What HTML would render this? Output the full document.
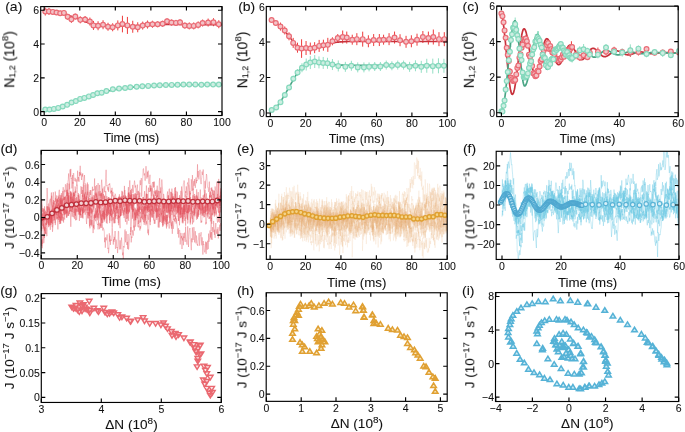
<!DOCTYPE html>
<html><head><meta charset="utf-8"><style>
html,body{margin:0;padding:0;background:#fff;overflow:hidden;}
svg{display:block;} text{will-change:opacity;}
text{font-family:"Liberation Sans", sans-serif;fill:#111;stroke:#111;stroke-width:0.08px;}
</style></head><body>
<svg width="685" height="432" viewBox="0 0 685 432">
<rect width="685" height="432" fill="#fff"/>
<defs><clipPath id="A"><rect x="40.7" y="6.6" width="181.3" height="108.9"/></clipPath><clipPath id="B"><rect x="266.3" y="6.5" width="180.9" height="110.1"/></clipPath><clipPath id="C"><rect x="496.7" y="6.2" width="181.5" height="110.4"/></clipPath><clipPath id="D"><rect x="41.1" y="150.4" width="180.1" height="108.5"/></clipPath><clipPath id="E"><rect x="266.35" y="150.8" width="180.85" height="108.55"/></clipPath><clipPath id="F"><rect x="496.2" y="151.3" width="182.7" height="108.15"/></clipPath><clipPath id="G"><rect x="41.3" y="293.6" width="180" height="108.85"/></clipPath><clipPath id="H"><rect x="266.2" y="292.75" width="181" height="108.6"/></clipPath><clipPath id="I"><rect x="495.5" y="292.55" width="183.2" height="108.95"/></clipPath></defs>
<g clip-path="url(#A)">
<path d="M45.28 7.55V15.55M48.97 7.88V14.88M52.81 9.39V14.39M56.52 10.07V15.07M60.2 10.74V15.74M63.94 10.4V15.4M67.67 13.79V19.79M71.4 15.83V22.83M75.31 13.62V19.62M80.29 16.33V23.33M85.09 16V23M89.89 17.52V25.52M93.45 20.91V29.91M98.07 21.25V30.25M103.05 20.23V29.23M108.03 22.76V30.76M112.65 23.27V31.27M117.81 20.41V30.41M122.43 15.76V32.36M127.41 16.91V33.91M132.74 20.76V32.76M137.72 22.27V32.27M142.7 21.58V29.58M147.5 20.56V28.56M152.48 20.73V27.73M157.64 21.23V27.23M162.61 20.72V26.72M167.06 18.35V24.35M171.5 19.54V25.54M175.95 19.88V25.88M180.04 19.37V25.37M184.84 22.58V28.58M189.28 22.42V29.42M193.73 22.42V29.42M198.17 21.4V28.4M202.62 19.54V26.54M208.13 18.54V26.54M213.47 18.2V26.2M218.8 20.23V28.23" stroke="#ee3b3b" stroke-width="1.0" fill="none"/>
<path d="M45.27 107.07V112.07M49.53 107.07V112.07M53.89 106.4V111.4M58.25 105.38V110.38M62.69 104.03V109.03M67.14 102.34V107.34M71.58 99.97V104.97M75.85 98.62V103.62M80.12 96.42V101.42M84.38 95.41V100.41M88.83 93.89V98.89M93.09 92.54V97.54M97.36 90.68V95.68M101.63 90.17V95.17M106.43 88.48V93.48M112.83 86.79V91.79M119.05 86.12V91.12M125.1 85.44V90.44M130.26 84.76V89.76M136.66 84.26V89.26M142.35 83.75V88.75M148.21 83.41V88.41M154.08 83.07V88.07M159.77 82.74V87.74M165.82 82.57V87.57M171.68 82.4V87.4M177.55 82.23V87.23M183.42 82.06V87.06M189.28 82.06V87.06M195.33 82.06V87.06M201.38 82.23V87.23M207.24 82.06V87.06M213.11 82.06V87.06M218.8 82.06V87.06" stroke="#93dfc4" stroke-width="1.0" fill="none"/>
<path d="M44.2 11.4 45.1 11.4 46 11.4 46.9 11.4 47.8 11.4 48.6 11.5 49.5 11.5 50.4 11.6 51.3 11.6 52.2 11.7 53.1 11.7 54 11.8 54.9 11.9 55.8 12 56.6 12.1 57.5 12.1 58.4 12.2 59.3 12.3 60.2 12.5 61.1 12.7 62 13 62.9 13.3 63.8 13.6 64.6 13.9 65.5 14.3 66.4 14.6 67.3 15 68.2 15.3 69.1 15.6 70 15.9 70.9 16.2 71.8 16.5 72.6 16.9 73.5 17.2 74.4 17.5 75.3 17.8 76.2 18.2 77.1 18.5 78 18.8 78.9 19.2 79.8 19.5 80.6 19.8 81.5 20.2 82.4 20.5 83.3 20.9 84.2 21.2 85.1 21.6 86 21.9 86.9 22.3 87.8 22.6 88.7 22.9 89.5 23.1 90.4 23.4 91.3 23.6 92.2 23.8 93.1 24 94 24.3 94.9 24.5 95.8 24.6 96.7 24.8 97.5 25 98.4 25.1 99.3 25.2 100.2 25.3 101.1 25.4 102 25.5 102.9 25.5 103.8 25.6 104.7 25.6 105.5 25.7 106.4 25.7 107.3 25.7 108.2 25.8 109.1 25.8 110 25.8 110.9 25.9 111.8 25.9 112.7 25.9 113.5 25.9 114.4 25.9 115.3 25.9 116.2 25.9 117.1 25.9 118 25.9 118.9 25.9 119.8 25.9 120.7 25.9 121.5 25.9 122.4 25.9 123.3 25.9 124.2 25.8 125.1 25.8 126 25.8 126.9 25.8 127.8 25.8 128.7 25.7 129.5 25.7 130.4 25.7 131.3 25.7 132.2 25.7 133.1 25.6 134 25.6 134.9 25.6 135.8 25.6 136.7 25.5 137.5 25.5 138.4 25.5 139.3 25.5 140.2 25.5 141.1 25.4 142 25.4 142.9 25.4 143.8 25.4 144.7 25.3 145.5 25.3 146.4 25.3 147.3 25.2 148.2 25.2 149.1 25.1 150 25.1 150.9 25 151.8 25 152.7 25 153.5 24.9 154.4 24.9 155.3 24.8 156.2 24.8 157.1 24.7 158 24.7 158.9 24.6 159.8 24.6 160.7 24.6 161.5 24.5 162.4 24.5 163.3 24.5 164.2 24.5 165.1 24.4 166 24.4 166.9 24.4 167.8 24.4 168.7 24.4 169.5 24.4 170.4 24.4 171.3 24.4 172.2 24.4 173.1 24.4 174 24.4 174.9 24.4 175.8 24.5 176.7 24.5 177.6 24.5 178.4 24.5 179.3 24.5 180.2 24.5 181.1 24.5 182 24.6 182.9 24.6 183.8 24.6 184.7 24.6 185.6 24.6 186.4 24.6 187.3 24.7 188.2 24.7 189.1 24.7 190 24.7 190.9 24.7 191.8 24.7 192.7 24.7 193.6 24.7 194.4 24.7 195.3 24.7 196.2 24.7 197.1 24.7 198 24.7 198.9 24.7 199.8 24.7 200.7 24.7 201.6 24.7 202.4 24.7 203.3 24.7 204.2 24.7 205.1 24.7 206 24.7 206.9 24.7 207.8 24.7 208.7 24.7 209.6 24.7 210.4 24.7 211.3 24.7 212.2 24.7 213.1 24.7 214 24.7 214.9 24.7 215.8 24.6 216.7 24.6 217.6 24.6 218.4 24.6 219.3 24.6 220.2 24.6 221.1 24.6 222 24.6" stroke="#c8323c" stroke-width="1.6" fill="none" stroke-linejoin="round" opacity="1.0"/>
<path d="M44.2 109.7 45.1 109.7 46 109.7 46.9 109.7 47.8 109.6 48.6 109.5 49.5 109.5 50.4 109.4 51.3 109.3 52.2 109.2 53.1 109.1 54 108.9 54.9 108.8 55.8 108.6 56.6 108.4 57.5 108.1 58.4 107.8 59.3 107.6 60.2 107.3 61.1 107 62 106.7 62.9 106.4 63.8 106.1 64.6 105.7 65.5 105.4 66.4 105 67.3 104.6 68.2 104.3 69.1 103.9 70 103.5 70.9 103.1 71.8 102.8 72.6 102.4 73.5 102 74.4 101.6 75.3 101.3 76.2 100.9 77.1 100.5 78 100.1 78.9 99.8 79.8 99.4 80.6 99.1 81.5 98.8 82.4 98.5 83.3 98.2 84.2 97.9 85.1 97.6 86 97.3 86.9 97 87.8 96.7 88.7 96.4 89.5 96.1 90.4 95.8 91.3 95.5 92.2 95.3 93.1 95 94 94.7 94.9 94.5 95.8 94.2 96.7 93.9 97.5 93.7 98.4 93.4 99.3 93.2 100.2 92.9 101.1 92.7 102 92.4 102.9 92.2 103.8 92 104.7 91.7 105.5 91.5 106.4 91.3 107.3 91.1 108.2 90.9 109.1 90.7 110 90.6 110.9 90.4 111.8 90.2 112.7 90 113.5 89.9 114.4 89.7 115.3 89.5 116.2 89.4 117.1 89.2 118 89.1 118.9 89 119.8 88.8 120.7 88.7 121.5 88.5 122.4 88.4 123.3 88.3 124.2 88.2 125.1 88 126 87.9 126.9 87.8 127.8 87.7 128.7 87.6 129.5 87.5 130.4 87.4 131.3 87.3 132.2 87.2 133.1 87.1 134 87 134.9 86.9 135.8 86.8 136.7 86.8 137.5 86.7 138.4 86.6 139.3 86.5 140.2 86.4 141.1 86.4 142 86.3 142.9 86.2 143.8 86.2 144.7 86.1 145.5 86 146.4 86 147.3 85.9 148.2 85.9 149.1 85.8 150 85.8 150.9 85.7 151.8 85.7 152.7 85.7 153.5 85.6 154.4 85.6 155.3 85.5 156.2 85.5 157.1 85.5 158 85.4 158.9 85.4 159.8 85.4 160.7 85.3 161.5 85.3 162.4 85.3 163.3 85.2 164.2 85.2 165.1 85.2 166 85.2 166.9 85.1 167.8 85.1 168.7 85.1 169.5 85.1 170.4 85 171.3 85 172.2 85 173.1 85 174 85 174.9 84.9 175.8 84.9 176.7 84.9 177.6 84.9 178.4 84.9 179.3 84.9 180.2 84.9 181.1 84.9 182 84.8 182.9 84.8 183.8 84.8 184.7 84.8 185.6 84.8 186.4 84.8 187.3 84.8 188.2 84.8 189.1 84.8 190 84.7 190.9 84.7 191.8 84.7 192.7 84.7 193.6 84.7 194.4 84.7 195.3 84.7 196.2 84.7 197.1 84.7 198 84.7 198.9 84.7 199.8 84.7 200.7 84.7 201.6 84.6 202.4 84.6 203.3 84.6 204.2 84.6 205.1 84.6 206 84.6 206.9 84.6 207.8 84.6 208.7 84.6 209.6 84.6 210.4 84.6 211.3 84.6 212.2 84.6 213.1 84.6 214 84.6 214.9 84.6 215.8 84.6 216.7 84.6 217.6 84.6 218.4 84.6 219.3 84.6 220.2 84.6 221.1 84.6 222 84.6" stroke="#4aa585" stroke-width="1.6" fill="none" stroke-linejoin="round" opacity="1.0"/>
<g stroke="#ea6b75" fill="#f3c3c7" stroke-width="1.2" opacity="1.0"><circle cx="45.28" cy="11.55" r="2.4"/><circle cx="48.97" cy="11.38" r="2.4"/><circle cx="52.81" cy="11.89" r="2.4"/><circle cx="56.52" cy="12.57" r="2.4"/><circle cx="60.2" cy="13.24" r="2.4"/><circle cx="63.94" cy="12.9" r="2.4"/><circle cx="67.67" cy="16.79" r="2.4"/><circle cx="71.4" cy="19.33" r="2.4"/><circle cx="75.31" cy="16.62" r="2.4"/><circle cx="80.29" cy="19.83" r="2.4"/><circle cx="85.09" cy="19.5" r="2.4"/><circle cx="89.89" cy="21.52" r="2.4"/><circle cx="93.45" cy="25.41" r="2.4"/><circle cx="98.07" cy="25.75" r="2.4"/><circle cx="103.05" cy="24.73" r="2.4"/><circle cx="108.03" cy="26.76" r="2.4"/><circle cx="112.65" cy="27.27" r="2.4"/><circle cx="117.81" cy="25.41" r="2.4"/><circle cx="122.43" cy="24.06" r="2.4"/><circle cx="127.41" cy="25.41" r="2.4"/><circle cx="132.74" cy="26.76" r="2.4"/><circle cx="137.72" cy="27.27" r="2.4"/><circle cx="142.7" cy="25.58" r="2.4"/><circle cx="147.5" cy="24.56" r="2.4"/><circle cx="152.48" cy="24.23" r="2.4"/><circle cx="157.64" cy="24.23" r="2.4"/><circle cx="162.61" cy="23.72" r="2.4"/><circle cx="167.06" cy="21.35" r="2.4"/><circle cx="171.5" cy="22.54" r="2.4"/><circle cx="175.95" cy="22.88" r="2.4"/><circle cx="180.04" cy="22.37" r="2.4"/><circle cx="184.84" cy="25.58" r="2.4"/><circle cx="189.28" cy="25.92" r="2.4"/><circle cx="193.73" cy="25.92" r="2.4"/><circle cx="198.17" cy="24.9" r="2.4"/><circle cx="202.62" cy="23.04" r="2.4"/><circle cx="208.13" cy="22.54" r="2.4"/><circle cx="213.47" cy="22.2" r="2.4"/><circle cx="218.8" cy="24.23" r="2.4"/></g>
<g stroke="#86d9bd" fill="#cdeee2" stroke-width="1.2" opacity="1.0"><circle cx="45.27" cy="109.57" r="2.4"/><circle cx="49.53" cy="109.57" r="2.4"/><circle cx="53.89" cy="108.9" r="2.4"/><circle cx="58.25" cy="107.88" r="2.4"/><circle cx="62.69" cy="106.53" r="2.4"/><circle cx="67.14" cy="104.84" r="2.4"/><circle cx="71.58" cy="102.47" r="2.4"/><circle cx="75.85" cy="101.12" r="2.4"/><circle cx="80.12" cy="98.92" r="2.4"/><circle cx="84.38" cy="97.91" r="2.4"/><circle cx="88.83" cy="96.39" r="2.4"/><circle cx="93.09" cy="95.04" r="2.4"/><circle cx="97.36" cy="93.18" r="2.4"/><circle cx="101.63" cy="92.67" r="2.4"/><circle cx="106.43" cy="90.98" r="2.4"/><circle cx="112.83" cy="89.29" r="2.4"/><circle cx="119.05" cy="88.62" r="2.4"/><circle cx="125.1" cy="87.94" r="2.4"/><circle cx="130.26" cy="87.26" r="2.4"/><circle cx="136.66" cy="86.76" r="2.4"/><circle cx="142.35" cy="86.25" r="2.4"/><circle cx="148.21" cy="85.91" r="2.4"/><circle cx="154.08" cy="85.57" r="2.4"/><circle cx="159.77" cy="85.24" r="2.4"/><circle cx="165.82" cy="85.07" r="2.4"/><circle cx="171.68" cy="84.9" r="2.4"/><circle cx="177.55" cy="84.73" r="2.4"/><circle cx="183.42" cy="84.56" r="2.4"/><circle cx="189.28" cy="84.56" r="2.4"/><circle cx="195.33" cy="84.56" r="2.4"/><circle cx="201.38" cy="84.73" r="2.4"/><circle cx="207.24" cy="84.56" r="2.4"/><circle cx="213.11" cy="84.56" r="2.4"/><circle cx="218.8" cy="84.56" r="2.4"/></g>
</g>
<g clip-path="url(#B)">
<path d="M271.59 19.99V19.99M275.79 21.51V24.51M280.46 22.56V30.56M284.74 26.46V34.46M289.03 32.32V40.32M293.2 37.89V47.89M297.49 42.68V52.68M301.58 39.27V57.87M306.05 41.03V55.03M310.3 42.57V54.57M314.64 42.18V53.18M319.15 39.91V51.91M323.4 39.7V50.7M327.82 37.84V51.84M332.43 37.29V45.29M337.74 34.09V42.09M342.69 30.53V43.53M346.76 31.56V43.56M352.25 34.69V44.69M356.85 33.16V45.16M362.69 31.66V46.66M368.36 35.29V47.29M373.67 34.05V46.05M379.33 34.05V46.05M383.58 34.69V44.69M389.07 33.16V45.16M394.55 31.56V43.56M400.04 34.23V46.23M406.06 35.82V47.82M411.37 35.29V47.29M417.03 33.69V45.69M422.87 31.03V43.03M428.36 31.59V44.59M433.32 29.53V44.53M438.98 32.16V46.16M444.29 32.16V46.16" stroke="#ee3b3b" stroke-width="1.0" fill="none"/>
<path d="M271.7 108.98V110.98M276.18 106.5V108.5M280.51 100.67V103.67M284.81 93.07V97.07M289.06 84.94V89.94M293.31 75.74V81.74M297.56 69.03V76.03M301.98 63.24V72.24M306.23 58.54V70.54M310.3 56.09V69.09M314.73 55.02V68.03M318.98 56.41V68.41M323.22 56.95V68.94M327.47 57.8V68.8M332.43 59.04V70.04M338.27 60.46V71.46M345.35 61.85V71.85M351.37 60.78V70.78M357.74 62.38V72.38M363.93 62.38V72.38M369.07 62.35V71.35M374.73 62V71M380.39 62V71M386.24 60.57V69.57M391.9 61.28V70.28M397.74 60.57V69.57M403.58 60.57V69.57M409.6 61.85V71.85M415.44 60.28V71.28M421.28 60.85V72.85M426.77 58.78V72.78M432.79 58.64V73.64M438.45 58.28V73.28M443.94 58.78V72.78" stroke="#93dfc4" stroke-width="1.0" fill="none"/>
<path d="M270.3 18.9 271.2 19.4 272.1 19.9 273 20.4 273.8 21 274.7 21.6 275.6 22.3 276.5 23 277.4 23.7 278.3 24.4 279.2 25.1 280 25.9 280.9 26.8 281.8 27.7 282.7 28.7 283.6 29.7 284.5 30.7 285.3 31.7 286.2 32.8 287.1 33.9 288 34.9 288.9 36 289.8 37.2 290.7 38.4 291.5 39.6 292.4 40.9 293.3 42.1 294.2 43.2 295.1 44.3 296 45.2 296.9 45.9 297.7 46.6 298.6 47.2 299.5 47.8 300.4 48.3 301.3 48.6 302.2 48.7 303 48.7 303.9 48.7 304.8 48.7 305.7 48.7 306.6 48.7 307.5 48.7 308.4 48.7 309.2 48.7 310.1 48.7 311 48.7 311.9 48.6 312.8 48.4 313.7 48.3 314.6 48.1 315.4 47.9 316.3 47.7 317.2 47.5 318.1 47.3 319 47.1 319.9 46.9 320.7 46.6 321.6 46.4 322.5 46.1 323.4 45.8 324.3 45.5 325.2 45.2 326.1 44.9 326.9 44.7 327.8 44.4 328.7 44.1 329.6 43.9 330.5 43.6 331.4 43.3 332.2 43.1 333.1 42.8 334 42.6 334.9 42.5 335.8 42.4 336.7 42.3 337.6 42.2 338.4 42.1 339.3 42 340.2 41.9 341.1 41.9 342 41.8 342.9 41.7 343.8 41.7 344.6 41.6 345.5 41.6 346.4 41.5 347.3 41.5 348.2 41.5 349.1 41.5 350 41.5 350.8 41.5 351.7 41.5 352.6 41.5 353.5 41.5 354.4 41.5 355.3 41.5 356.1 41.5 357 41.5 357.9 41.5 358.8 41.5 359.7 41.5 360.6 41.5 361.5 41.5 362.3 41.5 363.2 41.5 364.1 41.5 365 41.5 365.9 41.5 366.8 41.5 367.6 41.5 368.5 41.5 369.4 41.5 370.3 41.5 371.2 41.5 372.1 41.5 373 41.5 373.8 41.5 374.7 41.5 375.6 41.5 376.5 41.5 377.4 41.5 378.3 41.5 379.2 41.5 380 41.5 380.9 41.5 381.8 41.5 382.7 41.5 383.6 41.5 384.5 41.5 385.4 41.5 386.2 41.5 387.1 41.5 388 41.5 388.9 41.5 389.8 41.5 390.7 41.5 391.5 41.5 392.4 41.5 393.3 41.5 394.2 41.5 395.1 41.5 396 41.5 396.9 41.5 397.7 41.5 398.6 41.5 399.5 41.5 400.4 41.5 401.3 41.5 402.2 41.5 403.1 41.5 403.9 41.5 404.8 41.5 405.7 41.5 406.6 41.5 407.5 41.5 408.4 41.5 409.2 41.5 410.1 41.5 411 41.5 411.9 41.5 412.8 41.5 413.7 41.5 414.6 41.5 415.4 41.5 416.3 41.5 417.2 41.5 418.1 41.5 419 41.5 419.9 41.5 420.8 41.5 421.6 41.5 422.5 41.5 423.4 41.5 424.3 41.5 425.2 41.5 426.1 41.5 426.9 41.5 427.8 41.5 428.7 41.5 429.6 41.5 430.5 41.5 431.4 41.5 432.3 41.5 433.1 41.5 434 41.5 434.9 41.5 435.8 41.5 436.7 41.5 437.6 41.5 438.5 41.5 439.3 41.5 440.2 41.5 441.1 41.5 442 41.5 442.9 41.5 443.8 41.5 444.6 41.5 445.5 41.5 446.4 41.5 447.3 41.5" stroke="#c8323c" stroke-width="1.6" fill="none" stroke-linejoin="round" opacity="1.0"/>
<path d="M270.3 111.2 271.2 110.8 272.1 110.4 273 109.8 273.8 109.1 274.7 108.4 275.6 107.6 276.5 106.8 277.4 105.9 278.3 104.9 279.2 103.8 280 102.5 280.9 101.1 281.8 99.7 282.7 98.2 283.6 96.7 284.5 95.2 285.3 93.8 286.2 92.3 287.1 90.7 288 89.1 288.9 87.5 289.8 85.9 290.7 84.3 291.5 82.8 292.4 81.3 293.3 79.7 294.2 78.2 295.1 76.6 296 75.1 296.9 73.7 297.7 72.4 298.6 71.3 299.5 70.2 300.4 69.2 301.3 68.2 302.2 67.3 303 66.4 303.9 65.7 304.8 65.1 305.7 64.7 306.6 64.4 307.5 64.2 308.4 63.9 309.2 63.7 310.1 63.5 311 63.3 311.9 63.1 312.8 63 313.7 63 314.6 62.9 315.4 63 316.3 63 317.2 63.1 318.1 63.1 319 63.2 319.9 63.3 320.7 63.4 321.6 63.5 322.5 63.6 323.4 63.7 324.3 63.7 325.2 63.8 326.1 63.9 326.9 64 327.8 64.1 328.7 64.1 329.6 64.2 330.5 64.3 331.4 64.4 332.2 64.5 333.1 64.6 334 64.7 334.9 64.7 335.8 64.8 336.7 64.9 337.6 64.9 338.4 65 339.3 65 340.2 65.1 341.1 65.1 342 65.1 342.9 65.1 343.8 65.1 344.6 65.1 345.5 65.2 346.4 65.2 347.3 65.2 348.2 65.2 349.1 65.2 350 65.2 350.8 65.2 351.7 65.3 352.6 65.3 353.5 65.3 354.4 65.3 355.3 65.3 356.1 65.3 357 65.3 357.9 65.3 358.8 65.3 359.7 65.3 360.6 65.4 361.5 65.4 362.3 65.4 363.2 65.4 364.1 65.4 365 65.4 365.9 65.4 366.8 65.4 367.6 65.4 368.5 65.4 369.4 65.4 370.3 65.4 371.2 65.4 372.1 65.4 373 65.4 373.8 65.4 374.7 65.4 375.6 65.4 376.5 65.4 377.4 65.4 378.3 65.4 379.2 65.4 380 65.4 380.9 65.4 381.8 65.4 382.7 65.4 383.6 65.4 384.5 65.4 385.4 65.4 386.2 65.4 387.1 65.4 388 65.4 388.9 65.4 389.8 65.4 390.7 65.4 391.5 65.4 392.4 65.4 393.3 65.4 394.2 65.4 395.1 65.4 396 65.4 396.9 65.4 397.7 65.4 398.6 65.4 399.5 65.4 400.4 65.4 401.3 65.4 402.2 65.4 403.1 65.4 403.9 65.4 404.8 65.4 405.7 65.4 406.6 65.4 407.5 65.4 408.4 65.4 409.2 65.4 410.1 65.4 411 65.4 411.9 65.4 412.8 65.4 413.7 65.4 414.6 65.4 415.4 65.4 416.3 65.4 417.2 65.4 418.1 65.4 419 65.4 419.9 65.4 420.8 65.4 421.6 65.4 422.5 65.4 423.4 65.4 424.3 65.4 425.2 65.4 426.1 65.4 426.9 65.4 427.8 65.4 428.7 65.4 429.6 65.4 430.5 65.4 431.4 65.4 432.3 65.4 433.1 65.4 434 65.4 434.9 65.4 435.8 65.4 436.7 65.4 437.6 65.4 438.5 65.4 439.3 65.4 440.2 65.4 441.1 65.4 442 65.4 442.9 65.4 443.8 65.4 444.6 65.4 445.5 65.4 446.4 65.4 447.3 65.4" stroke="#4aa585" stroke-width="1.6" fill="none" stroke-linejoin="round" opacity="1.0"/>
<g stroke="#ea6b75" fill="#f3c3c7" stroke-width="1.2" opacity="1.0"><circle cx="271.59" cy="19.99" r="2.4"/><circle cx="275.79" cy="23.01" r="2.4"/><circle cx="280.46" cy="26.56" r="2.4"/><circle cx="284.74" cy="30.46" r="2.4"/><circle cx="289.03" cy="36.32" r="2.4"/><circle cx="293.2" cy="42.89" r="2.4"/><circle cx="297.49" cy="47.68" r="2.4"/><circle cx="301.58" cy="48.57" r="2.4"/><circle cx="306.05" cy="48.03" r="2.4"/><circle cx="310.3" cy="48.57" r="2.4"/><circle cx="314.64" cy="47.68" r="2.4"/><circle cx="319.15" cy="45.91" r="2.4"/><circle cx="323.4" cy="45.2" r="2.4"/><circle cx="327.82" cy="44.84" r="2.4"/><circle cx="332.43" cy="41.29" r="2.4"/><circle cx="337.74" cy="38.09" r="2.4"/><circle cx="342.69" cy="37.03" r="2.4"/><circle cx="346.76" cy="37.56" r="2.4"/><circle cx="352.25" cy="39.69" r="2.4"/><circle cx="356.85" cy="39.16" r="2.4"/><circle cx="362.69" cy="39.16" r="2.4"/><circle cx="368.36" cy="41.29" r="2.4"/><circle cx="373.67" cy="40.05" r="2.4"/><circle cx="379.33" cy="40.05" r="2.4"/><circle cx="383.58" cy="39.69" r="2.4"/><circle cx="389.07" cy="39.16" r="2.4"/><circle cx="394.55" cy="37.56" r="2.4"/><circle cx="400.04" cy="40.23" r="2.4"/><circle cx="406.06" cy="41.82" r="2.4"/><circle cx="411.37" cy="41.29" r="2.4"/><circle cx="417.03" cy="39.69" r="2.4"/><circle cx="422.87" cy="37.03" r="2.4"/><circle cx="428.36" cy="38.09" r="2.4"/><circle cx="433.32" cy="37.03" r="2.4"/><circle cx="438.98" cy="39.16" r="2.4"/><circle cx="444.29" cy="39.16" r="2.4"/></g>
<g stroke="#86d9bd" fill="#cdeee2" stroke-width="1.2" opacity="1.0"><circle cx="271.7" cy="109.98" r="2.4"/><circle cx="276.18" cy="107.5" r="2.4"/><circle cx="280.51" cy="102.17" r="2.4"/><circle cx="284.81" cy="95.07" r="2.4"/><circle cx="289.06" cy="87.44" r="2.4"/><circle cx="293.31" cy="78.74" r="2.4"/><circle cx="297.56" cy="72.53" r="2.4"/><circle cx="301.98" cy="67.74" r="2.4"/><circle cx="306.23" cy="64.54" r="2.4"/><circle cx="310.3" cy="62.59" r="2.4"/><circle cx="314.73" cy="61.52" r="2.4"/><circle cx="318.98" cy="62.41" r="2.4"/><circle cx="323.22" cy="62.95" r="2.4"/><circle cx="327.47" cy="63.3" r="2.4"/><circle cx="332.43" cy="64.54" r="2.4"/><circle cx="338.27" cy="65.96" r="2.4"/><circle cx="345.35" cy="66.85" r="2.4"/><circle cx="351.37" cy="65.78" r="2.4"/><circle cx="357.74" cy="67.38" r="2.4"/><circle cx="363.93" cy="67.38" r="2.4"/><circle cx="369.07" cy="66.85" r="2.4"/><circle cx="374.73" cy="66.5" r="2.4"/><circle cx="380.39" cy="66.5" r="2.4"/><circle cx="386.24" cy="65.07" r="2.4"/><circle cx="391.9" cy="65.78" r="2.4"/><circle cx="397.74" cy="65.07" r="2.4"/><circle cx="403.58" cy="65.07" r="2.4"/><circle cx="409.6" cy="66.85" r="2.4"/><circle cx="415.44" cy="65.78" r="2.4"/><circle cx="421.28" cy="66.85" r="2.4"/><circle cx="426.77" cy="65.78" r="2.4"/><circle cx="432.79" cy="66.14" r="2.4"/><circle cx="438.45" cy="65.78" r="2.4"/><circle cx="443.94" cy="65.78" r="2.4"/></g>
</g>
<g clip-path="url(#C)">
<path d="M501.4 11.61V15.55M502.46 14.06V18.24M503.52 21.27V23.46M504.58 27.85V32.94M505.64 36.47V39.18M506.7 45.85V49.5M507.76 54.12V55.46M508.83 60.42V61.51M509.89 67.96V75.17M510.95 76.12V78.9M512.01 76.9V81.6M513.07 78.97V82.89M514.13 79.2V82.14M515.19 78.66V81.44M516.25 71.67V77.18M517.31 66.26V69.53M518.37 63.69V67.32M519.43 55.61V59.66M520.49 50.74V57.57M521.56 44.96V50.59M522.62 42.2V47.12M523.68 37.92V40.56M524.74 39.92V40.61M525.8 35.33V41.61M526.86 38.05V44.37M527.92 43.9V47.56M528.98 52.14V57.44M530.04 53.79V59.67M531.1 58.37V64.36M532.16 63.01V69.22M533.22 71.69V74.59M534.28 70.24V77.88M535.35 75.66V76.67M536.41 72.5V78.57M537.47 68.08V73.27M538.53 68.35V74.44M539.59 62.31V70.82M540.65 57.14V64.71M541.71 58.67V59.92M542.77 54.35V54.35M543.83 47.34V53.3M544.89 46.76V48.32M545.95 46V49.97M547.01 41.98V48M548.08 42.95V43M549.14 48.99V48.99M550.2 43.76V48.38M551.26 47.09V51.2M552.32 50.82V54.23M553.38 47.91V52M554.44 53.25V55.19M555.5 59.36V59.72M556.56 56.93V60.53M557.62 57.97V59.64M558.68 60.54V60.59M559.74 56.26V61.47M560.8 57.67V61.52M561.87 54.81V59.78M562.93 53.79V55.42M563.99 55.62V58.04M565.05 52.84V54.45M566.11 52.3V54.18M567.17 47.03V54.5M568.23 49.39V54.51M569.29 46.16V54.01M570.35 45.14V52.95M571.41 41.24V53.1M572.12 45.15V48.81M575.95 50.14V59.27M579.78 54.05V60.84M583.61 51.69V58.66M587.44 55.48V59M589.8 49.68V55.57M597.9 47.51V56.29M606.01 48.28V55.08M614.11 46.75V53.94M622.21 48.8V55.1M630.32 47.22V56.99M638.42 48.55V55.5M646.52 47.54V50.54M654.63 50.01V55.35M662.73 51.11V54.11M670.83 50.06V53.06M678.94 49.59V55.31" stroke="#ee3b3b" stroke-width="1.0" fill="none"/>
<path d="M501.4 107.67V114.87M502.46 109.55V113.66M503.52 105.24V106.43M504.58 99.63V101.37M505.64 86.26V92.98M506.7 78.89V83.27M507.76 69.9V74.01M508.83 58.22V62.09M509.89 49.72V53.81M510.95 33.14V47.07M512.01 27.69V41.02M513.07 21.43V33.95M514.13 23.01V32.5M515.19 17.52V30.74M516.25 24.67V35.03M517.31 27.94V42.57M518.37 34.65V43.6M519.43 46.7V50.37M520.49 53.48V57.46M521.56 59.71V60.53M522.62 68.47V76.61M523.68 73.21V80.71M524.74 76.14V79.03M525.8 73.81V79.66M526.86 73.78V78.69M527.92 73.4V73.4M528.98 65.59V70.19M530.04 61.65V65.51M531.1 59.2V63.4M532.16 53.78V55.2M533.22 47.78V51.13M534.28 41.39V52.96M535.35 34.1V48.95M536.41 34.94V47.74M537.47 31.2V43.18M538.53 31.17V46.84M539.59 35.53V46.2M540.65 39.28V50.35M541.71 43.5V51.5M542.77 50.91V58.67M543.83 54.05V60.36M544.89 55.01V61.21M545.95 62.53V68.14M547.01 59.65V63.91M548.08 64.64V69.16M549.14 60.36V63.75M550.2 62.15V65.66M551.26 57.4V61.53M552.32 54.83V62.46M553.38 56.69V62.02M554.44 50.09V53.95M555.5 48.04V50.65M556.56 48.66V51.14M557.62 44.6V52.45M558.68 44.46V49.67M559.74 45.76V49.93M560.8 42.53V45.7M561.87 46.89V48.23M562.93 45.81V49.65M563.99 47.44V53.54M565.05 50.37V53.43M566.11 53.14V56.6M567.17 48.86V55.32M568.23 52.45V59.71M569.29 53.59V56.77M570.35 54.24V60.68M571.41 56.3V61.25M572.12 53.39V62.52M575.95 52.86V58.01M579.78 46.15V54.53M583.61 44.03V54.69M587.44 47.76V54.01M589.8 51.8V57.36M597.9 50.93V58.39M606.01 44.02V51.01M614.11 49.39V54.01M622.21 48.48V56.58M630.32 44.36V56.2M638.42 45.46V51.84M646.52 50.79V57.3M654.63 49.87V54.36M662.73 49.23V56.99M670.83 53.28V57.29M678.94 48.75V53.1" stroke="#93dfc4" stroke-width="1.0" fill="none"/>
<path d="M501.4 13.5 501.8 14.7 502.1 16.2 502.5 18 502.9 20.2 503.2 22.8 503.6 25.6 504 28.7 504.3 32 504.7 35.5 505.1 39.2 505.5 43 505.8 47 506.2 51 506.6 55 506.9 59 507.3 63 507.7 66.8 508 70.6 508.4 74.1 508.8 77.5 509.1 80.6 509.5 83.5 509.9 86.1 510.2 88.3 510.6 90.3 511 91.8 511.3 93.1 511.7 93.9 512.1 94.3 512.4 94.4 512.8 94.1 513.2 93.5 513.6 92.6 513.9 91.4 514.3 89.9 514.7 88.1 515 86.1 515.4 83.8 515.8 81.4 516.1 78.7 516.5 75.9 516.9 72.9 517.2 69.9 517.6 66.7 518 63.5 518.3 60.3 518.7 57.1 519.1 53.9 519.4 50.8 519.8 47.8 520.2 45 520.6 42.3 520.9 39.8 521.3 37.5 521.7 35.4 522 33.6 522.4 32.1 522.8 30.8 523.1 29.8 523.5 29.2 523.9 28.8 524.2 28.8 524.6 29 525 29.5 525.3 30.2 525.7 31.1 526.1 32.2 526.4 33.6 526.8 35.2 527.2 36.9 527.6 38.8 527.9 40.8 528.3 42.9 528.7 45.2 529 47.5 529.4 49.8 529.8 52.2 530.1 54.5 530.5 56.9 530.9 59.2 531.2 61.4 531.6 63.4 532 65.4 532.3 67.2 532.7 68.9 533.1 70.4 533.4 71.6 533.8 72.7 534.2 73.5 534.5 74.2 534.9 74.5 535.3 74.6 535.7 74.6 536 74.3 536.4 73.8 536.8 73.2 537.1 72.4 537.5 71.5 537.9 70.4 538.2 69.1 538.6 67.8 539 66.3 539.3 64.7 539.7 63.1 540.1 61.3 540.4 59.6 540.8 57.8 541.2 56 541.5 54.2 541.9 52.4 542.3 50.7 542.7 49 543 47.4 543.4 45.9 543.8 44.5 544.1 43.2 544.5 42.1 544.9 41.1 545.2 40.3 545.6 39.6 546 39.2 546.3 38.9 546.7 38.7 547.1 38.8 547.4 38.9 547.8 39.2 548.2 39.6 548.5 40.1 548.9 40.8 549.3 41.5 549.7 42.3 550 43.3 550.4 44.3 550.8 45.4 551.1 46.5 551.5 47.7 551.9 48.9 552.2 50.2 552.6 51.4 553 52.7 553.3 54 553.7 55.2 554.1 56.4 554.4 57.6 554.8 58.7 555.2 59.7 555.5 60.7 555.9 61.6 556.3 62.4 556.6 63 557 63.6 557.4 64 557.8 64.4 558.1 64.6 558.5 64.7 558.9 64.7 559.2 64.5 559.6 64.3 560 64 560.3 63.6 560.7 63.1 561.1 62.5 561.4 61.8 561.8 61.1 562.2 60.3 562.5 59.4 562.9 58.6 563.3 57.6 563.6 56.7 564 55.7 564.4 54.7 564.8 53.7 565.1 52.8 565.5 51.8 565.9 50.9 566.2 50 566.6 49.2 567 48.4 567.3 47.7 567.7 47.1 568.1 46.5 568.4 46.1 568.8 45.7 569.2 45.4 569.5 45.2 569.9 45.1 570.3 45.1 570.6 45.2 571 45.4 571.4 45.6 571.8 45.9 572.1 46.3 572.5 46.7 572.9 47.2 573.2 47.7 573.6 48.3 574 48.9 574.3 49.6 574.7 50.2 575.1 51 575.4 51.7 575.8 52.4 576.2 53.1 576.5 53.9 576.9 54.6 577.3 55.3 577.6 55.9 578 56.6 578.4 57.1 578.8 57.7 579.1 58.2 579.5 58.6 579.9 58.9 580.2 59.2 580.6 59.5 581 59.6 581.3 59.7 581.7 59.7 582.1 59.6 582.4 59.5 582.8 59.4 583.2 59.2 583.5 58.9 583.9 58.6 584.3 58.2 584.6 57.8 585 57.3 585.4 56.9 585.7 56.4 586.1 55.8 586.5 55.3 586.9 54.7 587.2 54.1 587.6 53.6 588 53 588.3 52.4 588.7 51.9 589.1 51.4 589.4 50.9 589.8 50.4 590.2 50 590.5 49.6 590.9 49.3 591.3 49 591.6 48.7 592 48.5 592.4 48.4 592.7 48.3 593.1 48.3 593.5 48.4 593.9 48.4 594.2 48.5 594.6 48.7 595 48.9 595.3 49.1 595.7 49.4 596.1 49.7 596.4 50 596.8 50.3 597.2 50.7 597.5 51.1 597.9 51.5 598.3 51.9 598.6 52.3 599 52.8 599.4 53.2 599.7 53.6 600.1 54 600.5 54.4 600.9 54.7 601.2 55.1 601.6 55.4 602 55.7 602.3 55.9 602.7 56.2 603.1 56.3 603.4 56.5 603.8 56.6 604.2 56.7 604.5 56.7 604.9 56.7 605.3 56.6 605.6 56.6 606 56.5 606.4 56.3 606.7 56.2 607.1 56 607.5 55.8 607.8 55.6 608.2 55.4 608.6 55.1 609 54.9 609.3 54.6 609.7 54.3 610.1 54 610.4 53.7 610.8 53.5 611.2 53.2 611.5 52.9 611.9 52.6 612.3 52.4 612.6 52.1 613 51.9 613.4 51.7 613.7 51.5 614.1 51.3 614.5 51.2 614.8 51 615.2 50.9 615.6 50.9 616 50.8 616.3 50.8 616.7 50.8 617.1 50.9 617.4 50.9 617.8 51 618.2 51.1 618.5 51.2 618.9 51.3 619.3 51.4 619.6 51.6 620 51.7 620.4 51.9 620.7 52.1 621.1 52.3 621.5 52.5 621.8 52.7 622.2 52.9 622.6 53.1 623 53.3 623.3 53.5 623.7 53.6 624.1 53.8 624.4 54 624.8 54.2 625.2 54.3 625.5 54.4 625.9 54.6 626.3 54.7 626.6 54.7 627 54.8 627.4 54.9 627.7 54.9 628.1 54.9 628.5 54.9 628.8 54.9 629.2 54.8 629.6 54.8 629.9 54.7 630.3 54.6 630.7 54.6 631.1 54.5 631.4 54.4 631.8 54.2 632.2 54.1 632.5 54 632.9 53.8 633.3 53.7 633.6 53.5 634 53.4 634.4 53.2 634.7 53.1 635.1 53 635.5 52.8 635.8 52.7 636.2 52.6 636.6 52.4 636.9 52.3 637.3 52.2 637.7 52.1 638.1 52.1 638.4 52 638.8 51.9 639.2 51.9 639.5 51.9 639.9 51.9 640.3 51.9 640.6 51.9 641 51.9 641.4 51.9 641.7 52 642.1 52 642.5 52.1 642.8 52.1 643.2 52.2 643.6 52.3 643.9 52.4 644.3 52.4 644.7 52.5 645 52.6 645.4 52.7 645.8 52.8 646.2 52.9 646.5 52.9 646.9 53 647.3 53.1 647.6 53.2 648 53.3 648.4 53.3 648.7 53.4 649.1 53.5 649.5 53.5 649.8 53.6 650.2 53.6 650.6 53.6 650.9 53.6 651.3 53.7 651.7 53.7 652 53.7 652.4 53.6 652.8 53.6 653.2 53.6 653.5 53.6 653.9 53.6 654.3 53.5 654.6 53.5 655 53.5 655.4 53.4 655.7 53.4 656.1 53.3 656.5 53.3 656.8 53.2 657.2 53.2 657.6 53.1 657.9 53.1 658.3 53 658.7 53 659 52.9 659.4 52.9 659.8 52.8 660.2 52.8 660.5 52.7 660.9 52.7 661.3 52.7 661.6 52.7 662 52.6 662.4 52.6 662.7 52.6 663.1 52.6 663.5 52.6 663.8 52.6 664.2 52.6 664.6 52.6 664.9 52.6 665.3 52.6 665.7 52.6 666 52.6 666.4 52.6 666.8 52.6 667.2 52.6 667.5 52.7 667.9 52.7 668.3 52.7 668.6 52.7 669 52.7 669.4 52.7 669.7 52.7 670.1 52.8 670.5 52.8 670.8 52.8 671.2 52.8 671.6 52.8 671.9 52.8 672.3 52.9 672.7 52.9 673 52.9 673.4 52.9 673.8 52.9 674.1 52.9 674.5 53 674.9 53 675.3 53 675.6 53 676 53 676.4 53 676.7 53 677.1 53.1 677.5 53.1 677.8 53.1 678.2 53.1" stroke="#c8323c" stroke-width="1.7" fill="none" stroke-linejoin="round" opacity="1.0"/>
<path d="M501.4 110.9 501.8 110.8 502.1 110.3 502.5 109.5 502.9 108.3 503.2 106.9 503.6 105.1 504 103.1 504.3 100.8 504.7 98.3 505.1 95.5 505.5 92.5 505.8 89.3 506.2 85.9 506.6 82.4 506.9 78.7 507.3 75 507.7 71.2 508 67.4 508.4 63.5 508.8 59.7 509.1 55.9 509.5 52.2 509.9 48.6 510.2 45.1 510.6 41.8 511 38.6 511.3 35.6 511.7 32.9 512.1 30.4 512.4 28.1 512.8 26.2 513.2 24.5 513.6 23.1 513.9 22 514.3 21.3 514.7 20.9 515 20.8 515.4 21.1 515.8 21.9 516.1 23.1 516.5 24.8 516.9 26.8 517.2 29.2 517.6 32 518 35.1 518.3 38.4 518.7 42 519.1 45.7 519.4 49.5 519.8 53.4 520.2 57.3 520.6 61.1 520.9 64.8 521.3 68.3 521.7 71.7 522 74.8 522.4 77.5 522.8 80 523.1 82 523.5 83.7 523.9 84.9 524.2 85.7 524.6 86 525 86 525.3 85.7 525.7 85.2 526.1 84.5 526.4 83.6 526.8 82.5 527.2 81.2 527.6 79.8 527.9 78.1 528.3 76.4 528.7 74.5 529 72.4 529.4 70.3 529.8 68.1 530.1 65.8 530.5 63.5 530.9 61.2 531.2 58.8 531.6 56.5 532 54.2 532.3 51.9 532.7 49.7 533.1 47.6 533.4 45.6 533.8 43.7 534.2 42 534.5 40.4 534.9 39 535.3 37.8 535.7 36.7 536 35.8 536.4 35.2 536.8 34.7 537.1 34.5 537.5 34.5 537.9 34.7 538.2 35.2 538.6 35.9 539 36.8 539.3 37.9 539.7 39.3 540.1 40.8 540.4 42.5 540.8 44.3 541.2 46.2 541.5 48.2 541.9 50.2 542.3 52.3 542.7 54.4 543 56.4 543.4 58.4 543.8 60.2 544.1 62 544.5 63.6 544.9 65.1 545.2 66.3 545.6 67.4 546 68.2 546.3 68.8 546.7 69.2 547.1 69.3 547.4 69.3 547.8 69.1 548.2 68.9 548.5 68.5 548.9 68.1 549.3 67.5 549.7 66.9 550 66.2 550.4 65.4 550.8 64.5 551.1 63.6 551.5 62.6 551.9 61.6 552.2 60.5 552.6 59.4 553 58.3 553.3 57.1 553.7 56 554.1 54.8 554.4 53.7 554.8 52.5 555.2 51.4 555.5 50.3 555.9 49.3 556.3 48.3 556.6 47.4 557 46.5 557.4 45.8 557.8 45 558.1 44.4 558.5 43.9 558.9 43.4 559.2 43.1 559.6 42.8 560 42.7 560.3 42.6 560.7 42.7 561.1 42.9 561.4 43.1 561.8 43.5 562.2 44 562.5 44.6 562.9 45.2 563.3 45.9 563.6 46.8 564 47.6 564.4 48.5 564.8 49.5 565.1 50.5 565.5 51.4 565.9 52.4 566.2 53.4 566.6 54.3 567 55.3 567.3 56.1 567.7 56.9 568.1 57.7 568.4 58.3 568.8 58.9 569.2 59.4 569.5 59.7 569.9 60 570.3 60.2 570.6 60.2 571 60.2 571.4 60.1 571.8 60 572.1 59.8 572.5 59.6 572.9 59.4 573.2 59.1 573.6 58.7 574 58.3 574.3 57.9 574.7 57.5 575.1 57 575.4 56.5 575.8 56 576.2 55.5 576.5 54.9 576.9 54.4 577.3 53.8 577.6 53.3 578 52.8 578.4 52.3 578.8 51.8 579.1 51.3 579.5 50.8 579.9 50.4 580.2 50 580.6 49.6 581 49.3 581.3 49 581.7 48.8 582.1 48.6 582.4 48.5 582.8 48.4 583.2 48.3 583.5 48.3 583.9 48.4 584.3 48.5 584.6 48.6 585 48.8 585.4 49.1 585.7 49.4 586.1 49.7 586.5 50.1 586.9 50.4 587.2 50.9 587.6 51.3 588 51.7 588.3 52.2 588.7 52.7 589.1 53.1 589.4 53.6 589.8 54.1 590.2 54.5 590.5 54.9 590.9 55.3 591.3 55.7 591.6 56 592 56.3 592.4 56.6 592.7 56.8 593.1 57 593.5 57.1 593.9 57.2 594.2 57.2 594.6 57.2 595 57.2 595.3 57.1 595.7 57 596.1 56.8 596.4 56.6 596.8 56.4 597.2 56.2 597.5 56 597.9 55.7 598.3 55.4 598.6 55.1 599 54.8 599.4 54.5 599.7 54.2 600.1 53.8 600.5 53.5 600.9 53.2 601.2 52.9 601.6 52.5 602 52.2 602.3 52 602.7 51.7 603.1 51.4 603.4 51.2 603.8 51 604.2 50.9 604.5 50.7 604.9 50.6 605.3 50.5 605.6 50.5 606 50.5 606.4 50.5 606.7 50.5 607.1 50.6 607.5 50.6 607.8 50.7 608.2 50.8 608.6 51 609 51.1 609.3 51.3 609.7 51.4 610.1 51.6 610.4 51.8 610.8 52 611.2 52.2 611.5 52.5 611.9 52.7 612.3 52.9 612.6 53.1 613 53.3 613.4 53.5 613.7 53.7 614.1 53.9 614.5 54.1 614.8 54.3 615.2 54.4 615.6 54.5 616 54.6 616.3 54.7 616.7 54.8 617.1 54.9 617.4 54.9 617.8 54.9 618.2 54.9 618.5 54.9 618.9 54.8 619.3 54.8 619.6 54.7 620 54.6 620.4 54.6 620.7 54.5 621.1 54.4 621.5 54.2 621.8 54.1 622.2 54 622.6 53.8 623 53.7 623.3 53.5 623.7 53.4 624.1 53.2 624.4 53.1 624.8 53 625.2 52.8 625.5 52.7 625.9 52.6 626.3 52.4 626.6 52.3 627 52.2 627.4 52.1 627.7 52.1 628.1 52 628.5 51.9 628.8 51.9 629.2 51.9 629.6 51.9 629.9 51.9 630.3 51.9 630.7 51.9 631.1 51.9 631.4 52 631.8 52 632.2 52.1 632.5 52.1 632.9 52.2 633.3 52.3 633.6 52.4 634 52.4 634.4 52.5 634.7 52.6 635.1 52.7 635.5 52.8 635.8 52.9 636.2 52.9 636.6 53 636.9 53.1 637.3 53.2 637.7 53.3 638.1 53.3 638.4 53.4 638.8 53.5 639.2 53.5 639.5 53.6 639.9 53.6 640.3 53.6 640.6 53.6 641 53.7 641.4 53.7 641.7 53.7 642.1 53.6 642.5 53.6 642.8 53.6 643.2 53.6 643.6 53.6 643.9 53.5 644.3 53.5 644.7 53.5 645 53.4 645.4 53.4 645.8 53.3 646.2 53.3 646.5 53.2 646.9 53.2 647.3 53.1 647.6 53.1 648 53 648.4 53 648.7 52.9 649.1 52.9 649.5 52.8 649.8 52.8 650.2 52.7 650.6 52.7 650.9 52.7 651.3 52.7 651.7 52.6 652 52.6 652.4 52.6 652.8 52.6 653.2 52.6 653.5 52.6 653.9 52.6 654.3 52.6 654.6 52.6 655 52.6 655.4 52.6 655.7 52.6 656.1 52.6 656.5 52.6 656.8 52.6 657.2 52.6 657.6 52.6 657.9 52.6 658.3 52.6 658.7 52.6 659 52.6 659.4 52.7 659.8 52.7 660.2 52.7 660.5 52.7 660.9 52.7 661.3 52.7 661.6 52.7 662 52.7 662.4 52.7 662.7 52.7 663.1 52.7 663.5 52.8 663.8 52.8 664.2 52.8 664.6 52.8 664.9 52.8 665.3 52.8 665.7 52.8 666 52.8 666.4 52.8 666.8 52.8 667.2 52.9 667.5 52.9 667.9 52.9 668.3 52.9 668.6 52.9 669 52.9 669.4 52.9 669.7 52.9 670.1 52.9 670.5 53 670.8 53 671.2 53 671.6 53 671.9 53 672.3 53 672.7 53 673 53 673.4 53 673.8 53 674.1 53 674.5 53.1 674.9 53.1 675.3 53.1 675.6 53.1 676 53.1 676.4 53.1 676.7 53.1 677.1 53.1 677.5 53.1 677.8 53.1 678.2 53.1" stroke="#4aa585" stroke-width="1.7" fill="none" stroke-linejoin="round" opacity="1.0"/>
<g stroke="#ea6b75" fill="#f3c3c7" stroke-width="1.2" opacity="1.0"><circle cx="501.4" cy="13.58" r="2.4"/><circle cx="502.46" cy="16.15" r="2.4"/><circle cx="503.52" cy="22.37" r="2.4"/><circle cx="504.58" cy="30.4" r="2.4"/><circle cx="505.64" cy="37.82" r="2.4"/><circle cx="506.7" cy="47.68" r="2.4"/><circle cx="507.76" cy="54.79" r="2.4"/><circle cx="508.83" cy="60.96" r="2.4"/><circle cx="509.89" cy="71.56" r="2.4"/><circle cx="510.95" cy="77.51" r="2.4"/><circle cx="512.01" cy="79.25" r="2.4"/><circle cx="513.07" cy="80.93" r="2.4"/><circle cx="514.13" cy="80.67" r="2.4"/><circle cx="515.19" cy="80.05" r="2.4"/><circle cx="516.25" cy="74.42" r="2.4"/><circle cx="517.31" cy="67.9" r="2.4"/><circle cx="518.37" cy="65.51" r="2.4"/><circle cx="519.43" cy="57.63" r="2.4"/><circle cx="520.49" cy="54.15" r="2.4"/><circle cx="521.56" cy="47.77" r="2.4"/><circle cx="522.62" cy="44.66" r="2.4"/><circle cx="523.68" cy="39.24" r="2.4"/><circle cx="524.74" cy="40.27" r="2.4"/><circle cx="525.8" cy="38.47" r="2.4"/><circle cx="526.86" cy="41.21" r="2.4"/><circle cx="527.92" cy="45.73" r="2.4"/><circle cx="528.98" cy="54.79" r="2.4"/><circle cx="530.04" cy="56.73" r="2.4"/><circle cx="531.1" cy="61.36" r="2.4"/><circle cx="532.16" cy="66.11" r="2.4"/><circle cx="533.22" cy="73.14" r="2.4"/><circle cx="534.28" cy="74.06" r="2.4"/><circle cx="535.35" cy="76.16" r="2.4"/><circle cx="536.41" cy="75.53" r="2.4"/><circle cx="537.47" cy="70.67" r="2.4"/><circle cx="538.53" cy="71.39" r="2.4"/><circle cx="539.59" cy="66.57" r="2.4"/><circle cx="540.65" cy="60.92" r="2.4"/><circle cx="541.71" cy="59.3" r="2.4"/><circle cx="542.77" cy="54.35" r="2.4"/><circle cx="543.83" cy="50.32" r="2.4"/><circle cx="544.89" cy="47.54" r="2.4"/><circle cx="545.95" cy="47.98" r="2.4"/><circle cx="547.01" cy="44.99" r="2.4"/><circle cx="548.08" cy="42.97" r="2.4"/><circle cx="549.14" cy="48.99" r="2.4"/><circle cx="550.2" cy="46.07" r="2.4"/><circle cx="551.26" cy="49.14" r="2.4"/><circle cx="552.32" cy="52.52" r="2.4"/><circle cx="553.38" cy="49.95" r="2.4"/><circle cx="554.44" cy="54.22" r="2.4"/><circle cx="555.5" cy="59.54" r="2.4"/><circle cx="556.56" cy="58.73" r="2.4"/><circle cx="557.62" cy="58.81" r="2.4"/><circle cx="558.68" cy="60.57" r="2.4"/><circle cx="559.74" cy="58.87" r="2.4"/><circle cx="560.8" cy="59.6" r="2.4"/><circle cx="561.87" cy="57.3" r="2.4"/><circle cx="562.93" cy="54.61" r="2.4"/><circle cx="563.99" cy="56.83" r="2.4"/><circle cx="565.05" cy="53.64" r="2.4"/><circle cx="566.11" cy="53.24" r="2.4"/><circle cx="567.17" cy="50.76" r="2.4"/><circle cx="568.23" cy="51.95" r="2.4"/><circle cx="569.29" cy="50.08" r="2.4"/><circle cx="570.35" cy="49.05" r="2.4"/><circle cx="571.41" cy="47.17" r="2.4"/><circle cx="572.12" cy="46.98" r="2.4"/><circle cx="575.95" cy="54.7" r="2.4"/><circle cx="579.78" cy="57.44" r="2.4"/><circle cx="583.61" cy="55.18" r="2.4"/><circle cx="587.44" cy="57.24" r="2.4"/><circle cx="589.8" cy="52.63" r="2.4"/><circle cx="597.9" cy="51.9" r="2.4"/><circle cx="606.01" cy="51.68" r="2.4"/><circle cx="614.11" cy="50.35" r="2.4"/><circle cx="622.21" cy="51.95" r="2.4"/><circle cx="630.32" cy="52.1" r="2.4"/><circle cx="638.42" cy="52.02" r="2.4"/><circle cx="646.52" cy="49.04" r="2.4"/><circle cx="654.63" cy="52.68" r="2.4"/><circle cx="662.73" cy="52.61" r="2.4"/><circle cx="670.83" cy="51.56" r="2.4"/><circle cx="678.94" cy="52.45" r="2.4"/></g>
<g stroke="#86d9bd" fill="#cdeee2" stroke-width="1.2" opacity="1.0"><circle cx="501.4" cy="111.27" r="2.4"/><circle cx="502.46" cy="111.61" r="2.4"/><circle cx="503.52" cy="105.83" r="2.4"/><circle cx="504.58" cy="100.5" r="2.4"/><circle cx="505.64" cy="89.62" r="2.4"/><circle cx="506.7" cy="81.08" r="2.4"/><circle cx="507.76" cy="71.96" r="2.4"/><circle cx="508.83" cy="60.15" r="2.4"/><circle cx="509.89" cy="51.76" r="2.4"/><circle cx="510.95" cy="40.1" r="2.4"/><circle cx="512.01" cy="34.35" r="2.4"/><circle cx="513.07" cy="27.69" r="2.4"/><circle cx="514.13" cy="27.75" r="2.4"/><circle cx="515.19" cy="24.13" r="2.4"/><circle cx="516.25" cy="29.85" r="2.4"/><circle cx="517.31" cy="35.25" r="2.4"/><circle cx="518.37" cy="39.12" r="2.4"/><circle cx="519.43" cy="48.53" r="2.4"/><circle cx="520.49" cy="55.47" r="2.4"/><circle cx="521.56" cy="60.12" r="2.4"/><circle cx="522.62" cy="72.54" r="2.4"/><circle cx="523.68" cy="76.96" r="2.4"/><circle cx="524.74" cy="77.58" r="2.4"/><circle cx="525.8" cy="76.74" r="2.4"/><circle cx="526.86" cy="76.24" r="2.4"/><circle cx="527.92" cy="73.4" r="2.4"/><circle cx="528.98" cy="67.89" r="2.4"/><circle cx="530.04" cy="63.58" r="2.4"/><circle cx="531.1" cy="61.3" r="2.4"/><circle cx="532.16" cy="54.49" r="2.4"/><circle cx="533.22" cy="49.45" r="2.4"/><circle cx="534.28" cy="47.18" r="2.4"/><circle cx="535.35" cy="41.53" r="2.4"/><circle cx="536.41" cy="41.34" r="2.4"/><circle cx="537.47" cy="37.19" r="2.4"/><circle cx="538.53" cy="39.01" r="2.4"/><circle cx="539.59" cy="40.86" r="2.4"/><circle cx="540.65" cy="44.81" r="2.4"/><circle cx="541.71" cy="47.5" r="2.4"/><circle cx="542.77" cy="54.79" r="2.4"/><circle cx="543.83" cy="57.21" r="2.4"/><circle cx="544.89" cy="58.11" r="2.4"/><circle cx="545.95" cy="65.33" r="2.4"/><circle cx="547.01" cy="61.78" r="2.4"/><circle cx="548.08" cy="66.9" r="2.4"/><circle cx="549.14" cy="62.06" r="2.4"/><circle cx="550.2" cy="63.9" r="2.4"/><circle cx="551.26" cy="59.47" r="2.4"/><circle cx="552.32" cy="58.65" r="2.4"/><circle cx="553.38" cy="59.36" r="2.4"/><circle cx="554.44" cy="52.02" r="2.4"/><circle cx="555.5" cy="49.34" r="2.4"/><circle cx="556.56" cy="49.9" r="2.4"/><circle cx="557.62" cy="48.52" r="2.4"/><circle cx="558.68" cy="47.07" r="2.4"/><circle cx="559.74" cy="47.85" r="2.4"/><circle cx="560.8" cy="44.12" r="2.4"/><circle cx="561.87" cy="47.56" r="2.4"/><circle cx="562.93" cy="47.73" r="2.4"/><circle cx="563.99" cy="50.49" r="2.4"/><circle cx="565.05" cy="51.9" r="2.4"/><circle cx="566.11" cy="54.87" r="2.4"/><circle cx="567.17" cy="52.09" r="2.4"/><circle cx="568.23" cy="56.08" r="2.4"/><circle cx="569.29" cy="55.18" r="2.4"/><circle cx="570.35" cy="57.46" r="2.4"/><circle cx="571.41" cy="58.77" r="2.4"/><circle cx="572.12" cy="57.96" r="2.4"/><circle cx="575.95" cy="55.43" r="2.4"/><circle cx="579.78" cy="50.34" r="2.4"/><circle cx="583.61" cy="49.36" r="2.4"/><circle cx="587.44" cy="50.89" r="2.4"/><circle cx="589.8" cy="54.58" r="2.4"/><circle cx="597.9" cy="54.66" r="2.4"/><circle cx="606.01" cy="47.52" r="2.4"/><circle cx="614.11" cy="51.7" r="2.4"/><circle cx="622.21" cy="52.53" r="2.4"/><circle cx="630.32" cy="50.28" r="2.4"/><circle cx="638.42" cy="48.65" r="2.4"/><circle cx="646.52" cy="54.04" r="2.4"/><circle cx="654.63" cy="52.11" r="2.4"/><circle cx="662.73" cy="53.11" r="2.4"/><circle cx="670.83" cy="55.29" r="2.4"/><circle cx="678.94" cy="50.93" r="2.4"/></g>
</g>
<g clip-path="url(#D)">
<path d="M41.3 226.3 41.7 231.2 42 221.1 42.4 213.6 42.7 217.6 43.1 217.3 43.5 208.4 43.8 217.1 44.2 223.1 44.5 230.1 44.9 224.5 45.3 213 45.6 210.7 46 220.8 46.3 224.6 46.7 223.8 47.1 218.4 47.4 218.6 47.8 215.9 48.1 213.9 48.5 216.3 48.9 215.5 49.2 213.4 49.6 213.9 49.9 210.3 50.3 200.1 50.7 203 51 207.2 51.4 219.3 51.7 212 52.1 222.5 52.5 223.7 52.8 210.2 53.2 204.8 53.5 207.3 53.9 217.5 54.3 213.7 54.6 213.6 55 205.3 55.3 191.5 55.7 197.3 56.1 205.7 56.4 211.6 56.8 207.2 57.1 205.6 57.5 210.6 57.9 204.8 58.2 209.6 58.6 197.8 58.9 192.6 59.3 189.8 59.6 197.6 60 194.9 60.4 197.3 60.7 199.6 61.1 200 61.4 205.7 61.8 208.8 62.2 196.3 62.5 196.3 62.9 193.5 63.2 187.2 63.6 200.5 64 200.4 64.3 194.2 64.7 189.8 65 192.1 65.4 184.3 65.8 185.3 66.1 194.1 66.5 195.9 66.8 185.9 67.2 183.2 67.6 195.8 67.9 181.6 68.3 179.4 68.6 173.5 69 181 69.4 183.5 69.7 189.3 70.1 169.5 70.4 176.7 70.8 168.9 71.2 178.7 71.5 177.9 71.9 188.4 72.2 185 72.6 175 73 183.7 73.3 173.4 73.7 173 74 180.9 74.4 181 74.8 180.6 75.1 177.8 75.5 179.3 75.8 181.6 76.2 179.3 76.6 182.6 76.9 185.5 77.3 179.2 77.6 170.7 78 181.4 78.4 177 78.7 178.9 79.1 181.7 79.4 172 79.8 176 80.2 165.8 80.5 175.1 80.9 172.5 81.2 175.3 81.6 180 82 174.3 82.3 176.5 82.7 173.3 83 176.2 83.4 184.1 83.8 182.1 84.1 180.7 84.5 175 84.8 184.1 85.2 183.4 85.6 193.7 85.9 184.4 86.3 191.1 86.6 198.9 87 192.2 87.4 182.5 87.7 194.4 88.1 197.5 88.4 197.1 88.8 199.5 89.2 191.8 89.5 195.7 89.9 197.1 90.2 190 90.6 195 91 190.2 91.3 196.5 91.7 200.8 92 206.5 92.4 186.7 92.8 190.9 93.1 189.4 93.5 190.3 93.8 189.5 94.2 189.7 94.6 178.5 94.9 191.2 95.3 199.9 95.6 200.5 96 202.6 96.3 190.8 96.7 185 97.1 193 97.4 199.1 97.8 195.4 98.1 183.1 98.5 202.9 98.9 191.4 99.2 195.8 99.6 184.9 99.9 192.7 100.3 191.2 100.7 197.8 101 197.5 101.4 182.9 101.7 179.7 102.1 185.5 102.5 190.8 102.8 199.3 103.2 193.9 103.5 189.2 103.9 187.3 104.3 186.4 104.6 192.2 105 188.3 105.3 186.3 105.7 177.3 106.1 169.8 106.4 178.4 106.8 186.1 107.1 185.3 107.5 188.2 107.9 190.3 108.2 187.2 108.6 191.8 108.9 184 109.3 184.9 109.7 183.3 110 185.4 110.4 189.9 110.7 193.4 111.1 190.9 111.5 192 111.8 188 112.2 187.9 112.5 196.3 112.9 191.8 113.3 198.6 113.6 197.6 114 195.5 114.3 205.7 114.7 197.5 115.1 193.7 115.4 194.3 115.8 196.4 116.1 197.4 116.5 201.8 116.9 199.8 117.2 201 117.6 197.8 117.9 204.6 118.3 199.1 118.7 197.5 119 198.7 119.4 201.2 119.7 196.6 120.1 208 120.5 200.5 120.8 198.5 121.2 197.5 121.5 196.4 121.9 202.3 122.3 202.5 122.6 197.2 123 196 123.3 196.7 123.7 207.4 124.1 199.8 124.4 192.4 124.8 190 125.1 193.4 125.5 205.7 125.9 196 126.2 198.1 126.6 213.3 126.9 202.4 127.3 208.6 127.7 210 128 206.5 128.4 193.2 128.7 196.9 129.1 194.5 129.5 184.3 129.8 180.4 130.2 188.7 130.5 193 130.9 200.9 131.2 200.8 131.6 193.7 132 190.5 132.3 190.5 132.7 184.9 133 192.9 133.4 191.9 133.8 186.4 134.1 184.6 134.5 180.6 134.8 182.6 135.2 187.5 135.6 185.5 135.9 192.5 136.3 199.3 136.6 188.7 137 187.6 137.4 184.6 137.7 195.2 138.1 191.7 138.4 191.4 138.8 192.6 139.2 201.4 139.5 193.5 139.9 182.3 140.2 180.3 140.6 185.1 141 183.6 141.3 178.1 141.7 196.7 142 189.1 142.4 181.5 142.8 177.1 143.1 168.9 143.5 168.5 143.8 173.3 144.2 175.4 144.6 173.4 144.9 180.5 145.3 180.7 145.6 175 146 166.2 146.4 175 146.7 178.4 147.1 178.5 147.4 171.8 147.8 177.2 148.2 170.6 148.5 182.6 148.9 183.4 149.2 184.1 149.6 178.6 150 174.8 150.3 188.8 150.7 191.7 151 185.7 151.4 189.3 151.8 196.4 152.1 184.4 152.5 182.5 152.8 182 153.2 187.9 153.6 181.8 153.9 187 154.3 181.6 154.6 191.7 155 196.1 155.4 192.1 155.7 196.1 156.1 189.9 156.4 189.9 156.8 197.4 157.2 195.1 157.5 196.9 157.9 190.4 158.2 197.2 158.6 199.4 159 190.7 159.3 180.9 159.7 178.2 160 189 160.4 193.2 160.8 187.4 161.1 195.1 161.5 203.9 161.8 201.5 162.2 198.7 162.6 205.4 162.9 213.5 163.3 216.1 163.6 204.7 164 208.4 164.4 206.5 164.7 203.6 165.1 199.9 165.4 204.2 165.8 201.1 166.2 208.2 166.5 208.2 166.9 212.2 167.2 201 167.6 202.9 167.9 208.1 168.3 208.1 168.7 207.3 169 201.3 169.4 212.5 169.7 214.2 170.1 210.9 170.5 191.8 170.8 192.7 171.2 199.6 171.5 197.6 171.9 188.6 172.3 198.4 172.6 203.5 173 196.3 173.3 197.3 173.7 196.7 174.1 203.5 174.4 191.8 174.8 187.8 175.1 192.9 175.5 194.4 175.9 211.5 176.2 203 176.6 204.1 176.9 200.8 177.3 197.8 177.7 202.5 178 212.8 178.4 204.9 178.7 208 179.1 206.9 179.5 208 179.8 206.9 180.2 218.2 180.5 201.9 180.9 200.4 181.3 194.5 181.6 186.5 182 194.7 182.3 209.4 182.7 210.4 183.1 212.8 183.4 209.5 183.8 204.5 184.1 214.7 184.5 205.1 184.9 212 185.2 204.1 185.6 203 185.9 203.6 186.3 202.5 186.7 204.7 187 206.1 187.4 213.2 187.7 206.3 188.1 191.9 188.5 184.5 188.8 185.2 189.2 189.2 189.5 199.3 189.9 191 190.3 196.3 190.6 198.8 191 201.2 191.3 199.9 191.7 202.5 192.1 201.6 192.4 207.2 192.8 205.4 193.1 188.6 193.5 195.2 193.9 199.2 194.2 196.3 194.6 194 194.9 203.9 195.3 202.9 195.7 195.7 196 196.3 196.4 197.5 196.7 189.4 197.1 199.2 197.5 199.1 197.8 202.6 198.2 192.1 198.5 208.1 198.9 207.6 199.3 206.5 199.6 198.8 200 195.7 200.3 189.5 200.7 204.7 201.1 197.5 201.4 200.5 201.8 204.2 202.1 198.5 202.5 204.8 202.9 214.6 203.2 208.7 203.6 212.9 203.9 209.6 204.3 202 204.6 198.9 205 189.8 205.4 196.5 205.7 207.6 206.1 207.9 206.4 209 206.8 211.3 207.2 202.4 207.5 204.9 207.9 214 208.2 202 208.6 201.5 209 198.4 209.3 198.5 209.7 195.4 210 197.6 210.4 191.4 210.8 193.4 211.1 194.6 211.5 195 211.8 206.5 212.2 203.8 212.6 203.2 212.9 200.1 213.3 208.2 213.6 193.7 214 196.4 214.4 205.6 214.7 212.8 215.1 207.3 215.4 203.7 215.8 205.9 216.2 202 216.5 204.7 216.9 198.7 217.2 203.7 217.6 201.8 218 194.8 218.3 182 218.7 197.9 219 201.8 219.4 205.8 219.8 197.8 220.1 205.8 220.5 205.5 220.8 202.5 221.2 207" stroke="#e5505c" stroke-width="1.0" fill="none" stroke-linejoin="round" opacity="0.33"/>
<path d="M41.3 235.1 41.7 237.4 42 247.6 42.4 248.2 42.7 242.1 43.1 235.9 43.5 234.8 43.8 243.2 44.2 239.2 44.5 229.8 44.9 226.7 45.3 228.7 45.6 234.1 46 227.5 46.3 231.3 46.7 236.2 47.1 236 47.4 222.6 47.8 223.5 48.1 218.2 48.5 225.2 48.9 219.8 49.2 226.2 49.6 226.2 49.9 210.7 50.3 213.4 50.7 221.9 51 223.1 51.4 221 51.7 214.8 52.1 221.6 52.5 231.8 52.8 227.8 53.2 224 53.5 221.6 53.9 213.4 54.3 215.3 54.6 213.2 55 223.2 55.3 216.1 55.7 205.6 56.1 208.5 56.4 212.7 56.8 215 57.1 206.5 57.5 218.3 57.9 218.8 58.2 215.6 58.6 212.4 58.9 217.7 59.3 215.7 59.6 218.2 60 216.9 60.4 217.7 60.7 223.8 61.1 220 61.4 213 61.8 220.5 62.2 219.6 62.5 213.8 62.9 221.2 63.2 217.2 63.6 222.6 64 212.2 64.3 200.5 64.7 196.9 65 208.3 65.4 207.8 65.8 211.1 66.1 212.6 66.5 204.8 66.8 217.9 67.2 210 67.6 212.7 67.9 205.5 68.3 209.2 68.6 215.9 69 213.3 69.4 209.4 69.7 211.7 70.1 210.1 70.4 215.1 70.8 226.8 71.2 214.3 71.5 209.8 71.9 211 72.2 212 72.6 206.7 73 213 73.3 217.3 73.7 216.2 74 207.6 74.4 218.8 74.8 208.7 75.1 214.9 75.5 220.3 75.8 209 76.2 211.8 76.6 220.1 76.9 218.3 77.3 210 77.6 204.8 78 211.8 78.4 210.2 78.7 207.7 79.1 214.5 79.4 211.8 79.8 212.9 80.2 216.3 80.5 217.7 80.9 215.1 81.2 214.2 81.6 217.4 82 218 82.3 209.5 82.7 210.9 83 207.8 83.4 204.6 83.8 206.8 84.1 198.1 84.5 212.4 84.8 209.3 85.2 214.7 85.6 204.5 85.9 201 86.3 220.7 86.6 224 87 216.1 87.4 212 87.7 210.5 88.1 214.7 88.4 213.6 88.8 212.1 89.2 215.9 89.5 211.2 89.9 228.4 90.2 219.4 90.6 225.2 91 216.4 91.3 219.4 91.7 224.8 92 220 92.4 225.4 92.8 228 93.1 233.1 93.5 226.6 93.8 220.7 94.2 215.1 94.6 219.5 94.9 214.7 95.3 218.7 95.6 221.2 96 218.6 96.3 214.8 96.7 221.4 97.1 223.9 97.4 224.7 97.8 223.9 98.1 229.4 98.5 220.8 98.9 225.5 99.2 222.7 99.6 229.2 99.9 225.4 100.3 223.7 100.7 227.9 101 215.8 101.4 220.2 101.7 214.2 102.1 216.5 102.5 227.1 102.8 230.5 103.2 227.6 103.5 228.6 103.9 229.4 104.3 231.9 104.6 242.2 105 237.8 105.3 247.7 105.7 237.3 106.1 239.2 106.4 240.3 106.8 238.1 107.1 234.5 107.5 243 107.9 248.9 108.2 247.8 108.6 253.2 108.9 249.6 109.3 233.3 109.7 241.6 110 235.6 110.4 244.9 110.7 239.6 111.1 241 111.5 240.3 111.8 236.5 112.2 228.1 112.5 233.6 112.9 236.6 113.3 244.6 113.6 239.2 114 241.8 114.3 236.9 114.7 239.9 115.1 231 115.4 248.8 115.8 247.1 116.1 239.6 116.5 243.5 116.9 247.9 117.2 247 117.6 253.1 117.9 247.2 118.3 231.1 118.7 231.4 119 244.7 119.4 249.4 119.7 248.8 120.1 240.3 120.5 247.1 120.8 249.4 121.2 241.2 121.5 237.6 121.9 243.1 122.3 249.8 122.6 255.2 123 252.5 123.3 260.1 123.7 246 124.1 247.5 124.4 241.5 124.8 230.6 125.1 229.5 125.5 242.3 125.9 236.1 126.2 231.3 126.6 240 126.9 244.9 127.3 241.9 127.7 249 128 234 128.4 249.5 128.7 248.7 129.1 243.1 129.5 240 129.8 236.1 130.2 233.4 130.5 234.7 130.9 227.1 131.2 242.4 131.6 236.6 132 237.8 132.3 233.1 132.7 230.2 133 235.2 133.4 235.5 133.8 227.1 134.1 225.6 134.5 230.6 134.8 216.7 135.2 208.7 135.6 226.7 135.9 224.3 136.3 210.2 136.6 213.6 137 218.2 137.4 222.6 137.7 226.3 138.1 225.8 138.4 227.4 138.8 220.4 139.2 223.8 139.5 225.4 139.9 230.5 140.2 226 140.6 228.7 141 225.7 141.3 217.2 141.7 217.2 142 216.3 142.4 216.7 142.8 218.5 143.1 220.3 143.5 222.1 143.8 216.6 144.2 224.8 144.6 214.3 144.9 217.1 145.3 222.8 145.6 223.8 146 225.3 146.4 221.1 146.7 224.2 147.1 214.7 147.4 221.6 147.8 233.3 148.2 229.5 148.5 235.2 148.9 226.3 149.2 215.8 149.6 213.4 150 223.8 150.3 225.1 150.7 210.9 151 212.9 151.4 215.6 151.8 210.7 152.1 200.2 152.5 202.2 152.8 209.8 153.2 211.9 153.6 211.3 153.9 218.1 154.3 223.8 154.6 219.8 155 223.8 155.4 220.3 155.7 217.8 156.1 203.6 156.4 215.7 156.8 216.9 157.2 217.6 157.5 214.4 157.9 209.3 158.2 216 158.6 220.8 159 227.7 159.3 226.6 159.7 217.5 160 216.2 160.4 221.8 160.8 220.5 161.1 217.5 161.5 213.3 161.8 217.8 162.2 217.7 162.6 226.7 162.9 226.8 163.3 210.7 163.6 225.5 164 221.3 164.4 216.1 164.7 217.2 165.1 220.1 165.4 217 165.8 215.1 166.2 214.7 166.5 224.8 166.9 219.2 167.2 220.7 167.6 219.5 167.9 214.4 168.3 209.5 168.7 205.7 169 211.9 169.4 206.3 169.7 202.2 170.1 200.4 170.5 197.9 170.8 205.6 171.2 209 171.5 204.5 171.9 215.1 172.3 210.5 172.6 212.5 173 212.2 173.3 219.9 173.7 218.2 174.1 212.1 174.4 203.8 174.8 199.3 175.1 203.2 175.5 205.4 175.9 209.9 176.2 204.4 176.6 205.5 176.9 200.8 177.3 191.7 177.7 197.8 178 208.7 178.4 209.7 178.7 213.3 179.1 213.2 179.5 198.3 179.8 197.6 180.2 207.1 180.5 198.5 180.9 190.8 181.3 196.5 181.6 200.6 182 200.3 182.3 196.2 182.7 192 183.1 186.7 183.4 183.8 183.8 182.5 184.1 180.5 184.5 183.5 184.9 197.3 185.2 195.1 185.6 191.2 185.9 193.3 186.3 186.4 186.7 190.5 187 195.4 187.4 183.5 187.7 182.5 188.1 184.3 188.5 180.8 188.8 178.2 189.2 181 189.5 198.4 189.9 195.6 190.3 192.8 190.6 194.4 191 188.1 191.3 179.3 191.7 184.8 192.1 191 192.4 175.1 192.8 182.3 193.1 189.9 193.5 184.6 193.9 180.9 194.2 185.8 194.6 179.1 194.9 183.4 195.3 187.8 195.7 183.2 196 177.6 196.4 183.2 196.7 180 197.1 181 197.5 164.3 197.8 177.4 198.2 171 198.5 176.5 198.9 179.4 199.3 175.7 199.6 173.1 200 169.8 200.3 173.8 200.7 181.1 201.1 184.1 201.4 179.5 201.8 177.2 202.1 171.6 202.5 174.9 202.9 172.9 203.2 169.5 203.6 176.1 203.9 188.9 204.3 193.1 204.6 196.8 205 181.1 205.4 188.5 205.7 180 206.1 180.2 206.4 174 206.8 175.6 207.2 183 207.5 187.2 207.9 187.7 208.2 187.6 208.6 191.9 209 191.2 209.3 181.6 209.7 196.7 210 192.3 210.4 197.3 210.8 193.3 211.1 187.9 211.5 190.8 211.8 187.4 212.2 199.7 212.6 189.6 212.9 195.1 213.3 190.5 213.6 191.1 214 207.6 214.4 204.4 214.7 197.4 215.1 186.5 215.4 189.1 215.8 190.5 216.2 200.9 216.5 189.1 216.9 181.7 217.2 188.7 217.6 193.4 218 203.7 218.3 193.8 218.7 178.9 219 183.7 219.4 182.7 219.8 186.5 220.1 197.1 220.5 188.4 220.8 199.4 221.2 198.5" stroke="#e5505c" stroke-width="1.0" fill="none" stroke-linejoin="round" opacity="0.33"/>
<path d="M41.3 221.9 41.7 216.7 42 216.8 42.4 216.9 42.7 223.2 43.1 228.9 43.5 223.7 43.8 225.6 44.2 229.6 44.5 231.1 44.9 227.2 45.3 233 45.6 232.6 46 233.9 46.3 224.1 46.7 218.3 47.1 206.5 47.4 220.8 47.8 222.5 48.1 214.1 48.5 216.6 48.9 218.2 49.2 207.3 49.6 213.7 49.9 221.1 50.3 225.2 50.7 217.6 51 214.2 51.4 222 51.7 223.1 52.1 214.9 52.5 210.9 52.8 215.8 53.2 210.7 53.5 208.6 53.9 220.7 54.3 217.8 54.6 212.2 55 215.1 55.3 225.1 55.7 219 56.1 210.3 56.4 201.5 56.8 218.7 57.1 199.2 57.5 211.4 57.9 204.9 58.2 200.3 58.6 199.5 58.9 203.7 59.3 212.9 59.6 206.7 60 211.4 60.4 223.5 60.7 198.6 61.1 199.2 61.4 193.1 61.8 205.5 62.2 197.5 62.5 193 62.9 191 63.2 198.8 63.6 208.8 64 207.3 64.3 217.8 64.7 219.6 65 210.1 65.4 211.7 65.8 207.6 66.1 205.2 66.5 192.4 66.8 190.1 67.2 196.4 67.6 192 67.9 201 68.3 202.4 68.6 195.8 69 204.8 69.4 203.3 69.7 208.3 70.1 202.3 70.4 190.9 70.8 199 71.2 197 71.5 202.3 71.9 206 72.2 208 72.6 193.6 73 181.9 73.3 187.2 73.7 196.2 74 192.1 74.4 196.1 74.8 191.4 75.1 192.1 75.5 192.4 75.8 190.7 76.2 196.6 76.6 198.2 76.9 206.4 77.3 202.8 77.6 206.8 78 201.4 78.4 203.5 78.7 198.5 79.1 194.4 79.4 203.1 79.8 203.6 80.2 204.6 80.5 195.6 80.9 186.2 81.2 186.8 81.6 194 82 187 82.3 200.8 82.7 190 83 197.4 83.4 212.8 83.8 189.2 84.1 184.7 84.5 197.5 84.8 196.6 85.2 198.4 85.6 197.6 85.9 206.2 86.3 205.7 86.6 199.1 87 197.6 87.4 191.6 87.7 195.3 88.1 184.3 88.4 196.7 88.8 196.9 89.2 209.4 89.5 211.4 89.9 197.9 90.2 204.7 90.6 199.6 91 200.7 91.3 206.9 91.7 205.9 92 206.5 92.4 206.7 92.8 200 93.1 197.6 93.5 203.6 93.8 208.3 94.2 203.8 94.6 204 94.9 197.9 95.3 186.1 95.6 191.1 96 198.4 96.3 202.6 96.7 208.4 97.1 211.4 97.4 213.4 97.8 211 98.1 210.2 98.5 203.3 98.9 206.7 99.2 207.2 99.6 213.3 99.9 199.9 100.3 200.4 100.7 193.5 101 196 101.4 193.3 101.7 201.9 102.1 200.4 102.5 188.6 102.8 205.5 103.2 199.6 103.5 194 103.9 198.7 104.3 198.9 104.6 196.1 105 205.9 105.3 204.2 105.7 210.8 106.1 212.7 106.4 213.2 106.8 210.7 107.1 208 107.5 205 107.9 214.4 108.2 199.1 108.6 197 108.9 198.5 109.3 205.5 109.7 207.1 110 204.2 110.4 203.7 110.7 215.5 111.1 206.9 111.5 190.5 111.8 210.6 112.2 203.3 112.5 203.6 112.9 206.6 113.3 199.3 113.6 210.9 114 208.3 114.3 199.6 114.7 205.3 115.1 209.2 115.4 207.9 115.8 210.5 116.1 200.2 116.5 209.8 116.9 203.8 117.2 213.4 117.6 206.7 117.9 208.1 118.3 223.1 118.7 215 119 217.5 119.4 215 119.7 202.4 120.1 212.1 120.5 216.2 120.8 203.5 121.2 205.5 121.5 198.2 121.9 201.9 122.3 210.6 122.6 209.8 123 201.9 123.3 200.1 123.7 204.7 124.1 206.5 124.4 208.3 124.8 211.8 125.1 198.8 125.5 204.1 125.9 213.1 126.2 213.4 126.6 206.5 126.9 204 127.3 207.3 127.7 211.9 128 210 128.4 218.9 128.7 220.8 129.1 209.5 129.5 211.8 129.8 207.9 130.2 201.2 130.5 201.6 130.9 205.3 131.2 194.8 131.6 198.6 132 206.2 132.3 203.3 132.7 203.9 133 211.4 133.4 209.5 133.8 209.9 134.1 220.6 134.5 215 134.8 213.1 135.2 213.1 135.6 220.1 135.9 215.8 136.3 212 136.6 209.5 137 215.5 137.4 207.9 137.7 215.2 138.1 212.7 138.4 202.7 138.8 209.8 139.2 211.9 139.5 203.7 139.9 208.4 140.2 210 140.6 207.7 141 201.8 141.3 218 141.7 217.3 142 218 142.4 218.8 142.8 217.8 143.1 217.2 143.5 210.3 143.8 214.1 144.2 209.9 144.6 206.4 144.9 211.3 145.3 208.6 145.6 198.6 146 201.7 146.4 208.6 146.7 208.4 147.1 213.2 147.4 208.5 147.8 202.9 148.2 210.1 148.5 209.8 148.9 202 149.2 207.8 149.6 206.4 150 212.8 150.3 214.4 150.7 213.4 151 197.7 151.4 205.2 151.8 209.2 152.1 211.2 152.5 209.9 152.8 204.6 153.2 204.9 153.6 194.5 153.9 200.1 154.3 195.7 154.6 200.3 155 200.6 155.4 212.2 155.7 210 156.1 208.7 156.4 209.1 156.8 220 157.2 207.8 157.5 209.5 157.9 210.5 158.2 210 158.6 209.6 159 205.8 159.3 213.7 159.7 215.4 160 209.3 160.4 207.5 160.8 209.7 161.1 212 161.5 214.6 161.8 211.5 162.2 203.3 162.6 212.4 162.9 202.1 163.3 201.5 163.6 208.8 164 205.3 164.4 216.6 164.7 223.4 165.1 224.2 165.4 219.9 165.8 217.7 166.2 218 166.5 215 166.9 226.5 167.2 217.1 167.6 224 167.9 223.1 168.3 221.6 168.7 225.4 169 228.6 169.4 228.3 169.7 222.9 170.1 217.3 170.5 215.3 170.8 223.5 171.2 226.3 171.5 228.7 171.9 222.3 172.3 233.8 172.6 220.8 173 225 173.3 228.9 173.7 224.6 174.1 219.1 174.4 220.8 174.8 217.9 175.1 222.1 175.5 218.1 175.9 216.5 176.2 223.6 176.6 218.5 176.9 223.6 177.3 226.6 177.7 233.9 178 233.9 178.4 228.2 178.7 237.6 179.1 231 179.5 230 179.8 230.2 180.2 244.5 180.5 239.3 180.9 232.9 181.3 238.2 181.6 235.9 182 249 182.3 237.8 182.7 240.4 183.1 233.1 183.4 245.2 183.8 236.5 184.1 237.9 184.5 232.7 184.9 240.3 185.2 241.9 185.6 226.6 185.9 237.1 186.3 241.2 186.7 240.7 187 244.7 187.4 234.1 187.7 226.3 188.1 236.6 188.5 247 188.8 235.4 189.2 230.6 189.5 230.1 189.9 228 190.3 238.6 190.6 239.4 191 246.7 191.3 250.2 191.7 238.3 192.1 242.3 192.4 227.5 192.8 233.3 193.1 240 193.5 235 193.9 227.1 194.2 231 194.6 242.4 194.9 238.6 195.3 231.2 195.7 238.5 196 243.4 196.4 235.5 196.7 237 197.1 244.7 197.5 244.1 197.8 246 198.2 240.9 198.5 239.7 198.9 233.3 199.3 233 199.6 245.7 200 240.3 200.3 235.1 200.7 235.3 201.1 232.2 201.4 239.7 201.8 245.3 202.1 237.3 202.5 244.9 202.9 254.6 203.2 241 203.6 244.7 203.9 244.1 204.3 249.9 204.6 252.2 205 252.2 205.4 247.8 205.7 241.6 206.1 253.9 206.4 242.3 206.8 247.9 207.2 249.8 207.5 240.8 207.9 240.9 208.2 249.1 208.6 233.6 209 241.8 209.3 239.1 209.7 238 210 230.5 210.4 237.5 210.8 232.2 211.1 239.5 211.5 232 211.8 239.1 212.2 239.8 212.6 227.1 212.9 230 213.3 232.2 213.6 220.9 214 226.1 214.4 234.8 214.7 229.7 215.1 237.8 215.4 228.2 215.8 223 216.2 230.4 216.5 233.7 216.9 230.3 217.2 229.3 217.6 234.1 218 227.2 218.3 238.5 218.7 234.1 219 231.6 219.4 229.3 219.8 224.7 220.1 230.9 220.5 223.1 220.8 223.5 221.2 226" stroke="#e5505c" stroke-width="1.0" fill="none" stroke-linejoin="round" opacity="0.33"/>
<path d="M41.3 239.6 41.7 246 42 239.2 42.4 243.8 42.7 239.2 43.1 230.7 43.5 226.7 43.8 221.4 44.2 229.8 44.5 238 44.9 228.6 45.3 228.3 45.6 222.9 46 226.8 46.3 221.1 46.7 220.2 47.1 220.3 47.4 221.3 47.8 222 48.1 223 48.5 223.2 48.9 218.3 49.2 224.9 49.6 213.9 49.9 219.8 50.3 215.5 50.7 219.8 51 222.4 51.4 209.5 51.7 217.6 52.1 226.8 52.5 227.3 52.8 224.8 53.2 208.5 53.5 212.7 53.9 209.9 54.3 220.1 54.6 216.3 55 212.4 55.3 203.6 55.7 214.6 56.1 211.4 56.4 211.6 56.8 219.6 57.1 216.9 57.5 217 57.9 229.4 58.2 217.1 58.6 211.7 58.9 215.1 59.3 222 59.6 207.9 60 208.8 60.4 204.5 60.7 200 61.1 209.6 61.4 205.7 61.8 210.2 62.2 211.1 62.5 211.4 62.9 211 63.2 203.9 63.6 206.6 64 209.4 64.3 211.3 64.7 208.2 65 214.3 65.4 214.5 65.8 211.7 66.1 213.5 66.5 211.5 66.8 213.5 67.2 198.4 67.6 195.6 67.9 199.6 68.3 204.3 68.6 192.8 69 198.8 69.4 203.9 69.7 203.7 70.1 203.5 70.4 196.7 70.8 202.2 71.2 191.7 71.5 205 71.9 201.4 72.2 209.9 72.6 196.6 73 203.6 73.3 205 73.7 199.6 74 195.1 74.4 207.4 74.8 208.2 75.1 214.9 75.5 208.5 75.8 207.1 76.2 207.9 76.6 210.3 76.9 209.5 77.3 211.3 77.6 204.3 78 195.2 78.4 211.9 78.7 208.4 79.1 208.7 79.4 203.3 79.8 209.6 80.2 207.5 80.5 212 80.9 203.5 81.2 203.3 81.6 204.8 82 202.3 82.3 204.9 82.7 214.1 83 205.2 83.4 203.1 83.8 204.9 84.1 198.9 84.5 194.8 84.8 207 85.2 210.7 85.6 198.3 85.9 193.6 86.3 204.7 86.6 212.4 87 212.7 87.4 212 87.7 218.4 88.1 211.6 88.4 216.6 88.8 218.5 89.2 206.6 89.5 211 89.9 209.4 90.2 204.5 90.6 201.4 91 207 91.3 207.3 91.7 212.9 92 199.9 92.4 200.8 92.8 212 93.1 210.4 93.5 205.5 93.8 204.8 94.2 196.4 94.6 195.5 94.9 206.8 95.3 209.3 95.6 217.7 96 212.3 96.3 210.6 96.7 194.5 97.1 203.1 97.4 220.3 97.8 219.6 98.1 214.6 98.5 220.7 98.9 221.2 99.2 218.4 99.6 213 99.9 213.6 100.3 218.4 100.7 210.4 101 214.9 101.4 216.8 101.7 223 102.1 222.2 102.5 213.2 102.8 222.9 103.2 217.9 103.5 210.9 103.9 214.4 104.3 212.2 104.6 219.4 105 208 105.3 204.1 105.7 207.5 106.1 221.1 106.4 222.9 106.8 211.4 107.1 201.8 107.5 206 107.9 202 108.2 211.5 108.6 213.1 108.9 212.7 109.3 209.8 109.7 220.3 110 210 110.4 203 110.7 214.7 111.1 221.2 111.5 213.7 111.8 216.3 112.2 227.8 112.5 213.6 112.9 211.1 113.3 213.8 113.6 199.2 114 204.5 114.3 212.2 114.7 210.4 115.1 216.4 115.4 217.3 115.8 210.6 116.1 213.3 116.5 213.7 116.9 201 117.2 200.1 117.6 199.9 117.9 201.4 118.3 202.2 118.7 196.6 119 202.9 119.4 194.3 119.7 207.4 120.1 208.9 120.5 216.3 120.8 213.3 121.2 206.6 121.5 197.9 121.9 206.7 122.3 206.5 122.6 208.5 123 211.7 123.3 215.7 123.7 209.9 124.1 218.1 124.4 210.5 124.8 207.6 125.1 210.3 125.5 213.6 125.9 217.3 126.2 199.2 126.6 210.4 126.9 197.9 127.3 198 127.7 203.8 128 211.2 128.4 201.2 128.7 192.5 129.1 204.7 129.5 206.3 129.8 198.8 130.2 199.8 130.5 190.1 130.9 201.3 131.2 199.6 131.6 209.7 132 194 132.3 204.1 132.7 217.6 133 211.1 133.4 208.3 133.8 194.6 134.1 202.1 134.5 203.6 134.8 200.6 135.2 193.3 135.6 200.1 135.9 196.5 136.3 198.1 136.6 203.8 137 204.2 137.4 204.7 137.7 210.8 138.1 200.7 138.4 211.9 138.8 201.6 139.2 198.3 139.5 203.3 139.9 209.7 140.2 209.4 140.6 205.1 141 201.6 141.3 202.9 141.7 199.3 142 207.2 142.4 206 142.8 216.5 143.1 207.2 143.5 206.8 143.8 210.2 144.2 202.2 144.6 201.6 144.9 222.7 145.3 214.9 145.6 220.6 146 208 146.4 193.8 146.7 205.7 147.1 207.6 147.4 210.5 147.8 208.2 148.2 205.5 148.5 200.5 148.9 212.1 149.2 201.9 149.6 212.6 150 210.2 150.3 203.8 150.7 203.7 151 213.8 151.4 216.9 151.8 216.9 152.1 214.5 152.5 206.3 152.8 217.4 153.2 211.8 153.6 208.5 153.9 207.3 154.3 207.4 154.6 201.1 155 204.6 155.4 203.9 155.7 205.5 156.1 198.7 156.4 218.1 156.8 207.5 157.2 212.1 157.5 214.4 157.9 219.5 158.2 227.3 158.6 221.8 159 221.1 159.3 213.7 159.7 222.3 160 208.5 160.4 209.3 160.8 212.9 161.1 217.2 161.5 219.7 161.8 222.8 162.2 220.7 162.6 216.4 162.9 215.5 163.3 222.6 163.6 218.9 164 221 164.4 215.5 164.7 202.7 165.1 204.4 165.4 210.9 165.8 221.7 166.2 225.3 166.5 228.5 166.9 215.4 167.2 218.4 167.6 214.8 167.9 217.3 168.3 214.1 168.7 204.7 169 213 169.4 214.7 169.7 218.3 170.1 209.6 170.5 217.3 170.8 221.3 171.2 224.7 171.5 226.3 171.9 215.6 172.3 198 172.6 211.7 173 206 173.3 207.7 173.7 216.6 174.1 215.6 174.4 214.9 174.8 217.3 175.1 202.5 175.5 219 175.9 212.6 176.2 210 176.6 214.3 176.9 211.8 177.3 206.2 177.7 208.1 178 207.3 178.4 205.2 178.7 220.8 179.1 206.5 179.5 195.2 179.8 197.9 180.2 199 180.5 214.1 180.9 213 181.3 216.7 181.6 217 182 207.7 182.3 214.2 182.7 213 183.1 223.3 183.4 217.2 183.8 213 184.1 215.9 184.5 217.3 184.9 202.1 185.2 214 185.6 218.3 185.9 218.8 186.3 206.9 186.7 196 187 201.8 187.4 210.8 187.7 213 188.1 205 188.5 213.3 188.8 202.7 189.2 198.1 189.5 204.2 189.9 203.4 190.3 202.4 190.6 197.1 191 210.5 191.3 202.9 191.7 209 192.1 214 192.4 211 192.8 211.6 193.1 216.5 193.5 222.4 193.9 221 194.2 205.9 194.6 196 194.9 199.4 195.3 197.7 195.7 207.3 196 208.9 196.4 207.4 196.7 215 197.1 217.8 197.5 212.5 197.8 212.6 198.2 217.1 198.5 210.4 198.9 211.2 199.3 203.8 199.6 206.7 200 209.7 200.3 208.5 200.7 209.7 201.1 213.3 201.4 213.3 201.8 206.2 202.1 203.7 202.5 198.7 202.9 214.4 203.2 213.6 203.6 213.4 203.9 209.7 204.3 211.8 204.6 213.1 205 205.8 205.4 206.1 205.7 214.4 206.1 203 206.4 199.9 206.8 208 207.2 203.1 207.5 210.3 207.9 202.3 208.2 206.8 208.6 212.4 209 212.3 209.3 214.6 209.7 209.8 210 207.7 210.4 207.6 210.8 211.1 211.1 231.5 211.5 217.9 211.8 223.8 212.2 213.5 212.6 203.5 212.9 204.1 213.3 208.4 213.6 209.1 214 209 214.4 211.5 214.7 212.8 215.1 215.5 215.4 203.8 215.8 205.9 216.2 200.9 216.5 205.9 216.9 206.2 217.2 207.8 217.6 204.7 218 201 218.3 202.9 218.7 209.3 219 212.8 219.4 199.6 219.8 205.4 220.1 208 220.5 198.5 220.8 196.5 221.2 199" stroke="#e5505c" stroke-width="1.0" fill="none" stroke-linejoin="round" opacity="0.33"/>
<path d="M41.3 213.1 41.7 199.2 42 204 42.4 205 42.7 209.4 43.1 218.3 43.5 221.6 43.8 213 44.2 208.9 44.5 210.5 44.9 216.4 45.3 220.4 45.6 215.6 46 219.7 46.3 207.9 46.7 200.9 47.1 188 47.4 193.1 47.8 203.7 48.1 209.9 48.5 227.2 48.9 218.5 49.2 212 49.6 202.3 49.9 199.9 50.3 198.7 50.7 200.2 51 198.1 51.4 192.5 51.7 204.2 52.1 205.9 52.5 211.8 52.8 197.1 53.2 192.2 53.5 193 53.9 204.3 54.3 201.5 54.6 202.4 55 200.9 55.3 201.6 55.7 197.8 56.1 201.2 56.4 195.5 56.8 196.3 57.1 199.7 57.5 200 57.9 202 58.2 195.6 58.6 198.9 58.9 197.1 59.3 200.1 59.6 207.7 60 197.4 60.4 203.9 60.7 196.9 61.1 195.2 61.4 206.3 61.8 207.2 62.2 205.1 62.5 205.9 62.9 208.4 63.2 198.5 63.6 199.6 64 196.6 64.3 199.8 64.7 197.1 65 202 65.4 200 65.8 195.6 66.1 196.7 66.5 200.1 66.8 205.3 67.2 200.4 67.6 197.2 67.9 199.2 68.3 203.1 68.6 197.3 69 183.6 69.4 193.4 69.7 194.2 70.1 194.3 70.4 211.2 70.8 203.4 71.2 204.7 71.5 193.3 71.9 197.6 72.2 202.5 72.6 201.6 73 198.9 73.3 201.9 73.7 200.4 74 207.2 74.4 203.8 74.8 196.5 75.1 186.5 75.5 189.2 75.8 192.9 76.2 189.4 76.6 188.8 76.9 184.8 77.3 186.4 77.6 194 78 195.2 78.4 196.3 78.7 196.1 79.1 196.6 79.4 202.5 79.8 212.7 80.2 209.1 80.5 215.3 80.9 206.1 81.2 202.3 81.6 210.3 82 200.4 82.3 194.9 82.7 196.9 83 188.8 83.4 184 83.8 199.5 84.1 193.6 84.5 194.4 84.8 194.9 85.2 192.2 85.6 200.5 85.9 203.5 86.3 206.2 86.6 207.1 87 203.7 87.4 210 87.7 210.5 88.1 201.5 88.4 201.1 88.8 198.4 89.2 210.2 89.5 209.3 89.9 207.5 90.2 203.4 90.6 205.2 91 197.3 91.3 199.5 91.7 200 92 200.4 92.4 196.6 92.8 201.6 93.1 194.9 93.5 195.6 93.8 197.8 94.2 199.4 94.6 197.5 94.9 193.8 95.3 192.6 95.6 195.3 96 193.8 96.3 197.4 96.7 192.6 97.1 197.9 97.4 212 97.8 198.8 98.1 200 98.5 207.9 98.9 205.9 99.2 209 99.6 193.3 99.9 195.5 100.3 208.4 100.7 202.1 101 204.7 101.4 192.7 101.7 204.3 102.1 216.4 102.5 208.7 102.8 207.6 103.2 207.5 103.5 217.4 103.9 207.2 104.3 195.5 104.6 210.8 105 200.1 105.3 205.2 105.7 190.9 106.1 195.4 106.4 201 106.8 196.2 107.1 197.4 107.5 204.3 107.9 200 108.2 205.1 108.6 214.7 108.9 197.2 109.3 203 109.7 207.1 110 203.5 110.4 212.8 110.7 215.8 111.1 212.3 111.5 210.8 111.8 206.8 112.2 198.9 112.5 204.6 112.9 201.6 113.3 199.6 113.6 208.3 114 204.8 114.3 209.8 114.7 200.6 115.1 200 115.4 202.1 115.8 210.9 116.1 206.4 116.5 209.5 116.9 202.4 117.2 203.8 117.6 208.4 117.9 200.5 118.3 198.1 118.7 204.5 119 197.3 119.4 202.3 119.7 204.6 120.1 203.1 120.5 207.4 120.8 207.5 121.2 205.9 121.5 195.4 121.9 190.8 122.3 198.7 122.6 191.6 123 197.7 123.3 198 123.7 195.2 124.1 197.2 124.4 185.9 124.8 193.2 125.1 204.7 125.5 195.4 125.9 201.1 126.2 202.9 126.6 219 126.9 203.4 127.3 197.3 127.7 194.6 128 192.3 128.4 187.1 128.7 194.7 129.1 192.4 129.5 200.9 129.8 202.4 130.2 195 130.5 195.4 130.9 205.4 131.2 200.1 131.6 200.8 132 204.7 132.3 199.2 132.7 201.5 133 209.1 133.4 209.9 133.8 193.7 134.1 205.2 134.5 200.3 134.8 195.9 135.2 193.7 135.6 203.4 135.9 202.5 136.3 199.4 136.6 194.2 137 200.1 137.4 205.7 137.7 195.8 138.1 190.8 138.4 192.7 138.8 199.1 139.2 196.2 139.5 196.6 139.9 192.6 140.2 202.7 140.6 199.5 141 199.6 141.3 205.1 141.7 200 142 198.7 142.4 200.7 142.8 197 143.1 205.7 143.5 201.8 143.8 197.3 144.2 196.1 144.6 191.1 144.9 201.8 145.3 208.4 145.6 201.4 146 197 146.4 185.5 146.7 189 147.1 199 147.4 194 147.8 201.2 148.2 208.1 148.5 187.7 148.9 191.7 149.2 191.2 149.6 191.9 150 185.1 150.3 190.8 150.7 188 151 199.6 151.4 206.9 151.8 194.1 152.1 188.1 152.5 190.9 152.8 193.8 153.2 195.5 153.6 201.1 153.9 190.9 154.3 191.4 154.6 192.5 155 193.7 155.4 190.5 155.7 192.1 156.1 191.5 156.4 202.2 156.8 197.4 157.2 185.7 157.5 195.9 157.9 198.3 158.2 193.6 158.6 191.1 159 191.9 159.3 205.1 159.7 198.9 160 205.8 160.4 206.9 160.8 199.5 161.1 201 161.5 195.4 161.8 179.5 162.2 186 162.6 189.2 162.9 199.9 163.3 203.3 163.6 207.3 164 206.1 164.4 208.7 164.7 207.5 165.1 204.3 165.4 207.5 165.8 211.3 166.2 212.7 166.5 203 166.9 200.9 167.2 194.5 167.6 191.5 167.9 198.1 168.3 195.3 168.7 206.2 169 189.8 169.4 188.7 169.7 196.3 170.1 205.2 170.5 200.5 170.8 211.3 171.2 209.9 171.5 200.6 171.9 200.4 172.3 203.6 172.6 196.8 173 205.3 173.3 201.6 173.7 204.4 174.1 207.8 174.4 201.9 174.8 207.7 175.1 193.8 175.5 201.8 175.9 190.8 176.2 203.6 176.6 199.7 176.9 208.4 177.3 213.2 177.7 206.8 178 201.1 178.4 209.8 178.7 199.7 179.1 206.6 179.5 204.5 179.8 202.2 180.2 200.1 180.5 212.9 180.9 199.2 181.3 199.2 181.6 204.9 182 211 182.3 217.7 182.7 218.8 183.1 208.5 183.4 209.1 183.8 213.9 184.1 212.7 184.5 200.3 184.9 205.6 185.2 209.6 185.6 200.3 185.9 201.3 186.3 204.3 186.7 209.4 187 217.2 187.4 218.5 187.7 215.3 188.1 212.4 188.5 207.8 188.8 204.7 189.2 205.2 189.5 205.6 189.9 212.8 190.3 222.6 190.6 217.7 191 218.1 191.3 216.5 191.7 213.7 192.1 218 192.4 219.2 192.8 213.9 193.1 210.4 193.5 213.2 193.9 207.8 194.2 209.5 194.6 214.9 194.9 211.2 195.3 199 195.7 208.2 196 201.7 196.4 197.6 196.7 195.1 197.1 207.2 197.5 196.4 197.8 202.4 198.2 207.2 198.5 209.2 198.9 205.3 199.3 206.6 199.6 208.5 200 201 200.3 209.1 200.7 214.5 201.1 206.4 201.4 203.2 201.8 199.5 202.1 210.2 202.5 202.7 202.9 202.7 203.2 195.3 203.6 209.2 203.9 207 204.3 208.8 204.6 217 205 215.7 205.4 204.5 205.7 208.5 206.1 211.7 206.4 204 206.8 199.8 207.2 197.9 207.5 207.1 207.9 207 208.2 200.6 208.6 207.4 209 210.8 209.3 203.3 209.7 195.7 210 207.7 210.4 221.3 210.8 220.7 211.1 217.9 211.5 211.5 211.8 204.3 212.2 205.3 212.6 208.8 212.9 205.4 213.3 210.2 213.6 207 214 208.9 214.4 190.6 214.7 193 215.1 203.4 215.4 208.9 215.8 208.1 216.2 214.5 216.5 212.1 216.9 210.9 217.2 201 217.6 203.9 218 207.2 218.3 211.7 218.7 212.7 219 206.6 219.4 204.6 219.8 195.9 220.1 201.9 220.5 194.9 220.8 196.1 221.2 198.1" stroke="#e5505c" stroke-width="1.0" fill="none" stroke-linejoin="round" opacity="0.33"/>
<path d="M41.3 217.5 41.7 225.1 42 216.2 42.4 208.1 42.7 211.6 43.1 209.7 43.5 215.8 43.8 218.3 44.2 221.1 44.5 212.3 44.9 212.1 45.3 215.4 45.6 217.4 46 212.9 46.3 212.1 46.7 218.7 47.1 206.2 47.4 209.3 47.8 212.1 48.1 204.4 48.5 203.6 48.9 209.9 49.2 208.8 49.6 218 49.9 219.5 50.3 229.8 50.7 213.4 51 224.7 51.4 214.2 51.7 218.5 52.1 221.3 52.5 217.7 52.8 213.2 53.2 209 53.5 200.1 53.9 204.5 54.3 203.3 54.6 211.6 55 207.4 55.3 208.8 55.7 213.1 56.1 212.7 56.4 212.3 56.8 210.5 57.1 208.4 57.5 212.8 57.9 216.2 58.2 208.6 58.6 220 58.9 218.5 59.3 204.6 59.6 224.1 60 220.6 60.4 210.7 60.7 220.3 61.1 198.9 61.4 220.5 61.8 205.9 62.2 198.5 62.5 199.1 62.9 206.1 63.2 205.8 63.6 213.2 64 206.1 64.3 214.6 64.7 213.2 65 204.9 65.4 213.9 65.8 213.4 66.1 209.9 66.5 217.4 66.8 205.6 67.2 205.3 67.6 216.3 67.9 212.4 68.3 215 68.6 215.4 69 211.2 69.4 214 69.7 205.1 70.1 211.2 70.4 203.7 70.8 206.5 71.2 202.3 71.5 208.9 71.9 211.6 72.2 216.7 72.6 208.5 73 202.6 73.3 192.8 73.7 193.4 74 199.9 74.4 205.6 74.8 204.6 75.1 206.6 75.5 198.5 75.8 197.9 76.2 208.4 76.6 212.2 76.9 201.5 77.3 203.1 77.6 207 78 200.2 78.4 206.6 78.7 208.9 79.1 210.9 79.4 220.9 79.8 208.3 80.2 215.2 80.5 214.4 80.9 215.1 81.2 206.5 81.6 207.4 82 207.3 82.3 217.5 82.7 212.4 83 218.5 83.4 210.5 83.8 206.5 84.1 207 84.5 194.8 84.8 198.4 85.2 199.6 85.6 202.9 85.9 206.4 86.3 200.9 86.6 197.7 87 210.7 87.4 202.3 87.7 201.8 88.1 198.9 88.4 200.5 88.8 211.6 89.2 216.2 89.5 200.1 89.9 202.3 90.2 213.4 90.6 207.8 91 209.5 91.3 219.2 91.7 226.3 92 225.3 92.4 213.6 92.8 210.2 93.1 209.9 93.5 206.5 93.8 203.1 94.2 217.9 94.6 213.7 94.9 214.9 95.3 218 95.6 215.2 96 211.4 96.3 210.6 96.7 217.4 97.1 214.6 97.4 198.3 97.8 209.6 98.1 218.5 98.5 210.7 98.9 205.3 99.2 203.8 99.6 212.7 99.9 204 100.3 210.9 100.7 216.2 101 215.5 101.4 212.3 101.7 205.9 102.1 203.7 102.5 206.7 102.8 202.3 103.2 205.6 103.5 202.3 103.9 214.8 104.3 221.6 104.6 210.5 105 218.7 105.3 216 105.7 213.6 106.1 215 106.4 215.5 106.8 204.7 107.1 223.7 107.5 211.7 107.9 197.9 108.2 205.5 108.6 209.3 108.9 206.7 109.3 198.9 109.7 213.8 110 212.9 110.4 214.2 110.7 210.5 111.1 211.3 111.5 208.7 111.8 214.2 112.2 214 112.5 218.3 112.9 220.4 113.3 218.2 113.6 217.3 114 223.3 114.3 209.5 114.7 213.7 115.1 223.2 115.4 212.5 115.8 219 116.1 214.4 116.5 215.6 116.9 214.6 117.2 214.7 117.6 219.3 117.9 217.7 118.3 205 118.7 225.2 119 220.3 119.4 216 119.7 223.1 120.1 228.2 120.5 209.2 120.8 216 121.2 204.2 121.5 208.3 121.9 212.9 122.3 212.5 122.6 211.4 123 207.6 123.3 210.4 123.7 213.4 124.1 214.5 124.4 207.9 124.8 208.1 125.1 219.2 125.5 221.9 125.9 217.3 126.2 220.9 126.6 221 126.9 224.5 127.3 221.8 127.7 216.4 128 210.5 128.4 213.7 128.7 202.6 129.1 210.6 129.5 194.3 129.8 200.2 130.2 205.9 130.5 214.3 130.9 232.2 131.2 224 131.6 218.2 132 205 132.3 218.9 132.7 205.2 133 212.1 133.4 209.2 133.8 227.5 134.1 219.5 134.5 218.7 134.8 212.1 135.2 212.6 135.6 220.2 135.9 210.9 136.3 208.2 136.6 207.5 137 204.6 137.4 202.7 137.7 208.5 138.1 219.2 138.4 224 138.8 209.6 139.2 206.9 139.5 209.3 139.9 213.6 140.2 212.6 140.6 212.1 141 214 141.3 217 141.7 201 142 205.4 142.4 212.4 142.8 219.7 143.1 219.4 143.5 210.5 143.8 206.2 144.2 210.2 144.6 210.3 144.9 212.4 145.3 218.2 145.6 206.2 146 206.4 146.4 193.7 146.7 207.6 147.1 210 147.4 204.9 147.8 209.4 148.2 218.4 148.5 219.7 148.9 214 149.2 209.9 149.6 210.8 150 204.5 150.3 201.8 150.7 204.6 151 207.7 151.4 210.7 151.8 207.3 152.1 203.5 152.5 207 152.8 206.2 153.2 210.6 153.6 219.1 153.9 220.5 154.3 210.5 154.6 207.9 155 199.9 155.4 205.5 155.7 203.2 156.1 199.4 156.4 199.7 156.8 209.6 157.2 211.5 157.5 210.5 157.9 216.8 158.2 210.8 158.6 204.8 159 211.3 159.3 199.3 159.7 207.7 160 211 160.4 212.7 160.8 216.3 161.1 211.2 161.5 211.3 161.8 201.4 162.2 203.4 162.6 204.8 162.9 210 163.3 219.6 163.6 215.9 164 218.9 164.4 209.4 164.7 211 165.1 201.6 165.4 203 165.8 203 166.2 206.7 166.5 208.5 166.9 206.7 167.2 204.3 167.6 213.1 167.9 209.8 168.3 195.5 168.7 205.4 169 210.9 169.4 216.1 169.7 223 170.1 210.2 170.5 211.2 170.8 210.3 171.2 200.5 171.5 192.2 171.9 208.9 172.3 204.8 172.6 205.5 173 207.2 173.3 207.5 173.7 210.7 174.1 202.3 174.4 204.5 174.8 207.1 175.1 202.8 175.5 203 175.9 205.7 176.2 207.8 176.6 200.1 176.9 204.1 177.3 209.6 177.7 216.6 178 216.7 178.4 221 178.7 216 179.1 212.8 179.5 225.3 179.8 218.4 180.2 211.5 180.5 211.3 180.9 218 181.3 207.5 181.6 214.7 182 221.2 182.3 223.2 182.7 217.6 183.1 209.1 183.4 204.1 183.8 207.7 184.1 217.7 184.5 219 184.9 221 185.2 217.6 185.6 225.7 185.9 217.9 186.3 211.2 186.7 212.9 187 210 187.4 217.2 187.7 223.5 188.1 221.4 188.5 209.6 188.8 205 189.2 212 189.5 205 189.9 211.2 190.3 202.8 190.6 205.2 191 212 191.3 207.5 191.7 214.9 192.1 219.2 192.4 224.3 192.8 216.2 193.1 214.5 193.5 213.8 193.9 215.5 194.2 205.1 194.6 211.7 194.9 216.4 195.3 206.7 195.7 201.2 196 205.3 196.4 219.7 196.7 219.2 197.1 211.7 197.5 211.9 197.8 202.7 198.2 216.2 198.5 209.9 198.9 215 199.3 205.5 199.6 209.6 200 204.8 200.3 212.8 200.7 221 201.1 222.9 201.4 220.7 201.8 222.2 202.1 209.4 202.5 202.8 202.9 206.3 203.2 215.8 203.6 214.5 203.9 217.4 204.3 205.7 204.6 207.4 205 207.1 205.4 212.3 205.7 224.4 206.1 222.4 206.4 223.5 206.8 215.1 207.2 212.9 207.5 217.4 207.9 216.9 208.2 204.9 208.6 214.8 209 219 209.3 216.7 209.7 218.5 210 217.7 210.4 211.6 210.8 201.5 211.1 218.3 211.5 215.2 211.8 213.4 212.2 213.4 212.6 214 212.9 215.2 213.3 207.7 213.6 213.2 214 213.6 214.4 213 214.7 212.2 215.1 213.4 215.4 207 215.8 210.2 216.2 210.5 216.5 212 216.9 218.5 217.2 220.4 217.6 222.6 218 216 218.3 218.6 218.7 221.9 219 215.5 219.4 210.9 219.8 222.7 220.1 207.1 220.5 210.2 220.8 212.4 221.2 206.3" stroke="#e5505c" stroke-width="1.0" fill="none" stroke-linejoin="round" opacity="0.33"/>
<path d="M41.3 226.3 41.7 229.4 42 213.5 42.4 225.9 42.7 225.2 43.1 218.9 43.5 227.4 43.8 225 44.2 220.7 44.5 206.3 44.9 219.4 45.3 220 45.6 215.6 46 216.9 46.3 225 46.7 218.6 47.1 217.3 47.4 214.3 47.8 208.6 48.1 206.5 48.5 208.9 48.9 210.4 49.2 219.3 49.6 217.2 49.9 213.9 50.3 216 50.7 213.6 51 217.9 51.4 205.3 51.7 195.7 52.1 206.5 52.5 206.4 52.8 210 53.2 202.3 53.5 203.7 53.9 206.2 54.3 209 54.6 208 55 214.1 55.3 206.5 55.7 211.4 56.1 205.8 56.4 205.6 56.8 199.5 57.1 203.3 57.5 198.5 57.9 208 58.2 202.9 58.6 205.5 58.9 204 59.3 203.9 59.6 198.5 60 213.8 60.4 206.4 60.7 214 61.1 200.9 61.4 214.2 61.8 214.2 62.2 218.2 62.5 199.8 62.9 209.2 63.2 204.8 63.6 206.7 64 215.2 64.3 210 64.7 201.6 65 202.9 65.4 196.6 65.8 201.7 66.1 201.7 66.5 204 66.8 200.6 67.2 189.7 67.6 194 67.9 197 68.3 203.3 68.6 206.9 69 195.1 69.4 205.5 69.7 208.9 70.1 205.6 70.4 206.1 70.8 192 71.2 211.8 71.5 204.3 71.9 198.8 72.2 207.6 72.6 208.7 73 202.7 73.3 192.9 73.7 204 74 213 74.4 201.7 74.8 193.4 75.1 201 75.5 215.9 75.8 200.5 76.2 203.7 76.6 197.2 76.9 201.5 77.3 205.6 77.6 208 78 197.5 78.4 193.1 78.7 212.9 79.1 214.7 79.4 199.2 79.8 205.3 80.2 214.2 80.5 210 80.9 209 81.2 208.6 81.6 210.8 82 210.9 82.3 212 82.7 207.8 83 213 83.4 212.3 83.8 211.2 84.1 202.1 84.5 203.7 84.8 207.5 85.2 205.4 85.6 205.4 85.9 201.4 86.3 203.2 86.6 196.3 87 196.1 87.4 204.4 87.7 210.6 88.1 205.6 88.4 205.6 88.8 209.5 89.2 219.6 89.5 226.4 89.9 216.4 90.2 209.4 90.6 206.1 91 217.3 91.3 208.4 91.7 213.9 92 210.9 92.4 209.4 92.8 216.2 93.1 218 93.5 227.8 93.8 225.2 94.2 229.4 94.6 217.8 94.9 214.8 95.3 208.3 95.6 208.8 96 215 96.3 211.8 96.7 214.8 97.1 210.1 97.4 209.7 97.8 217.5 98.1 214.9 98.5 213.4 98.9 214.9 99.2 208.2 99.6 200.3 99.9 209.2 100.3 213.1 100.7 226.3 101 219.4 101.4 218.1 101.7 227.9 102.1 217.4 102.5 210.8 102.8 215.8 103.2 215.8 103.5 219.3 103.9 210.4 104.3 220.1 104.6 217.1 105 202 105.3 206.7 105.7 206.2 106.1 209.6 106.4 217.3 106.8 213.8 107.1 209.5 107.5 216.1 107.9 210.8 108.2 202.8 108.6 200.3 108.9 215.1 109.3 218 109.7 223.1 110 209.1 110.4 205.5 110.7 203.3 111.1 211.8 111.5 217.3 111.8 212.2 112.2 209.7 112.5 214.3 112.9 210.2 113.3 205.3 113.6 205.6 114 213.3 114.3 223.2 114.7 216.4 115.1 210.7 115.4 210.7 115.8 211.6 116.1 213.6 116.5 205.9 116.9 207.1 117.2 206.5 117.6 212.8 117.9 213.5 118.3 209 118.7 214.1 119 217.9 119.4 213.9 119.7 202.8 120.1 203.9 120.5 196.8 120.8 203.1 121.2 207.1 121.5 215.4 121.9 214.2 122.3 201.5 122.6 202.5 123 200.5 123.3 199.7 123.7 203.7 124.1 206.7 124.4 206.1 124.8 202.5 125.1 202.2 125.5 201.8 125.9 203.7 126.2 210.2 126.6 210 126.9 214.1 127.3 204.1 127.7 218.5 128 213.6 128.4 195.6 128.7 204 129.1 212.6 129.5 209.8 129.8 200.6 130.2 205.2 130.5 202.7 130.9 204.6 131.2 208.4 131.6 188.8 132 198.6 132.3 206.7 132.7 210.1 133 206.4 133.4 204.6 133.8 201.6 134.1 204 134.5 214.7 134.8 207.6 135.2 209.6 135.6 210.3 135.9 217.9 136.3 215.9 136.6 215.9 137 211.7 137.4 218.5 137.7 212.4 138.1 209.2 138.4 215.4 138.8 215.1 139.2 216.5 139.5 206.4 139.9 222.7 140.2 216.8 140.6 222.2 141 217.1 141.3 207.2 141.7 211.6 142 209 142.4 213.8 142.8 199.1 143.1 198.7 143.5 197.2 143.8 211.5 144.2 216.5 144.6 205.6 144.9 208.4 145.3 210 145.6 207.2 146 215.6 146.4 207.1 146.7 207.8 147.1 205.4 147.4 211.2 147.8 206.7 148.2 212 148.5 204.4 148.9 199.9 149.2 199.2 149.6 201.3 150 201.5 150.3 221.8 150.7 209.5 151 210.7 151.4 209 151.8 210.5 152.1 217.9 152.5 216 152.8 208 153.2 199.7 153.6 208.4 153.9 213.9 154.3 202.2 154.6 211 155 197.1 155.4 203 155.7 211.4 156.1 203.8 156.4 196.1 156.8 211.6 157.2 200.4 157.5 206.5 157.9 198.5 158.2 206.2 158.6 216.9 159 209.1 159.3 203 159.7 193.2 160 191 160.4 196.3 160.8 204.2 161.1 209.5 161.5 210.5 161.8 214.2 162.2 212.5 162.6 225.4 162.9 214.8 163.3 211.2 163.6 193.9 164 197 164.4 205.9 164.7 203.5 165.1 213.3 165.4 213.9 165.8 221.8 166.2 205.4 166.5 203.1 166.9 212.7 167.2 210.3 167.6 203.1 167.9 202.5 168.3 203 168.7 210.7 169 212.8 169.4 209.3 169.7 202.7 170.1 210.3 170.5 215.5 170.8 204 171.2 211.5 171.5 202.6 171.9 203.7 172.3 200.3 172.6 193.5 173 196.8 173.3 197.8 173.7 208.4 174.1 211.9 174.4 205.3 174.8 196.9 175.1 194 175.5 187.1 175.9 196.1 176.2 200.8 176.6 198 176.9 202.7 177.3 205.3 177.7 212.4 178 203.3 178.4 211.6 178.7 205.8 179.1 214.8 179.5 203.6 179.8 211.4 180.2 203.6 180.5 214.8 180.9 212.8 181.3 202.1 181.6 209.3 182 207.2 182.3 209.6 182.7 221.7 183.1 211.3 183.4 205.8 183.8 212.6 184.1 205.5 184.5 210.6 184.9 214.1 185.2 209.5 185.6 211.6 185.9 194.5 186.3 210.1 186.7 203.2 187 198.5 187.4 214.4 187.7 220 188.1 208.6 188.5 209.8 188.8 205 189.2 198.3 189.5 204.4 189.9 211.3 190.3 224.5 190.6 212.6 191 214.1 191.3 207.2 191.7 204.6 192.1 213.2 192.4 198.2 192.8 195.3 193.1 195.4 193.5 207.8 193.9 208.6 194.2 209.8 194.6 209.5 194.9 213.6 195.3 206.1 195.7 203.9 196 202 196.4 206.5 196.7 197.6 197.1 200.2 197.5 219.1 197.8 214.9 198.2 209.5 198.5 200.8 198.9 204.6 199.3 206 199.6 209.1 200 202.4 200.3 206.2 200.7 208.8 201.1 210.8 201.4 203.8 201.8 207.3 202.1 215.8 202.5 205.6 202.9 209.1 203.2 204.3 203.6 202 203.9 195.9 204.3 194.2 204.6 203.2 205 204.8 205.4 212.3 205.7 197.8 206.1 198.7 206.4 193.4 206.8 201.4 207.2 215.5 207.5 200.1 207.9 202 208.2 202.6 208.6 203.3 209 200.1 209.3 199.4 209.7 211.9 210 201.4 210.4 206.5 210.8 208.4 211.1 196 211.5 195.3 211.8 202.7 212.2 215.2 212.6 208.7 212.9 203.5 213.3 204.9 213.6 212.7 214 213.5 214.4 216.6 214.7 209.2 215.1 202.3 215.4 197.9 215.8 206.6 216.2 204.8 216.5 202 216.9 207.3 217.2 207.5 217.6 193.9 218 199.4 218.3 197.8 218.7 205.2 219 205.6 219.4 216.5 219.8 211.2 220.1 201.5 220.5 191.7 220.8 192.8 221.2 196.4" stroke="#e5505c" stroke-width="1.0" fill="none" stroke-linejoin="round" opacity="0.33"/>
<path d="M41.3 220.1 42.2 219.6 43.1 219.1 44 218.6 44.9 218 45.8 217.5 46.7 216.9 47.6 216.4 48.5 215.8 49.4 215.2 50.3 214.5 51.2 213.9 52.1 213.2 53 212.6 53.9 212 54.8 211.4 55.7 210.9 56.6 210.3 57.5 209.9 58.4 209.4 59.3 209 60.2 208.6 61.1 208.2 62 207.8 62.9 207.4 63.8 207 64.7 206.7 65.6 206.4 66.5 206.1 67.4 205.8 68.3 205.5 69.2 205.2 70.1 204.9 71 204.7 71.9 204.4 72.8 204.2 73.7 204 74.6 203.8 75.5 203.6 76.4 203.5 77.3 203.4 78.2 203.3 79.1 203.2 80 203.1 80.9 203 81.8 202.9 82.7 202.9 83.6 202.8 84.5 202.7 85.4 202.7 86.3 202.6 87.2 202.6 88.1 202.6 89 202.6 89.9 202.5 90.8 202.5 91.7 202.5 92.6 202.5 93.5 202.4 94.4 202.4 95.3 202.4 96.2 202.4 97.1 202.4 98 202.4 98.9 202.3 99.8 202.3 100.7 202.3 101.6 202.3 102.5 202.3 103.4 202.2 104.3 202.2 105.2 202.2 106.1 202.1 107 202.1 107.9 202 108.8 202 109.7 201.9 110.6 201.9 111.5 201.8 112.4 201.8 113.3 201.7 114.2 201.7 115.1 201.6 116 201.6 116.9 201.5 117.8 201.5 118.7 201.5 119.6 201.4 120.5 201.4 121.4 201.4 122.3 201.4 123.2 201.4 124.1 201.4 125 201.4 125.9 201.4 126.8 201.4 127.7 201.4 128.6 201.4 129.5 201.4 130.4 201.4 131.2 201.4 132.1 201.4 133 201.4 133.9 201.4 134.8 201.4 135.7 201.4 136.6 201.4 137.5 201.4 138.4 201.4 139.3 201.4 140.2 201.4 141.1 201.4 142 201.4 142.9 201.4 143.8 201.4 144.7 201.4 145.6 201.4 146.5 201.4 147.4 201.4 148.3 201.4 149.2 201.4 150.1 201.4 151 201.4 151.9 201.4 152.8 201.4 153.7 201.4 154.6 201.4 155.5 201.4 156.4 201.4 157.3 201.4 158.2 201.4 159.1 201.4 160 201.4 160.9 201.5 161.8 201.5 162.7 201.5 163.6 201.5 164.5 201.5 165.4 201.5 166.3 201.5 167.2 201.5 168.1 201.5 169 201.5 169.9 201.5 170.8 201.5 171.7 201.5 172.6 201.5 173.5 201.5 174.4 201.5 175.3 201.6 176.2 201.6 177.1 201.6 178 201.6 178.9 201.6 179.8 201.6 180.7 201.6 181.6 201.6 182.5 201.6 183.4 201.6 184.3 201.6 185.2 201.6 186.1 201.6 187 201.6 187.9 201.6 188.8 201.6 189.7 201.6 190.6 201.6 191.5 201.6 192.4 201.6 193.3 201.6 194.2 201.6 195.1 201.6 196 201.6 196.9 201.6 197.8 201.6 198.7 201.5 199.6 201.5 200.5 201.5 201.4 201.5 202.3 201.5 203.2 201.5 204.1 201.5 205 201.5 205.9 201.5 206.8 201.5 207.7 201.5 208.6 201.5 209.5 201.5 210.4 201.4 211.3 201.4 212.2 201.4 213.1 201.4 214 201.4 214.9 201.4 215.8 201.4 216.7 201.4 217.6 201.4 218.5 201.4 219.4 201.3 220.3 201.3 221.2 201.3" stroke="#b82a36" stroke-width="2.0" fill="none" stroke-linejoin="round" opacity="1.0"/>
<g stroke="#c0303c" fill="#f3d3d6" stroke-width="1.2" opacity="1.0"><circle cx="47.24" cy="216.86" r="2.3"/><circle cx="52.09" cy="213.36" r="2.3"/><circle cx="56.95" cy="209.88" r="2.3"/><circle cx="61.81" cy="207.91" r="2.3"/><circle cx="66.67" cy="205.15" r="2.3"/><circle cx="71.52" cy="204.65" r="2.3"/><circle cx="76.38" cy="204.11" r="2.3"/><circle cx="81.24" cy="203.22" r="2.3"/><circle cx="86.1" cy="203.21" r="2.3"/><circle cx="90.95" cy="203.01" r="2.3"/><circle cx="95.81" cy="201.87" r="2.3"/><circle cx="100.67" cy="202.43" r="2.3"/><circle cx="105.52" cy="202.16" r="2.3"/><circle cx="110.38" cy="201.36" r="2.3"/><circle cx="115.24" cy="200.77" r="2.3"/><circle cx="120.1" cy="201.15" r="2.3"/><circle cx="124.95" cy="200.3" r="2.3"/><circle cx="129.81" cy="200.74" r="2.3"/><circle cx="134.67" cy="200.96" r="2.3"/><circle cx="139.53" cy="200.83" r="2.3"/><circle cx="144.38" cy="201.72" r="2.3"/><circle cx="149.24" cy="201.49" r="2.3"/><circle cx="154.1" cy="201.25" r="2.3"/><circle cx="158.95" cy="201.01" r="2.3"/><circle cx="163.81" cy="201.52" r="2.3"/><circle cx="168.67" cy="201.49" r="2.3"/><circle cx="173.53" cy="201.08" r="2.3"/><circle cx="178.38" cy="200.93" r="2.3"/><circle cx="183.24" cy="201.24" r="2.3"/><circle cx="188.1" cy="201.02" r="2.3"/><circle cx="192.96" cy="201.74" r="2.3"/><circle cx="197.81" cy="201.67" r="2.3"/><circle cx="202.67" cy="201.34" r="2.3"/><circle cx="207.53" cy="201.55" r="2.3"/><circle cx="212.38" cy="201.56" r="2.3"/><circle cx="217.24" cy="200.51" r="2.3"/></g>
</g>
<g clip-path="url(#E)">
<path d="M270.1 224.2 270.4 229.7 270.6 221.4 270.9 211 271.2 219.4 271.4 213.6 271.7 222.3 272 224 272.2 225.2 272.5 221.7 272.8 208.4 273 223.8 273.3 209.3 273.6 222.3 273.8 219.8 274.1 212.3 274.4 211.7 274.6 213.4 274.9 225.3 275.1 214.9 275.4 221 275.7 199.8 275.9 212.3 276.2 212 276.5 219.9 276.7 217 277 221.1 277.3 207.6 277.5 212.2 277.8 207.8 278.1 214.2 278.3 214.1 278.6 202.7 278.9 214.1 279.1 221.2 279.4 208.7 279.7 215.4 279.9 212.2 280.2 202.9 280.5 211.4 280.7 202.4 281 209.9 281.3 197.8 281.5 196.1 281.8 206.6 282.1 206.8 282.3 210.4 282.6 204.5 282.9 197.2 283.1 211.5 283.4 199.6 283.6 210.7 283.9 209.9 284.2 215.2 284.4 192 284.7 199.8 285 199.9 285.2 205.4 285.5 195.5 285.8 212.8 286 202.9 286.3 187.2 286.6 199.7 286.8 199.5 287.1 195.2 287.4 203.2 287.6 199.5 287.9 192.7 288.2 195.8 288.4 195.1 288.7 199.2 289 195.7 289.2 196.4 289.5 187.7 289.8 190.3 290 196.6 290.3 211.2 290.6 194.5 290.8 190.8 291.1 200.2 291.4 208.7 291.6 205 291.9 191.4 292.1 200.9 292.4 199 292.7 194.4 292.9 187.2 293.2 193.5 293.5 195.3 293.7 198.4 294 185.7 294.3 186.7 294.5 194.2 294.8 203.9 295.1 202.2 295.3 193.6 295.6 200.1 295.9 191.7 296.1 193.5 296.4 194.5 296.7 192.7 296.9 193.6 297.2 202.4 297.5 201.1 297.7 184.7 298 203.6 298.3 203.2 298.5 193.9 298.8 199.9 299.1 205.5 299.3 210.1 299.6 199.9 299.9 195.2 300.1 192.2 300.4 200.2 300.6 196.1 300.9 208.3 301.2 203.7 301.4 208.3 301.7 204.3 302 200.2 302.2 197.8 302.5 210.2 302.8 199.1 303 207.9 303.3 213.3 303.6 209.3 303.8 216.7 304.1 209.4 304.4 206.3 304.6 208.9 304.9 205.1 305.2 209.7 305.4 208.8 305.7 217.6 306 210.3 306.2 214.5 306.5 213 306.8 210.6 307 208.4 307.3 219.5 307.6 221.3 307.8 213.9 308.1 207.8 308.4 207.4 308.6 204.1 308.9 201.1 309.2 205.5 309.4 209.7 309.7 216.9 309.9 217.9 310.2 215.2 310.5 210.3 310.7 209.6 311 211 311.3 212.3 311.5 207.8 311.8 209.6 312.1 209.5 312.3 209.5 312.6 214.9 312.9 219 313.1 210.6 313.4 209.4 313.7 213.2 313.9 215.2 314.2 199.1 314.5 214.7 314.7 214.5 315 211.6 315.3 219.8 315.5 213.7 315.8 202.2 316.1 205.3 316.3 207.8 316.6 208.6 316.9 211.8 317.1 207.3 317.4 213.3 317.7 216.2 317.9 213.6 318.2 208.2 318.4 210.7 318.7 209.1 319 225.5 319.2 209 319.5 198.7 319.8 202.8 320 213.9 320.3 219.4 320.6 213.6 320.8 220.2 321.1 211 321.4 216.9 321.6 209 321.9 204.9 322.2 225 322.4 214.7 322.7 218.8 323 224 323.2 220.2 323.5 216.9 323.8 208.6 324 222.6 324.3 209.6 324.6 201 324.8 208 325.1 209.7 325.4 213.5 325.6 221.3 325.9 212.3 326.2 211.4 326.4 209.1 326.7 197.2 326.9 206.2 327.2 209.8 327.5 203.4 327.7 220 328 222.1 328.3 217.7 328.5 218.5 328.8 210.3 329.1 214.8 329.3 202.9 329.6 201.9 329.9 206.2 330.1 214.1 330.4 209.5 330.7 207.2 330.9 218.3 331.2 211.7 331.5 208.1 331.7 210.3 332 202.3 332.3 202.9 332.5 215.5 332.8 212 333.1 217.2 333.3 209.4 333.6 216.7 333.9 207 334.1 208.3 334.4 204.8 334.7 210.9 334.9 220.1 335.2 202 335.4 210.3 335.7 202.3 336 206.4 336.2 205.6 336.5 198.3 336.8 205.9 337 200.8 337.3 217.4 337.6 206.1 337.8 210.7 338.1 210.8 338.4 209.8 338.6 207.5 338.9 198.8 339.2 218.6 339.4 210.8 339.7 213.8 340 202.8 340.2 210.2 340.5 206.2 340.8 210.6 341 204.8 341.3 201.4 341.6 209.3 341.8 208.1 342.1 216.8 342.4 207.8 342.6 202.5 342.9 210 343.2 201 343.4 218.8 343.7 220.9 344 218.3 344.2 212.1 344.5 207.6 344.7 207.2 345 206.9 345.3 201.8 345.5 208 345.8 214 346.1 214.9 346.3 194.2 346.6 217.5 346.9 208.6 347.1 196.6 347.4 200 347.7 208.6 347.9 205.1 348.2 198.9 348.5 195.4 348.7 207.5 349 199.5 349.3 200.9 349.5 195.8 349.8 192.8 350.1 202.8 350.3 211.4 350.6 201.6 350.9 191 351.1 195.4 351.4 199 351.7 186.1 351.9 204.6 352.2 196.2 352.5 203.5 352.7 200.9 353 200 353.2 190.9 353.5 204.1 353.8 204.1 354 210.5 354.3 198.8 354.6 202.1 354.8 197.2 355.1 205.4 355.4 202.5 355.6 193.1 355.9 198.6 356.2 194.7 356.4 194.4 356.7 199.6 357 208 357.2 193.9 357.5 196 357.8 191.3 358 208.8 358.3 209.9 358.6 213.1 358.8 205.9 359.1 192.5 359.4 192.7 359.6 196.4 359.9 196 360.2 192 360.4 197.7 360.7 194.5 361 195.4 361.2 209.9 361.5 201.6 361.7 189.2 362 197.5 362.3 197.5 362.5 200.4 362.8 200.1 363.1 190.1 363.3 196.7 363.6 202.6 363.9 216.6 364.1 203.7 364.4 209.7 364.7 210 364.9 193.8 365.2 191.1 365.5 206.7 365.7 192.7 366 192.3 366.3 199.8 366.5 191.9 366.8 204.9 367.1 204.8 367.3 206.3 367.6 204.5 367.9 191.8 368.1 202.9 368.4 204 368.7 202.9 368.9 195.6 369.2 197.4 369.5 190.3 369.7 198.6 370 203.8 370.3 200 370.5 195.9 370.8 201 371 194.6 371.3 183.8 371.6 196.4 371.8 195 372.1 186.7 372.4 197.4 372.6 200.7 372.9 202.9 373.2 194.1 373.4 191.7 373.7 195.3 374 194.8 374.2 187.1 374.5 188.1 374.8 202.3 375 196.6 375.3 194.8 375.6 190.6 375.8 195.7 376.1 199.3 376.4 199 376.6 207.1 376.9 198 377.2 199.8 377.4 193.6 377.7 201.7 378 199.8 378.2 202.8 378.5 204.1 378.8 193.6 379 198.8 379.3 194.3 379.5 203.2 379.8 197.6 380.1 207.6 380.3 202.3 380.6 201.5 380.9 194.8 381.1 196.1 381.4 198.7 381.7 193.1 381.9 196.2 382.2 194.8 382.5 193.3 382.7 198.2 383 200.8 383.3 197.6 383.5 201.8 383.8 197.8 384.1 192.7 384.3 193.4 384.6 201.3 384.9 208.6 385.1 202.7 385.4 202.1 385.7 194.6 385.9 202.4 386.2 203 386.5 197.5 386.7 204 387 203.5 387.3 192 387.5 191.2 387.8 196.5 388 199.9 388.3 208.4 388.6 200.8 388.8 202.5 389.1 201.9 389.4 206.5 389.6 204.4 389.9 205.1 390.2 202.3 390.4 195 390.7 200.2 391 213.8 391.2 212.3 391.5 215.9 391.8 211.8 392 202.7 392.3 201.9 392.6 208 392.8 203.9 393.1 209.4 393.4 214.6 393.6 215.6 393.9 212.4 394.2 197.8 394.4 211.8 394.7 198.7 395 195.6 395.2 204.2 395.5 205.1 395.8 208.7 396 205.7 396.3 200.9 396.5 203.8 396.8 198.3 397.1 195.9 397.3 200.6 397.6 201.5 397.9 204 398.1 201.9 398.4 210.3 398.7 202.6 398.9 202.1 399.2 208.5 399.5 191.1 399.7 206.7 400 209.1 400.3 202.3 400.5 214.5 400.8 209.7 401.1 213.1 401.3 210.2 401.6 204.3 401.9 200.2 402.1 194.4 402.4 194.9 402.7 192.5 402.9 195.5 403.2 202.4 403.5 193.9 403.7 201.8 404 204 404.3 191 404.5 192.8 404.8 196.5 405.1 193.7 405.3 192.1 405.6 205.2 405.8 199.7 406.1 204.8 406.4 197.4 406.6 200.4 406.9 188 407.2 190.2 407.4 198.3 407.7 194.4 408 200.4 408.2 193.3 408.5 188.2 408.8 188.3 409 201.2 409.3 193.3 409.6 185.9 409.8 185.1 410.1 179 410.4 192.2 410.6 183 410.9 187.8 411.2 183 411.4 180.1 411.7 177.2 412 183.8 412.2 179.7 412.5 186.4 412.8 188.4 413 175.9 413.3 176.2 413.6 185.1 413.8 181.2 414.1 174.3 414.3 162.6 414.6 162.7 414.9 163.6 415.1 179.1 415.4 171.4 415.7 166 415.9 165.2 416.2 164.9 416.5 168.9 416.7 157.7 417 157.6 417.3 167.8 417.5 175.9 417.8 159.6 418.1 173.1 418.3 165.9 418.6 160.9 418.9 178.4 419.1 175.1 419.4 179.3 419.7 175.6 419.9 176.9 420.2 167.9 420.5 175.1 420.7 180.7 421 175.4 421.3 183.6 421.5 186.4 421.8 171.5 422.1 188 422.3 189.8 422.6 187.5 422.8 194.5 423.1 202.9 423.4 185.7 423.6 194.2 423.9 194.9 424.2 194.6 424.4 198.8 424.7 200.8 425 194 425.2 179.3 425.5 187.1 425.8 189 426 203.6 426.3 197.7 426.6 204 426.8 193.4 427.1 197.7 427.4 197 427.6 197.8 427.9 201.1 428.2 207.6 428.4 196 428.7 205.8 429 206.6 429.2 201.4 429.5 202.9 429.8 197.3 430 191.6 430.3 195.2 430.6 196.3 430.8 197.6 431.1 192.8 431.3 208.5 431.6 198 431.9 204 432.1 207 432.4 200.1 432.7 201.1 432.9 195.4 433.2 191 433.5 211.3 433.7 201.5 434 187.1 434.3 190.9 434.5 188.1 434.8 195.9 435.1 207 435.3 207.3 435.6 196.1 435.9 192.3 436.1 202 436.4 201.1 436.7 197.7 436.9 209.5 437.2 203.3 437.5 189.9 437.7 183.8 438 196.8 438.3 187.5 438.5 200.2 438.8 204.6 439.1 214.3 439.3 196.6 439.6 201.3 439.9 185.6 440.1 194.9 440.4 197.8 440.6 210.7 440.9 193 441.2 201 441.4 201.5 441.7 214.2 442 197.6 442.2 194 442.5 203.2 442.8 200.8 443 198.6 443.3 194.7 443.6 199.3 443.8 190.4 444.1 200.8 444.4 205.2 444.6 205.4 444.9 218.3 445.2 210.3 445.4 197.6 445.7 199.8 446 207 446.2 201.4 446.5 214.9 446.8 207.1 447 200.6 447.3 198.4" stroke="#e8aa6e" stroke-width="0.9" fill="none" stroke-linejoin="round" opacity="0.15"/>
<path d="M270.1 230.1 270.4 224.7 270.6 217.7 270.9 230.2 271.2 225.5 271.4 238.5 271.7 243.4 272 228.7 272.2 229.1 272.5 228.1 272.8 232.6 273 231.7 273.3 224.7 273.6 217.7 273.8 228 274.1 238.7 274.4 223 274.6 223.9 274.9 223.5 275.1 226.4 275.4 213.9 275.7 225 275.9 224.5 276.2 238.7 276.5 233.7 276.7 233.3 277 229.2 277.3 226 277.5 232 277.8 218.1 278.1 232.2 278.3 231.3 278.6 226.8 278.9 235 279.1 225.5 279.4 223.1 279.7 228.3 279.9 215.9 280.2 224.5 280.5 224.9 280.7 232.5 281 238.4 281.3 233.1 281.5 230.2 281.8 230.4 282.1 222.9 282.3 240.6 282.6 236.5 282.9 239.9 283.1 221.2 283.4 229.1 283.6 230.3 283.9 234.1 284.2 222.7 284.4 228.4 284.7 225.6 285 238.8 285.2 221.9 285.5 223.3 285.8 222.6 286 218.2 286.3 226.1 286.6 227.5 286.8 222.4 287.1 223.1 287.4 227.3 287.6 226.4 287.9 229.6 288.2 222.8 288.4 220.1 288.7 225.2 289 214.9 289.2 233.6 289.5 229.4 289.8 216.8 290 227.3 290.3 236.6 290.6 220.2 290.8 222.2 291.1 233.2 291.4 223.4 291.6 232.5 291.9 236.3 292.1 229.8 292.4 230.6 292.7 234.6 292.9 230.9 293.2 234.2 293.5 228.4 293.7 227.8 294 223.1 294.3 229.5 294.5 236.2 294.8 237.5 295.1 231.3 295.3 219.3 295.6 221.2 295.9 230.7 296.1 223 296.4 234.4 296.7 223.5 296.9 229.9 297.2 224.3 297.5 224.1 297.7 229.6 298 227.2 298.3 235.3 298.5 230.9 298.8 223.1 299.1 203.2 299.3 220.1 299.6 227.3 299.9 235.5 300.1 224.6 300.4 239.1 300.6 236.9 300.9 229.5 301.2 237.6 301.4 222.6 301.7 222.4 302 232.6 302.2 234.7 302.5 239.9 302.8 241.5 303 230.7 303.3 227.6 303.6 228.7 303.8 229.5 304.1 234.9 304.4 230.4 304.6 240.8 304.9 234 305.2 223.7 305.4 222.7 305.7 233.5 306 235 306.2 225 306.5 220.5 306.8 239.8 307 237.2 307.3 232.8 307.6 226 307.8 237.3 308.1 230.6 308.4 235.1 308.6 219.8 308.9 228.7 309.2 234 309.4 236.4 309.7 228.5 309.9 229.3 310.2 240.3 310.5 234.6 310.7 243.1 311 241.3 311.3 244.3 311.5 245.2 311.8 241.6 312.1 242.7 312.3 233.8 312.6 230.5 312.9 236.2 313.1 242.8 313.4 232.4 313.7 247.7 313.9 250.3 314.2 234.6 314.5 232 314.7 229.5 315 236.4 315.3 244.2 315.5 241.3 315.8 234.2 316.1 241 316.3 242 316.6 246.5 316.9 246.1 317.1 233.8 317.4 233.8 317.7 243.7 317.9 245.3 318.2 242.5 318.4 235.2 318.7 244.3 319 240.1 319.2 251.4 319.5 248.3 319.8 237.5 320 232.5 320.3 244.1 320.6 244.2 320.8 234.7 321.1 240.1 321.4 242.2 321.6 236.2 321.9 237 322.2 231.7 322.4 232.6 322.7 241.2 323 240.2 323.2 239.7 323.5 247.6 323.8 246.9 324 235 324.3 248.3 324.6 235.2 324.8 237 325.1 240 325.4 236.5 325.6 236.3 325.9 231.8 326.2 240.8 326.4 241.6 326.7 241.9 326.9 229.1 327.2 232.3 327.5 244.4 327.7 243.2 328 245.3 328.3 241.4 328.5 239.4 328.8 226.4 329.1 248.9 329.3 236.1 329.6 237.1 329.9 244.3 330.1 242.4 330.4 244.2 330.7 241.2 330.9 234.8 331.2 249 331.5 234.6 331.7 242 332 232.1 332.3 236.7 332.5 232.7 332.8 235.9 333.1 233.4 333.3 239.2 333.6 245.8 333.9 237.9 334.1 236.1 334.4 227.3 334.7 250.5 334.9 244.1 335.2 235.2 335.4 247.5 335.7 243.7 336 228.6 336.2 229.8 336.5 244 336.8 232.8 337 232 337.3 234.3 337.6 237.1 337.8 238.5 338.1 245.5 338.4 244.7 338.6 236.9 338.9 238.9 339.2 228.8 339.4 240.1 339.7 254.8 340 245.2 340.2 239.4 340.5 237.6 340.8 239.1 341 244.8 341.3 231.7 341.6 242.2 341.8 235.8 342.1 240.6 342.4 247 342.6 232.3 342.9 253.2 343.2 247.2 343.4 238.1 343.7 241 344 234.8 344.2 238.7 344.5 241.5 344.7 226.1 345 237.4 345.3 239.2 345.5 245.2 345.8 244.2 346.1 235.4 346.3 234.1 346.6 237.2 346.9 242 347.1 234.5 347.4 247.4 347.7 241.6 347.9 239.9 348.2 243 348.5 237.5 348.7 241.3 349 242.8 349.3 227.2 349.5 230.4 349.8 228.2 350.1 234.7 350.3 230.3 350.6 230.5 350.9 227.8 351.1 220.2 351.4 234.3 351.7 234.1 351.9 235.9 352.2 257.2 352.5 248.6 352.7 238.1 353 232.2 353.2 238.3 353.5 229.1 353.8 226.2 354 235.9 354.3 226.6 354.6 222.7 354.8 229.7 355.1 239.8 355.4 226.9 355.6 234.1 355.9 236.8 356.2 234.3 356.4 237.7 356.7 228.5 357 228.4 357.2 225.7 357.5 229 357.8 237.9 358 235.8 358.3 229.1 358.6 235.5 358.8 216.5 359.1 231.9 359.4 237 359.6 227.4 359.9 227.9 360.2 232.7 360.4 234.8 360.7 231.2 361 228 361.2 227.7 361.5 234.1 361.7 230.9 362 227.7 362.3 227.5 362.5 250.8 362.8 242.1 363.1 239.6 363.3 235.7 363.6 232.4 363.9 227.2 364.1 228 364.4 232.6 364.7 232.6 364.9 222 365.2 234.2 365.5 231.1 365.7 222.7 366 228.4 366.3 244.1 366.5 232.4 366.8 234.7 367.1 233.4 367.3 226.1 367.6 228.1 367.9 232.9 368.1 226.8 368.4 228.3 368.7 230.6 368.9 229.8 369.2 229.9 369.5 233.5 369.7 234.9 370 232.2 370.3 237.6 370.5 240.5 370.8 225.4 371 231.8 371.3 231.7 371.6 232.3 371.8 231.4 372.1 231.2 372.4 230.9 372.6 236.1 372.9 226.5 373.2 234.4 373.4 225.5 373.7 241.6 374 239.6 374.2 226.7 374.5 231 374.8 235 375 229.4 375.3 236.9 375.6 231.5 375.8 244.4 376.1 236.2 376.4 235.7 376.6 228.4 376.9 224.8 377.2 234.6 377.4 221.6 377.7 232.3 378 243.4 378.2 247.5 378.5 224.5 378.8 229.8 379 234.2 379.3 235.7 379.5 238 379.8 223.6 380.1 229.5 380.3 219.2 380.6 229.2 380.9 244.3 381.1 227.9 381.4 232 381.7 232 381.9 221 382.2 229.9 382.5 223 382.7 228.7 383 234.4 383.3 227.9 383.5 233.3 383.8 223.3 384.1 222.9 384.3 228.2 384.6 226 384.9 225.8 385.1 230.9 385.4 224.8 385.7 230.4 385.9 226.4 386.2 235.1 386.5 230.5 386.7 227.7 387 234.4 387.3 233.5 387.5 234.1 387.8 226.5 388 233.8 388.3 228.3 388.6 220.6 388.8 226.2 389.1 239.3 389.4 231.4 389.6 224.3 389.9 230.9 390.2 223.8 390.4 225.4 390.7 227 391 231.5 391.2 233.9 391.5 232.9 391.8 230.8 392 227.7 392.3 227.7 392.6 232.1 392.8 230.8 393.1 228.7 393.4 240.5 393.6 237.8 393.9 237.4 394.2 233.8 394.4 233.6 394.7 233.5 395 237.3 395.2 228.7 395.5 229.5 395.8 241.3 396 233.7 396.3 239.2 396.5 223.2 396.8 233.1 397.1 234.8 397.3 232.3 397.6 233.7 397.9 233.1 398.1 223.3 398.4 229.5 398.7 227.1 398.9 224.9 399.2 237.3 399.5 223.7 399.7 227.2 400 226.3 400.3 237.3 400.5 229.3 400.8 230.3 401.1 236.3 401.3 220.5 401.6 227.8 401.9 234.3 402.1 233.1 402.4 228.5 402.7 226.4 402.9 229.4 403.2 226.2 403.5 224.1 403.7 240.2 404 239 404.3 241.6 404.5 235.9 404.8 226.7 405.1 229.7 405.3 240.8 405.6 238.5 405.8 230.1 406.1 238 406.4 237 406.6 234.5 406.9 247 407.2 233.8 407.4 233.9 407.7 232.7 408 241.9 408.2 242.6 408.5 241.8 408.8 236.5 409 236.7 409.3 236.5 409.6 226.4 409.8 227.4 410.1 240.1 410.4 242.3 410.6 228.4 410.9 238.1 411.2 229.8 411.4 226.9 411.7 239.4 412 240.4 412.2 238.5 412.5 244 412.8 245.9 413 242.8 413.3 234.7 413.6 241.1 413.8 241 414.1 242.6 414.3 248.5 414.6 232.4 414.9 252.6 415.1 246.4 415.4 237.9 415.7 248.2 415.9 238.1 416.2 232.3 416.5 244 416.7 240 417 247.3 417.3 239 417.5 239.9 417.8 239.5 418.1 232.5 418.3 236.6 418.6 232.2 418.9 235.8 419.1 247.8 419.4 241.4 419.7 238.9 419.9 250.3 420.2 235.7 420.5 240.7 420.7 239.9 421 247.6 421.3 243.3 421.5 241.2 421.8 244.7 422.1 243 422.3 256.1 422.6 237.6 422.8 249 423.1 257.9 423.4 252.2 423.6 250.4 423.9 241.6 424.2 248.8 424.4 242.9 424.7 249.2 425 231.2 425.2 237.7 425.5 230.3 425.8 246.8 426 239.8 426.3 248.2 426.6 240.4 426.8 238.1 427.1 251.4 427.4 251.1 427.6 251 427.9 252.9 428.2 248.4 428.4 248.7 428.7 251.6 429 242.6 429.2 237.8 429.5 248 429.8 245.2 430 241 430.3 241.4 430.6 244.1 430.8 235.2 431.1 233 431.3 233.3 431.6 238.6 431.9 226 432.1 224.8 432.4 237.3 432.7 237.9 432.9 229.8 433.2 240 433.5 234.6 433.7 235.4 434 239.9 434.3 237.7 434.5 245.2 434.8 240.2 435.1 247.8 435.3 223.1 435.6 222.7 435.9 224.1 436.1 229.8 436.4 226.5 436.7 224 436.9 224.9 437.2 225.5 437.5 236.6 437.7 230.6 438 235.1 438.3 239.8 438.5 240.4 438.8 230.8 439.1 225 439.3 238.4 439.6 222.1 439.9 220.4 440.1 231.2 440.4 233.7 440.6 231.8 440.9 224.9 441.2 231.7 441.4 237.3 441.7 229.5 442 242.5 442.2 231.6 442.5 223.1 442.8 226.5 443 224.2 443.3 225.4 443.6 224.2 443.8 227.4 444.1 233.8 444.4 231.4 444.6 229.9 444.9 221.4 445.2 217.4 445.4 223.9 445.7 232.2 446 233.7 446.2 230.6 446.5 220.3 446.8 224.6 447 227.8 447.3 232.7" stroke="#e8aa6e" stroke-width="0.9" fill="none" stroke-linejoin="round" opacity="0.15"/>
<path d="M270.1 220.3 270.4 218.3 270.6 219.6 270.9 218.8 271.2 208.9 271.4 217.7 271.7 208.3 272 208.8 272.2 215.7 272.5 212 272.8 217 273 221.9 273.3 219.4 273.6 222.4 273.8 214.4 274.1 215.5 274.4 212.3 274.6 209.9 274.9 232.6 275.1 216.6 275.4 225.8 275.7 215.7 275.9 219.7 276.2 214.5 276.5 205.8 276.7 222.1 277 213.9 277.3 213.7 277.5 224.3 277.8 211.1 278.1 212 278.3 215.2 278.6 217 278.9 193.8 279.1 210.5 279.4 222 279.7 219 279.9 214.9 280.2 214.1 280.5 212 280.7 217.2 281 208.6 281.3 212.9 281.5 218.9 281.8 216.7 282.1 213.6 282.3 205.6 282.6 206 282.9 210.9 283.1 209.7 283.4 208.2 283.6 197 283.9 210.4 284.2 206.6 284.4 204.3 284.7 213.7 285 208.8 285.2 207.9 285.5 211.4 285.8 205.9 286 202 286.3 200.6 286.6 208.2 286.8 207.4 287.1 194.4 287.4 212.3 287.6 208 287.9 203.2 288.2 206.6 288.4 204.3 288.7 206.7 289 203.8 289.2 200.1 289.5 208.3 289.8 207.5 290 208.8 290.3 211.2 290.6 209.4 290.8 215.7 291.1 205.9 291.4 198.3 291.6 196.8 291.9 199.1 292.1 212.9 292.4 201 292.7 211.9 292.9 210.2 293.2 198.7 293.5 213.8 293.7 205.5 294 207.3 294.3 210.3 294.5 215.2 294.8 208.6 295.1 212.6 295.3 204.5 295.6 201.9 295.9 217 296.1 214.9 296.4 213.4 296.7 218.3 296.9 219 297.2 212.1 297.5 212.6 297.7 221.3 298 216.5 298.3 209.4 298.5 218.3 298.8 218.5 299.1 203.7 299.3 202.5 299.6 219.8 299.9 221.7 300.1 211.9 300.4 219.4 300.6 215.4 300.9 215.9 301.2 210.1 301.4 227.3 301.7 228.9 302 223.5 302.2 209.3 302.5 213.4 302.8 223.6 303 212.6 303.3 209.2 303.6 214.3 303.8 215.9 304.1 211.7 304.4 206.4 304.6 211.7 304.9 210.6 305.2 213.9 305.4 216.6 305.7 220.4 306 214.2 306.2 216.4 306.5 216.6 306.8 209.7 307 211 307.3 209.1 307.6 223.3 307.8 213.6 308.1 218.6 308.4 220.9 308.6 221.8 308.9 209.8 309.2 209.7 309.4 219 309.7 223.4 309.9 217.6 310.2 219.3 310.5 207.2 310.7 223.3 311 228.9 311.3 220.7 311.5 217.6 311.8 216.3 312.1 212.5 312.3 204 312.6 216.7 312.9 220.6 313.1 228.6 313.4 218.5 313.7 212.9 313.9 218.5 314.2 211.1 314.5 216.6 314.7 208.9 315 214.5 315.3 224 315.5 223.4 315.8 228.7 316.1 231.1 316.3 219.7 316.6 214 316.9 206.5 317.1 216.9 317.4 220.2 317.7 226.1 317.9 214.9 318.2 216.3 318.4 222.4 318.7 216.1 319 215.7 319.2 230.1 319.5 217.5 319.8 218.6 320 222 320.3 222.9 320.6 210.2 320.8 209 321.1 207.1 321.4 224.4 321.6 224.9 321.9 215.8 322.2 226.5 322.4 225.8 322.7 232.1 323 211.7 323.2 212.3 323.5 216 323.8 218.1 324 222.3 324.3 223 324.6 217.1 324.8 223.8 325.1 213.6 325.4 221.7 325.6 225.6 325.9 213.4 326.2 219.5 326.4 216.5 326.7 221.6 326.9 233.4 327.2 219.1 327.5 227.5 327.7 214.6 328 227.6 328.3 232 328.5 219.9 328.8 216.7 329.1 217.9 329.3 225.9 329.6 214.9 329.9 226.6 330.1 222.9 330.4 224 330.7 221.7 330.9 213.9 331.2 221 331.5 215.2 331.7 213.2 332 227 332.3 226.4 332.5 221.6 332.8 221.7 333.1 216.3 333.3 228.4 333.6 215 333.9 212.1 334.1 216.8 334.4 224.9 334.7 218.2 334.9 220 335.2 213.7 335.4 216.2 335.7 211.8 336 217.7 336.2 207.6 336.5 227.8 336.8 224.1 337 214.3 337.3 224.2 337.6 212.7 337.8 222 338.1 216 338.4 220.7 338.6 218.7 338.9 214.6 339.2 215.4 339.4 217.1 339.7 202.4 340 212.1 340.2 219.8 340.5 210.1 340.8 208.7 341 206 341.3 202.1 341.6 217.5 341.8 208.6 342.1 206.4 342.4 212.6 342.6 212.4 342.9 231.6 343.2 221 343.4 204.8 343.7 222.8 344 218.9 344.2 213.2 344.5 210.4 344.7 203.5 345 222.3 345.3 215.3 345.5 209 345.8 220.6 346.1 215.4 346.3 202.9 346.6 203.7 346.9 208.5 347.1 228.1 347.4 217.3 347.7 212 347.9 215.1 348.2 214.2 348.5 195.4 348.7 211.1 349 218.8 349.3 213.1 349.5 215.2 349.8 215.6 350.1 214.3 350.3 209 350.6 211.1 350.9 220 351.1 215.4 351.4 210.9 351.7 215.6 351.9 206.9 352.2 207.3 352.5 217.9 352.7 212.2 353 201.2 353.2 201.5 353.5 211.1 353.8 207.3 354 215.9 354.3 222.2 354.6 211.5 354.8 211.2 355.1 209.5 355.4 212.4 355.6 210.8 355.9 215.5 356.2 210.5 356.4 207.4 356.7 212 357 207.7 357.2 222.2 357.5 219.2 357.8 205.3 358 200.7 358.3 208.7 358.6 212.3 358.8 219.9 359.1 211.8 359.4 207.6 359.6 220.2 359.9 210.5 360.2 209 360.4 208.9 360.7 218.1 361 210 361.2 220.5 361.5 204.8 361.7 209.6 362 218.2 362.3 205 362.5 203.5 362.8 213.8 363.1 198.9 363.3 214.9 363.6 210.2 363.9 204 364.1 223.2 364.4 207.6 364.7 210.7 364.9 211 365.2 217.3 365.5 210.1 365.7 217.2 366 217.7 366.3 214.6 366.5 218.6 366.8 202.7 367.1 216.7 367.3 216 367.6 213.2 367.9 210.7 368.1 205.4 368.4 204.2 368.7 210.5 368.9 212.2 369.2 210 369.5 204.8 369.7 204.5 370 211.6 370.3 222.1 370.5 199.2 370.8 201.6 371 206.2 371.3 206.6 371.6 211.7 371.8 215.5 372.1 212.3 372.4 210.9 372.6 213 372.9 218.4 373.2 212.6 373.4 206.1 373.7 211.2 374 209.1 374.2 221.1 374.5 212.4 374.8 210.1 375 216.2 375.3 220.4 375.6 208.5 375.8 213.4 376.1 206.6 376.4 210.7 376.6 205.3 376.9 209.9 377.2 217.8 377.4 211 377.7 211.1 378 205.3 378.2 210.8 378.5 211.6 378.8 204.4 379 201.2 379.3 203.1 379.5 201.9 379.8 205.2 380.1 204.1 380.3 203.3 380.6 206.1 380.9 208.7 381.1 208.9 381.4 195.6 381.7 207.3 381.9 211.2 382.2 212.9 382.5 211.4 382.7 209.6 383 217.5 383.3 224.3 383.5 212.2 383.8 221.3 384.1 212.1 384.3 211.1 384.6 205.1 384.9 200.9 385.1 208 385.4 215 385.7 220.2 385.9 219.1 386.2 214.1 386.5 225.8 386.7 215.5 387 214.1 387.3 210.1 387.5 215.2 387.8 213.8 388 218.6 388.3 218.1 388.6 225.8 388.8 216.3 389.1 206 389.4 212.3 389.6 212.4 389.9 220.6 390.2 208 390.4 218.6 390.7 211.5 391 214.3 391.2 221.3 391.5 210.9 391.8 214.9 392 214.8 392.3 213.2 392.6 215.8 392.8 218.4 393.1 214 393.4 218.3 393.6 216.4 393.9 220.3 394.2 226 394.4 222.3 394.7 220.5 395 217.1 395.2 209.4 395.5 224.9 395.8 217.2 396 229.4 396.3 224.9 396.5 220.8 396.8 230.2 397.1 229.7 397.3 217.5 397.6 215.5 397.9 216.1 398.1 220.2 398.4 203.4 398.7 213.7 398.9 219.8 399.2 205.8 399.5 209.2 399.7 215.6 400 207.5 400.3 211.9 400.5 209.7 400.8 211.6 401.1 219.3 401.3 208.9 401.6 211.5 401.9 218.8 402.1 218.7 402.4 208.3 402.7 213.9 402.9 212.5 403.2 208.4 403.5 210.6 403.7 220.7 404 209.7 404.3 205.6 404.5 205.1 404.8 200.4 405.1 206.8 405.3 205.5 405.6 200.2 405.8 210.2 406.1 200.1 406.4 197.9 406.6 203 406.9 197.7 407.2 202.4 407.4 213.5 407.7 203.6 408 206.4 408.2 206.3 408.5 207.7 408.8 200.8 409 204.1 409.3 212.1 409.6 206.7 409.8 204.1 410.1 212.1 410.4 212 410.6 211.6 410.9 212.8 411.2 207.4 411.4 202.3 411.7 196.1 412 199 412.2 200.6 412.5 200.2 412.8 199.1 413 209 413.3 204.7 413.6 206.1 413.8 209.2 414.1 211.8 414.3 212.7 414.6 211.5 414.9 217.2 415.1 208 415.4 209.5 415.7 209.1 415.9 207.8 416.2 205.4 416.5 212.8 416.7 211.6 417 220.4 417.3 225.9 417.5 225.5 417.8 205 418.1 221 418.3 210.7 418.6 202.9 418.9 212.9 419.1 202.7 419.4 199.6 419.7 204.5 419.9 197.2 420.2 206.3 420.5 216.3 420.7 211 421 215.9 421.3 222.1 421.5 223.4 421.8 202.5 422.1 215.4 422.3 215.1 422.6 219 422.8 215.2 423.1 216.8 423.4 218.3 423.6 223.5 423.9 225.9 424.2 222.6 424.4 215.9 424.7 204.1 425 207.9 425.2 204.3 425.5 211.6 425.8 216.6 426 225 426.3 218.9 426.6 230.5 426.8 222 427.1 208.9 427.4 214.1 427.6 210.5 427.9 218.8 428.2 226.4 428.4 222.6 428.7 221.4 429 211.7 429.2 205.1 429.5 220 429.8 220.7 430 219.5 430.3 220.5 430.6 226 430.8 219.2 431.1 216.2 431.3 215.4 431.6 224.7 431.9 220.1 432.1 228.8 432.4 214.8 432.7 223.4 432.9 220.7 433.2 221.2 433.5 222 433.7 225 434 229.8 434.3 209.9 434.5 214.7 434.8 215.5 435.1 204.8 435.3 215.6 435.6 213.9 435.9 216.7 436.1 210.2 436.4 213 436.7 214.6 436.9 218.2 437.2 215.7 437.5 209.9 437.7 228 438 219.9 438.3 220 438.5 219.2 438.8 229 439.1 214.8 439.3 221.2 439.6 218.7 439.9 219.8 440.1 226.9 440.4 220.9 440.6 227.9 440.9 223.9 441.2 219.3 441.4 216.4 441.7 215.4 442 216.2 442.2 202.8 442.5 210.1 442.8 221.3 443 219.8 443.3 219.7 443.6 216.7 443.8 218.5 444.1 220.2 444.4 205.6 444.6 212 444.9 215.5 445.2 215.5 445.4 215.2 445.7 205.4 446 208.7 446.2 205.4 446.5 229.8 446.8 214 447 206.4 447.3 199.2" stroke="#e8aa6e" stroke-width="0.9" fill="none" stroke-linejoin="round" opacity="0.15"/>
<path d="M270.1 226.2 270.4 236.7 270.6 223.9 270.9 228.8 271.2 237.2 271.4 231.3 271.7 219.3 272 215.8 272.2 218 272.5 229.6 272.8 209.1 273 228.3 273.3 225 273.6 233 273.8 216.8 274.1 219 274.4 216.5 274.6 220.9 274.9 222.7 275.1 221.4 275.4 234.1 275.7 218.2 275.9 215.4 276.2 223 276.5 222 276.7 219.7 277 211 277.3 216.4 277.5 219.8 277.8 223.9 278.1 230.9 278.3 226.5 278.6 221.2 278.9 222.1 279.1 220.1 279.4 215.3 279.7 216.3 279.9 217.4 280.2 215.1 280.5 217.5 280.7 219.3 281 216.4 281.3 229.7 281.5 213.3 281.8 226.1 282.1 215.1 282.3 218 282.6 211.6 282.9 217.1 283.1 224.3 283.4 212.9 283.6 216.2 283.9 217.2 284.2 217.6 284.4 211.8 284.7 211.7 285 215.4 285.2 227.5 285.5 222.5 285.8 218.3 286 206.6 286.3 213.3 286.6 217.6 286.8 210.3 287.1 217.1 287.4 217.9 287.6 216.9 287.9 227.3 288.2 213.7 288.4 214.4 288.7 219 289 225.4 289.2 218.1 289.5 209 289.8 220.2 290 225.2 290.3 216.7 290.6 227.9 290.8 234.1 291.1 224 291.4 223.6 291.6 220.9 291.9 222.1 292.1 216.7 292.4 219.2 292.7 222.1 292.9 221.8 293.2 214.8 293.5 211.4 293.7 211.1 294 212.3 294.3 238 294.5 228.6 294.8 222.3 295.1 217.8 295.3 228.5 295.6 211.3 295.9 215 296.1 221.7 296.4 218 296.7 220.6 296.9 223.7 297.2 216.3 297.5 221 297.7 228.1 298 224.6 298.3 220.6 298.5 225.9 298.8 212.1 299.1 224.4 299.3 208.7 299.6 211.1 299.9 223.3 300.1 219 300.4 211.4 300.6 218.7 300.9 226.6 301.2 219.9 301.4 206.6 301.7 226.1 302 217 302.2 218.7 302.5 219.9 302.8 221.9 303 221.9 303.3 213.3 303.6 214.4 303.8 224.8 304.1 210.7 304.4 226 304.6 216.7 304.9 217.9 305.2 211.7 305.4 215.9 305.7 212.3 306 218.5 306.2 213.4 306.5 216.5 306.8 205.6 307 221.7 307.3 212.9 307.6 215.9 307.8 218.4 308.1 223.7 308.4 218.4 308.6 229.7 308.9 231.3 309.2 218.5 309.4 230.5 309.7 214 309.9 221.7 310.2 220 310.5 220.9 310.7 219 311 223.2 311.3 224.7 311.5 223.6 311.8 216 312.1 214.1 312.3 212.9 312.6 218.6 312.9 223.5 313.1 234 313.4 221.4 313.7 217.8 313.9 225.1 314.2 219 314.5 214.9 314.7 221.8 315 217.1 315.3 221.1 315.5 235.1 315.8 229.9 316.1 228.6 316.3 222.5 316.6 230.3 316.9 229.2 317.1 232.5 317.4 227.4 317.7 225.8 317.9 219.8 318.2 219.8 318.4 223.9 318.7 224.4 319 225.4 319.2 225.7 319.5 216.7 319.8 240.6 320 230.8 320.3 225.8 320.6 219.6 320.8 232.6 321.1 226.1 321.4 221.6 321.6 229 321.9 239.9 322.2 232.2 322.4 236.1 322.7 225.1 323 232.4 323.2 217.1 323.5 224.5 323.8 232 324 231.6 324.3 235.2 324.6 226.4 324.8 217.6 325.1 226.6 325.4 221.1 325.6 231.8 325.9 225.9 326.2 211.9 326.4 232.6 326.7 219.9 326.9 217.6 327.2 236.4 327.5 237.3 327.7 234.4 328 221.3 328.3 227.4 328.5 226.8 328.8 221 329.1 223.4 329.3 223.1 329.6 226.3 329.9 217.6 330.1 227.8 330.4 214 330.7 223.9 330.9 228.7 331.2 220.3 331.5 219.6 331.7 234.8 332 223.7 332.3 231.3 332.5 229.3 332.8 218.4 333.1 226.6 333.3 220.3 333.6 223.6 333.9 209.3 334.1 219.2 334.4 227.9 334.7 229 334.9 227.8 335.2 220.9 335.4 220.2 335.7 213.7 336 217.4 336.2 218.2 336.5 217 336.8 219.5 337 217.2 337.3 213.5 337.6 212.7 337.8 220.9 338.1 230.2 338.4 225.9 338.6 218 338.9 234 339.2 224.3 339.4 216.4 339.7 221.2 340 225.7 340.2 208.3 340.5 207.1 340.8 217.3 341 209.3 341.3 207.9 341.6 223.1 341.8 201.9 342.1 220.7 342.4 220.2 342.6 225.4 342.9 219.1 343.2 226.7 343.4 220 343.7 211.7 344 215.7 344.2 219.6 344.5 208.9 344.7 222.4 345 213.3 345.3 219.6 345.5 217.7 345.8 218.6 346.1 218.2 346.3 219.4 346.6 224.4 346.9 224.1 347.1 217.7 347.4 220 347.7 227.3 347.9 226 348.2 225.7 348.5 221.7 348.7 219.5 349 219.8 349.3 224.7 349.5 221.5 349.8 229.8 350.1 241.2 350.3 225.6 350.6 232.7 350.9 229.8 351.1 231 351.4 219.6 351.7 229.2 351.9 221.7 352.2 225.2 352.5 230.8 352.7 234.1 353 221.9 353.2 220.1 353.5 217.3 353.8 210.1 354 218.7 354.3 220.5 354.6 223.5 354.8 222.7 355.1 225.5 355.4 229.6 355.6 212.1 355.9 233.2 356.2 224 356.4 221 356.7 222.4 357 229.7 357.2 226.4 357.5 227.4 357.8 231.6 358 225.9 358.3 227.1 358.6 228.2 358.8 220.6 359.1 230.2 359.4 222.5 359.6 227.7 359.9 222.1 360.2 223.2 360.4 222.3 360.7 229.9 361 230 361.2 230.5 361.5 224 361.7 219 362 215.9 362.3 225.2 362.5 223.3 362.8 233.7 363.1 239.5 363.3 232 363.6 229.1 363.9 234.1 364.1 236.4 364.4 222.1 364.7 227.7 364.9 234.3 365.2 210.1 365.5 218.8 365.7 223.5 366 218.1 366.3 226 366.5 212.6 366.8 229.7 367.1 231.5 367.3 224.4 367.6 226.8 367.9 213.4 368.1 229.7 368.4 227.4 368.7 220.7 368.9 217.2 369.2 213.6 369.5 216.9 369.7 205.7 370 220.4 370.3 219.1 370.5 214.4 370.8 220.8 371 221.9 371.3 223.1 371.6 224.4 371.8 227.7 372.1 224.6 372.4 230.2 372.6 219.1 372.9 229.3 373.2 208.1 373.4 206.1 373.7 209.4 374 218.4 374.2 222.5 374.5 211.8 374.8 216.3 375 214.7 375.3 222.5 375.6 212.7 375.8 222.6 376.1 218.8 376.4 229.7 376.6 225.1 376.9 216.8 377.2 221.2 377.4 222.1 377.7 214.4 378 218.4 378.2 210.9 378.5 232.6 378.8 218 379 215.5 379.3 228.1 379.5 229.1 379.8 215.5 380.1 225.2 380.3 224.4 380.6 216.5 380.9 220.8 381.1 216.6 381.4 224.3 381.7 218.5 381.9 212.5 382.2 216.1 382.5 232.9 382.7 218.2 383 219.1 383.3 225.4 383.5 212.2 383.8 229.5 384.1 210.1 384.3 222.2 384.6 210.6 384.9 218.7 385.1 228.5 385.4 221.5 385.7 218.6 385.9 216.8 386.2 213.2 386.5 225 386.7 218.6 387 215.8 387.3 221.7 387.5 227.2 387.8 228.4 388 217.9 388.3 215.6 388.6 225.5 388.8 230.8 389.1 215.6 389.4 230.3 389.6 222.4 389.9 227 390.2 234 390.4 223.6 390.7 223.5 391 213.2 391.2 206 391.5 220.1 391.8 215.3 392 214.3 392.3 224.1 392.6 228.3 392.8 213.4 393.1 223 393.4 222.8 393.6 224.5 393.9 223.9 394.2 226.8 394.4 218.8 394.7 214 395 223.4 395.2 231.7 395.5 224.3 395.8 232.6 396 229 396.3 216.4 396.5 207 396.8 217.5 397.1 228.7 397.3 219.3 397.6 236.6 397.9 230.3 398.1 215 398.4 216.9 398.7 230.8 398.9 235.4 399.2 220.3 399.5 223.1 399.7 227.1 400 221.6 400.3 226.7 400.5 236.3 400.8 221 401.1 227.2 401.3 230.7 401.6 233.5 401.9 224 402.1 228.8 402.4 220.8 402.7 224.8 402.9 217.1 403.2 224.9 403.5 228.2 403.7 237.2 404 233.5 404.3 221.2 404.5 204 404.8 227.9 405.1 231.3 405.3 223.3 405.6 220.9 405.8 227.7 406.1 224.3 406.4 234.3 406.6 228 406.9 219.2 407.2 212.8 407.4 223 407.7 225.6 408 221.7 408.2 216.7 408.5 219.7 408.8 228.2 409 222.9 409.3 217.9 409.6 227.6 409.8 233.5 410.1 223 410.4 221.9 410.6 217.9 410.9 222.6 411.2 228.3 411.4 228.1 411.7 231.8 412 232.1 412.2 229.7 412.5 228.8 412.8 218.5 413 231.3 413.3 226.4 413.6 228.9 413.8 216.2 414.1 221.5 414.3 226.6 414.6 220.1 414.9 223.6 415.1 227.8 415.4 215.9 415.7 218.8 415.9 212.9 416.2 215.4 416.5 218.3 416.7 223 417 231.7 417.3 222.1 417.5 224.2 417.8 220.9 418.1 224.6 418.3 229.7 418.6 232.7 418.9 222.5 419.1 216.8 419.4 225.7 419.7 222.8 419.9 216.3 420.2 229.1 420.5 228.6 420.7 233.4 421 219.9 421.3 223 421.5 228.2 421.8 236.9 422.1 229.3 422.3 220.3 422.6 226.7 422.8 228.9 423.1 222.6 423.4 233.2 423.6 227.2 423.9 222.6 424.2 230.4 424.4 232.3 424.7 225.9 425 226.8 425.2 227.9 425.5 225.3 425.8 224.7 426 231.9 426.3 231.7 426.6 224.6 426.8 218.9 427.1 216.3 427.4 229.7 427.6 220.2 427.9 220.4 428.2 225.4 428.4 223.1 428.7 220.5 429 214 429.2 230.6 429.5 223.5 429.8 226.7 430 227.8 430.3 219.4 430.6 219.8 430.8 231.5 431.1 229.1 431.3 225.4 431.6 235 431.9 222.5 432.1 225.9 432.4 225.1 432.7 223.7 432.9 214.2 433.2 223.4 433.5 227.6 433.7 215.2 434 226.8 434.3 229.2 434.5 235 434.8 220.6 435.1 222.7 435.3 221.8 435.6 223.5 435.9 225.6 436.1 230.1 436.4 230.9 436.7 223.3 436.9 223.6 437.2 214.1 437.5 227.2 437.7 228 438 231.4 438.3 216.9 438.5 230.3 438.8 220.2 439.1 213.9 439.3 222.5 439.6 218.6 439.9 235.7 440.1 228.1 440.4 234.4 440.6 224 440.9 222.9 441.2 227.4 441.4 217.4 441.7 219 442 224.7 442.2 225.6 442.5 231.7 442.8 224.7 443 208.7 443.3 223.1 443.6 218.8 443.8 223.9 444.1 216.2 444.4 216.9 444.6 221.1 444.9 231.5 445.2 225.5 445.4 213.3 445.7 219.9 446 215.5 446.2 221.5 446.5 231.2 446.8 218.6 447 216.6 447.3 221.7" stroke="#e8aa6e" stroke-width="0.9" fill="none" stroke-linejoin="round" opacity="0.15"/>
<path d="M270.1 224.2 270.4 222.2 270.6 227.2 270.9 222 271.2 224.2 271.4 238 271.7 226.6 272 227 272.2 228.3 272.5 220.6 272.8 224.4 273 218.5 273.3 213.6 273.6 218.4 273.8 229.8 274.1 226.7 274.4 215.6 274.6 220.5 274.9 224.8 275.1 220.9 275.4 216.2 275.7 216.6 275.9 214 276.2 222.6 276.5 220.6 276.7 219.9 277 218.2 277.3 230.7 277.5 221.3 277.8 226.2 278.1 209.8 278.3 205.3 278.6 203.5 278.9 208.4 279.1 217.4 279.4 209.9 279.7 215.5 279.9 211.4 280.2 220 280.5 219.5 280.7 212.7 281 202.9 281.3 212.1 281.5 199.5 281.8 193.7 282.1 217.8 282.3 214.6 282.6 219.6 282.9 215.4 283.1 216.9 283.4 214.2 283.6 207 283.9 205.6 284.2 209.5 284.4 211.8 284.7 211.4 285 211.2 285.2 208.2 285.5 211.1 285.8 208.5 286 219.3 286.3 208.1 286.6 199.8 286.8 207.9 287.1 219.5 287.4 204.4 287.6 211.9 287.9 230.1 288.2 216.2 288.4 208.2 288.7 207.9 289 202.5 289.2 205.2 289.5 208.9 289.8 222.8 290 220.1 290.3 211.4 290.6 206.5 290.8 216.3 291.1 215.6 291.4 208.7 291.6 222.3 291.9 225.2 292.1 215 292.4 210 292.7 213.6 292.9 225.7 293.2 213.6 293.5 219.7 293.7 208.5 294 211 294.3 209.3 294.5 206.6 294.8 213.4 295.1 206.3 295.3 202.3 295.6 206.9 295.9 202 296.1 213.4 296.4 206 296.7 208.6 296.9 217.2 297.2 213.2 297.5 215.3 297.7 215.9 298 212.1 298.3 205.3 298.5 212.6 298.8 211.4 299.1 221.3 299.3 213.4 299.6 205.3 299.9 205.9 300.1 208.2 300.4 215.1 300.6 219.3 300.9 214.7 301.2 221.7 301.4 222.5 301.7 209.1 302 218.2 302.2 203 302.5 220.4 302.8 212.2 303 220.7 303.3 214 303.6 220.4 303.8 215 304.1 215.2 304.4 217.2 304.6 211.6 304.9 204.3 305.2 216.1 305.4 209.3 305.7 213 306 214.6 306.2 200.9 306.5 225.8 306.8 221.5 307 227.8 307.3 219.7 307.6 217.6 307.8 191.8 308.1 208.5 308.4 202.8 308.6 204.8 308.9 216.3 309.2 212.8 309.4 204.7 309.7 212.5 309.9 213.9 310.2 212.4 310.5 224.8 310.7 223 311 215.4 311.3 212.6 311.5 221.3 311.8 219.3 312.1 217.7 312.3 217.6 312.6 212.3 312.9 214.9 313.1 215.1 313.4 225.1 313.7 224.8 313.9 216.1 314.2 226.5 314.5 216.8 314.7 220.7 315 222.5 315.3 213.6 315.5 220.2 315.8 222.6 316.1 222 316.3 217.2 316.6 199.2 316.9 226.4 317.1 218.5 317.4 218.3 317.7 210.7 317.9 217.5 318.2 232.1 318.4 211.1 318.7 222.1 319 217.8 319.2 225.1 319.5 224.9 319.8 221 320 211.6 320.3 209.8 320.6 218.5 320.8 213.3 321.1 217.8 321.4 215.6 321.6 214.8 321.9 211.7 322.2 218.8 322.4 217.2 322.7 214.6 323 214.9 323.2 220.5 323.5 205.7 323.8 216.5 324 210.9 324.3 213.2 324.6 207.2 324.8 227.5 325.1 204.8 325.4 214.5 325.6 222.9 325.9 215.9 326.2 201 326.4 209.1 326.7 221.7 326.9 219.3 327.2 207.4 327.5 222.4 327.7 217.6 328 217.3 328.3 201.7 328.5 214.1 328.8 206.4 329.1 217.4 329.3 220.4 329.6 209.5 329.9 209.8 330.1 224.7 330.4 212.7 330.7 210.2 330.9 217.7 331.2 213.9 331.5 212.8 331.7 217.4 332 218.9 332.3 219.8 332.5 217.4 332.8 223.6 333.1 216.8 333.3 224.6 333.6 216.2 333.9 215.6 334.1 221.5 334.4 210.7 334.7 201.8 334.9 203.8 335.2 221.3 335.4 208.1 335.7 212.2 336 214.7 336.2 218.7 336.5 215.8 336.8 206.4 337 209.9 337.3 216.7 337.6 219.7 337.8 218.7 338.1 212.2 338.4 202.9 338.6 219.5 338.9 216.2 339.2 218 339.4 220.7 339.7 214 340 211.7 340.2 223.8 340.5 223.8 340.8 209.7 341 212.5 341.3 211.8 341.6 218.2 341.8 218.7 342.1 213.6 342.4 218.6 342.6 223.5 342.9 217.5 343.2 210.6 343.4 221.5 343.7 210.5 344 210.6 344.2 220.5 344.5 217.1 344.7 216.7 345 212.4 345.3 211.4 345.5 223.6 345.8 226.3 346.1 211.9 346.3 214.9 346.6 213.5 346.9 213.8 347.1 206.3 347.4 222.1 347.7 210.8 347.9 220.6 348.2 212.8 348.5 207.4 348.7 223.5 349 215.5 349.3 218.2 349.5 218.8 349.8 216.8 350.1 223.3 350.3 224.1 350.6 214 350.9 210.8 351.1 219 351.4 226.3 351.7 203.9 351.9 207.1 352.2 212.4 352.5 222.2 352.7 221.3 353 215.9 353.2 222.4 353.5 207.5 353.8 213.8 354 213.4 354.3 222.2 354.6 223.2 354.8 222.6 355.1 215.8 355.4 217.8 355.6 218.3 355.9 214.6 356.2 214.4 356.4 206.4 356.7 215.3 357 222.2 357.2 217.2 357.5 207 357.8 217.5 358 215.8 358.3 218 358.6 213.6 358.8 213.6 359.1 220.3 359.4 217.9 359.6 210.1 359.9 207.5 360.2 208.1 360.4 208.5 360.7 216.1 361 217.7 361.2 209.9 361.5 221.5 361.7 216.8 362 227.1 362.3 219.9 362.5 220.4 362.8 223.7 363.1 213.1 363.3 219.2 363.6 218.1 363.9 217.1 364.1 219.9 364.4 207 364.7 216.3 364.9 213.9 365.2 222.8 365.5 219.3 365.7 217.7 366 217.2 366.3 218.9 366.5 214.6 366.8 204.9 367.1 213.6 367.3 215.3 367.6 217.3 367.9 199.4 368.1 201.5 368.4 208.6 368.7 209.1 368.9 218 369.2 216.3 369.5 213.7 369.7 213.7 370 219.8 370.3 220.6 370.5 212.6 370.8 212.3 371 227.4 371.3 216.6 371.6 207.1 371.8 217.2 372.1 213.7 372.4 223.6 372.6 211.3 372.9 221 373.2 223.7 373.4 218.5 373.7 200.6 374 215.7 374.2 222.8 374.5 213.4 374.8 213 375 204 375.3 220.5 375.6 225.8 375.8 218.9 376.1 213.2 376.4 212.1 376.6 207.4 376.9 222.5 377.2 221.4 377.4 216.8 377.7 209.9 378 210.7 378.2 216.5 378.5 221.4 378.8 210.5 379 207.9 379.3 196.4 379.5 212.1 379.8 204 380.1 220.1 380.3 219.1 380.6 219.8 380.9 218.6 381.1 220.9 381.4 219.3 381.7 215.9 381.9 217.7 382.2 211.2 382.5 214.5 382.7 214.6 383 205.5 383.3 210.9 383.5 212.9 383.8 214.4 384.1 214.2 384.3 211 384.6 218.9 384.9 208.4 385.1 203.6 385.4 205.3 385.7 215.9 385.9 224.9 386.2 219.5 386.5 214.7 386.7 209.6 387 214.9 387.3 216.7 387.5 205.7 387.8 217.2 388 208.8 388.3 208.1 388.6 222 388.8 214.7 389.1 218.6 389.4 221.8 389.6 228.1 389.9 227.7 390.2 215.3 390.4 217.9 390.7 214.3 391 222 391.2 219 391.5 218.1 391.8 226 392 228.3 392.3 215.8 392.6 215.2 392.8 221.8 393.1 218.1 393.4 212.6 393.6 204.3 393.9 219.7 394.2 213.4 394.4 202.9 394.7 213.6 395 207.1 395.2 231.2 395.5 210.9 395.8 216 396 228.7 396.3 214.8 396.5 210.4 396.8 208.5 397.1 208.3 397.3 216 397.6 222.1 397.9 221.5 398.1 218.8 398.4 215.6 398.7 220.5 398.9 218.3 399.2 212.7 399.5 215.1 399.7 203.3 400 201.8 400.3 222.2 400.5 222.7 400.8 227.5 401.1 227.5 401.3 216.9 401.6 224.4 401.9 226.2 402.1 221.8 402.4 214.2 402.7 219.9 402.9 221.1 403.2 213.3 403.5 214.6 403.7 214.9 404 211.8 404.3 223.4 404.5 218 404.8 222.2 405.1 212.5 405.3 211.9 405.6 223.3 405.8 210.6 406.1 223.6 406.4 211.5 406.6 214.9 406.9 222.3 407.2 225.1 407.4 220.5 407.7 217.7 408 221.3 408.2 213.9 408.5 224.5 408.8 217.8 409 216.2 409.3 227.5 409.6 215.9 409.8 223.3 410.1 232.3 410.4 222.1 410.6 217.5 410.9 209.3 411.2 216.2 411.4 205.2 411.7 203 412 204.5 412.2 203.2 412.5 208.9 412.8 215.5 413 209.1 413.3 205.7 413.6 209.4 413.8 213 414.1 221.9 414.3 209.4 414.6 208.8 414.9 218.9 415.1 211.9 415.4 206.5 415.7 210.5 415.9 205.6 416.2 204.6 416.5 218.3 416.7 213.5 417 207.5 417.3 203.5 417.5 199.5 417.8 219.5 418.1 211.8 418.3 205.3 418.6 200.7 418.9 196.8 419.1 212.4 419.4 212 419.7 216.1 419.9 205.2 420.2 216.4 420.5 202.9 420.7 201.7 421 204.3 421.3 221.6 421.5 215.6 421.8 205.5 422.1 217.1 422.3 212 422.6 210.1 422.8 203.5 423.1 206 423.4 206.5 423.6 211.1 423.9 209.3 424.2 209.8 424.4 204.4 424.7 209.1 425 202.4 425.2 218.2 425.5 203.2 425.8 208.8 426 201.8 426.3 206.9 426.6 203.1 426.8 198.4 427.1 210.3 427.4 208.7 427.6 210 427.9 207.8 428.2 218.9 428.4 212 428.7 211.2 429 214.4 429.2 211.3 429.5 219.2 429.8 202.3 430 204.9 430.3 196.4 430.6 212.1 430.8 217.1 431.1 209 431.3 219.7 431.6 209.9 431.9 213.8 432.1 212.3 432.4 208.4 432.7 208.9 432.9 197.6 433.2 203.1 433.5 216.4 433.7 204.8 434 217.1 434.3 210.6 434.5 217.7 434.8 216.6 435.1 202.9 435.3 212 435.6 214.4 435.9 214.4 436.1 212.9 436.4 201.6 436.7 215.9 436.9 219.1 437.2 208.4 437.5 220 437.7 214.7 438 204.2 438.3 209.3 438.5 213.4 438.8 215.8 439.1 217.6 439.3 216 439.6 211.2 439.9 203.3 440.1 203.6 440.4 213.3 440.6 216.4 440.9 208.2 441.2 222.4 441.4 216.6 441.7 214.9 442 219.6 442.2 219.9 442.5 211.6 442.8 222.6 443 220.3 443.3 218.2 443.6 213.4 443.8 221.6 444.1 207.9 444.4 214.1 444.6 215.1 444.9 216.1 445.2 218.4 445.4 220.9 445.7 208.2 446 211.7 446.2 214.5 446.5 208.2 446.8 217.9 447 211.5 447.3 214.2" stroke="#e8aa6e" stroke-width="0.9" fill="none" stroke-linejoin="round" opacity="0.15"/>
<path d="M270.1 222.2 270.4 217.7 270.6 231.2 270.9 220 271.2 227.6 271.4 220.7 271.7 212.9 272 216.6 272.2 224.8 272.5 222.6 272.8 224.3 273 229.7 273.3 230.3 273.6 222.9 273.8 218.2 274.1 232 274.4 223.8 274.6 218.3 274.9 219.7 275.1 227.1 275.4 215.3 275.7 227.4 275.9 217.7 276.2 209.6 276.5 231.3 276.7 220.8 277 218.2 277.3 218.2 277.5 224.5 277.8 222.7 278.1 229.2 278.3 220.6 278.6 216.2 278.9 223 279.1 225.9 279.4 223.5 279.7 219.9 279.9 218.7 280.2 219.4 280.5 218.3 280.7 226.9 281 237.6 281.3 218.2 281.5 209 281.8 225.3 282.1 223.7 282.3 217 282.6 211.4 282.9 212.2 283.1 208.2 283.4 215.8 283.6 214.3 283.9 213.9 284.2 219.1 284.4 209.6 284.7 211.3 285 209.2 285.2 217.5 285.5 209.9 285.8 221.7 286 214.7 286.3 232.4 286.6 225.6 286.8 212.9 287.1 217.9 287.4 214.8 287.6 225.6 287.9 207.3 288.2 209.7 288.4 214 288.7 211.9 289 212 289.2 204.9 289.5 211 289.8 222.9 290 217.4 290.3 206.3 290.6 208.5 290.8 215.1 291.1 209.7 291.4 211.7 291.6 208.7 291.9 222.1 292.1 220.2 292.4 209.6 292.7 213.1 292.9 209.9 293.2 198.8 293.5 211 293.7 209.7 294 214.4 294.3 215.7 294.5 212.2 294.8 220.2 295.1 225.8 295.3 204.6 295.6 209.6 295.9 202.6 296.1 207.4 296.4 208.1 296.7 204.7 296.9 203.6 297.2 215.5 297.5 202.3 297.7 213.5 298 208.1 298.3 191.8 298.5 204.2 298.8 196.4 299.1 207.6 299.3 203.6 299.6 206.3 299.9 204.3 300.1 212 300.4 213.8 300.6 206 300.9 216.5 301.2 213.9 301.4 203.8 301.7 209.7 302 212.6 302.2 214.5 302.5 206.7 302.8 208.4 303 205.4 303.3 206.9 303.6 194.1 303.8 206.1 304.1 218.2 304.4 207.3 304.6 205.9 304.9 204.6 305.2 215.5 305.4 200.3 305.7 204.6 306 205.6 306.2 215.6 306.5 204.5 306.8 205.8 307 197 307.3 206.6 307.6 213.7 307.8 206.5 308.1 211.8 308.4 204.4 308.6 212.5 308.9 208.1 309.2 207.9 309.4 206.7 309.7 209.6 309.9 212.2 310.2 208 310.5 210.5 310.7 206.5 311 208.4 311.3 221.5 311.5 210.3 311.8 198.9 312.1 203.6 312.3 202.8 312.6 203.7 312.9 209.8 313.1 216.7 313.4 204.5 313.7 200.6 313.9 203.1 314.2 204.6 314.5 205.2 314.7 208.1 315 206.9 315.3 208.5 315.5 206.9 315.8 214.8 316.1 214.4 316.3 206.9 316.6 211.3 316.9 225.4 317.1 212.3 317.4 225 317.7 201.2 317.9 204.1 318.2 205.1 318.4 213.8 318.7 218.6 319 213.9 319.2 211.6 319.5 216.3 319.8 211.5 320 207.3 320.3 207.1 320.6 217.5 320.8 226.8 321.1 215.1 321.4 217.1 321.6 210.6 321.9 201.9 322.2 200.3 322.4 208.6 322.7 205.2 323 201.2 323.2 210.5 323.5 211.1 323.8 207.7 324 212.6 324.3 216.6 324.6 219.1 324.8 215 325.1 218.2 325.4 210 325.6 215.6 325.9 205.6 326.2 205.3 326.4 220.7 326.7 209.3 326.9 216.5 327.2 206.9 327.5 210.5 327.7 214.8 328 211.3 328.3 218.4 328.5 214.4 328.8 213.4 329.1 216.6 329.3 214.1 329.6 222.3 329.9 214.4 330.1 224 330.4 214.5 330.7 213.7 330.9 212.2 331.2 219.9 331.5 199.2 331.7 215.5 332 216.5 332.3 222.4 332.5 210.1 332.8 219.6 333.1 212.5 333.3 223.2 333.6 217.7 333.9 220.9 334.1 213.6 334.4 219.8 334.7 224.7 334.9 217.6 335.2 226.5 335.4 226.9 335.7 216.3 336 230.7 336.2 217.3 336.5 221.9 336.8 226.1 337 219.8 337.3 216.1 337.6 223 337.8 221.9 338.1 215.7 338.4 214.8 338.6 219.6 338.9 225.1 339.2 227.3 339.4 225.6 339.7 217.4 340 216.4 340.2 217.9 340.5 211.5 340.8 220.7 341 223 341.3 223.5 341.6 209.3 341.8 231 342.1 220.8 342.4 217.7 342.6 219.4 342.9 205.6 343.2 209.9 343.4 213.1 343.7 224 344 217.4 344.2 221.3 344.5 219.4 344.7 217.9 345 221.7 345.3 215.4 345.5 207.8 345.8 209.8 346.1 215.1 346.3 229.2 346.6 213.2 346.9 209.9 347.1 216.8 347.4 219.8 347.7 213.2 347.9 220.7 348.2 212.1 348.5 221.7 348.7 222.5 349 216.6 349.3 224.3 349.5 216.7 349.8 211.6 350.1 221.8 350.3 209.8 350.6 216.4 350.9 210.6 351.1 211.3 351.4 215.4 351.7 216.4 351.9 223.7 352.2 218.7 352.5 218 352.7 202.8 353 203.4 353.2 218.1 353.5 207.5 353.8 208.7 354 212.5 354.3 207.9 354.6 204.9 354.8 212.5 355.1 212 355.4 209.1 355.6 215.5 355.9 209.4 356.2 209.8 356.4 213.4 356.7 215 357 208.2 357.2 203.3 357.5 205.6 357.8 213.3 358 205 358.3 206.8 358.6 204.6 358.8 200.7 359.1 212.6 359.4 210.3 359.6 212.7 359.9 214.9 360.2 197.7 360.4 200.9 360.7 218.1 361 208.2 361.2 212.3 361.5 202.8 361.7 207.4 362 210 362.3 208.7 362.5 207.1 362.8 209 363.1 211 363.3 211 363.6 207.2 363.9 216.5 364.1 211.6 364.4 211.5 364.7 213.9 364.9 207 365.2 218.1 365.5 214.8 365.7 217.3 366 209.4 366.3 214.1 366.5 212 366.8 209.7 367.1 221.5 367.3 211.5 367.6 216.9 367.9 215.2 368.1 214.1 368.4 208.4 368.7 207.8 368.9 201.5 369.2 210.1 369.5 216 369.7 217.4 370 210.8 370.3 203.8 370.5 210.2 370.8 217.2 371 213.6 371.3 213.1 371.6 214.4 371.8 219.6 372.1 231.7 372.4 221.9 372.6 210.4 372.9 213.3 373.2 228.8 373.4 218.4 373.7 227.7 374 206.2 374.2 213 374.5 222.9 374.8 212.7 375 220.3 375.3 213.7 375.6 215.7 375.8 223.4 376.1 213.7 376.4 224 376.6 209.7 376.9 214.7 377.2 222.3 377.4 228.6 377.7 208.8 378 205.8 378.2 221.7 378.5 207.1 378.8 213.1 379 216.6 379.3 216.4 379.5 217.3 379.8 207 380.1 212.7 380.3 225.9 380.6 204.3 380.9 207.3 381.1 219.8 381.4 217.7 381.7 220.4 381.9 215 382.2 211.7 382.5 211.8 382.7 216.8 383 218.8 383.3 209 383.5 212.7 383.8 198.9 384.1 214.6 384.3 207.8 384.6 210.8 384.9 216.2 385.1 204.1 385.4 209.1 385.7 216.2 385.9 213.9 386.2 205.1 386.5 216.8 386.7 203.1 387 204.4 387.3 210.4 387.5 201.5 387.8 197.1 388 203.1 388.3 206.8 388.6 197.1 388.8 197.2 389.1 211.9 389.4 210.3 389.6 209.9 389.9 210.8 390.2 217.6 390.4 204.1 390.7 206.3 391 206.6 391.2 198.5 391.5 208.9 391.8 207.8 392 205.4 392.3 209.2 392.6 208 392.8 202.3 393.1 205.9 393.4 198.3 393.6 209.6 393.9 206 394.2 215.3 394.4 209.1 394.7 211.5 395 199.3 395.2 200.7 395.5 202.5 395.8 194.7 396 195.6 396.3 200.4 396.5 210 396.8 216.7 397.1 209.4 397.3 210.1 397.6 212.1 397.9 210.5 398.1 218.7 398.4 201.1 398.7 213.9 398.9 213.7 399.2 206.1 399.5 218.3 399.7 205.2 400 202.6 400.3 210 400.5 216.3 400.8 214.1 401.1 222.3 401.3 204.1 401.6 208.9 401.9 214.9 402.1 217.3 402.4 208.8 402.7 201.5 402.9 217.4 403.2 216.5 403.5 223.8 403.7 210.3 404 211 404.3 198.4 404.5 210.7 404.8 215.3 405.1 218.1 405.3 209.1 405.6 222.9 405.8 211 406.1 211.9 406.4 216.9 406.6 220.5 406.9 209.3 407.2 202.2 407.4 215.2 407.7 211.8 408 203.8 408.2 216.9 408.5 217.4 408.8 223.6 409 218.3 409.3 216.9 409.6 218.8 409.8 221.2 410.1 227 410.4 226.7 410.6 224.4 410.9 214 411.2 219 411.4 222.2 411.7 213.5 412 212.3 412.2 220.2 412.5 221 412.8 213.1 413 213.2 413.3 220.6 413.6 215.3 413.8 215.8 414.1 208.7 414.3 219.4 414.6 210.5 414.9 211.3 415.1 220.3 415.4 209 415.7 207.5 415.9 220.8 416.2 202.7 416.5 218.3 416.7 219.7 417 216.1 417.3 208.2 417.5 207.6 417.8 211.4 418.1 202.7 418.3 206.7 418.6 201 418.9 190.7 419.1 204.7 419.4 224.5 419.7 214.9 419.9 216.6 420.2 209.3 420.5 207.4 420.7 215.1 421 215.8 421.3 210.1 421.5 208.2 421.8 222.6 422.1 202.7 422.3 204.4 422.6 204.7 422.8 202.5 423.1 210.1 423.4 205.2 423.6 197 423.9 194.9 424.2 198.1 424.4 203.1 424.7 207.3 425 194.4 425.2 196.6 425.5 202.8 425.8 214.9 426 208.9 426.3 214.2 426.6 195 426.8 197.7 427.1 204 427.4 202.1 427.6 183.3 427.9 188.3 428.2 205.5 428.4 201.1 428.7 207.2 429 211.5 429.2 200.2 429.5 183.7 429.8 185.8 430 195.9 430.3 200.6 430.6 197.9 430.8 192 431.1 206.8 431.3 212.4 431.6 189.5 431.9 195.2 432.1 187.8 432.4 195.2 432.7 188.7 432.9 200.8 433.2 196.2 433.5 188.5 433.7 190.4 434 200.3 434.3 193.6 434.5 202.3 434.8 209 435.1 197.8 435.3 190 435.6 192 435.9 206.1 436.1 195.2 436.4 194.3 436.7 201.5 436.9 216.2 437.2 196.5 437.5 193.4 437.7 195.4 438 210.3 438.3 211.8 438.5 196 438.8 194.3 439.1 196 439.3 201.3 439.6 198.2 439.9 203.8 440.1 203.6 440.4 207.2 440.6 200.7 440.9 204 441.2 195.8 441.4 195.8 441.7 205.9 442 190.8 442.2 207.2 442.5 200.4 442.8 195.1 443 192.9 443.3 215.3 443.6 199.1 443.8 194.6 444.1 192.4 444.4 216 444.6 210.9 444.9 206.3 445.2 207.8 445.4 196.7 445.7 207.8 446 197.8 446.2 200.4 446.5 214.3 446.8 214.3 447 211.1 447.3 207" stroke="#e8aa6e" stroke-width="0.9" fill="none" stroke-linejoin="round" opacity="0.15"/>
<path d="M270.1 228.1 270.4 228.9 270.6 221.8 270.9 236.1 271.2 248.1 271.4 232.9 271.7 224.4 272 227.8 272.2 232.3 272.5 223.8 272.8 212.2 273 222.7 273.3 228.6 273.6 230.3 273.8 212.3 274.1 221.4 274.4 218.8 274.6 214.2 274.9 214 275.1 226.6 275.4 216.8 275.7 215.4 275.9 217.2 276.2 214 276.5 223.3 276.7 221.9 277 224.3 277.3 216.4 277.5 223.7 277.8 218.3 278.1 226.6 278.3 221.9 278.6 222.3 278.9 220.7 279.1 218.6 279.4 220.1 279.7 220.5 279.9 232.3 280.2 214.2 280.5 221.5 280.7 220.5 281 223.9 281.3 212.7 281.5 222.6 281.8 215.5 282.1 209.6 282.3 205.3 282.6 207.3 282.9 211.3 283.1 223.7 283.4 210.1 283.6 208 283.9 209.8 284.2 210.3 284.4 215 284.7 219.7 285 210.3 285.2 207.2 285.5 221.3 285.8 211.6 286 213.9 286.3 210.2 286.6 213.4 286.8 208.6 287.1 208.2 287.4 209 287.6 223.7 287.9 212.5 288.2 215.2 288.4 223.3 288.7 213.2 289 224.5 289.2 212.4 289.5 204.9 289.8 217.5 290 211.1 290.3 212.9 290.6 212 290.8 224.8 291.1 214.9 291.4 216.1 291.6 212.6 291.9 216.7 292.1 210.8 292.4 215 292.7 213.4 292.9 208.9 293.2 215.7 293.5 212.1 293.7 216.4 294 215.6 294.3 222.3 294.5 215.5 294.8 211.5 295.1 219.2 295.3 215.4 295.6 217.2 295.9 227.5 296.1 220.5 296.4 213.2 296.7 223.4 296.9 233.8 297.2 223.5 297.5 227.1 297.7 211.9 298 221.3 298.3 223.2 298.5 227.7 298.8 223.3 299.1 227.7 299.3 230.9 299.6 226.4 299.9 230.5 300.1 218 300.4 231.4 300.6 227.3 300.9 230.5 301.2 235.7 301.4 217.7 301.7 238 302 219.7 302.2 234.3 302.5 227.9 302.8 213 303 237.8 303.3 238.1 303.6 221.3 303.8 225.2 304.1 230.6 304.4 228.5 304.6 234 304.9 228.3 305.2 218.5 305.4 228.4 305.7 227.1 306 220.1 306.2 213.7 306.5 228.7 306.8 226.1 307 230.9 307.3 232.4 307.6 231.1 307.8 232.3 308.1 239.4 308.4 242.4 308.6 235.1 308.9 228.1 309.2 219.9 309.4 229.2 309.7 228.7 309.9 223.3 310.2 221.7 310.5 226.7 310.7 227.3 311 215.2 311.3 226.6 311.5 229.8 311.8 237.5 312.1 226.1 312.3 228.1 312.6 214.7 312.9 226.1 313.1 221.1 313.4 219.3 313.7 214.4 313.9 231.9 314.2 217.3 314.5 224 314.7 226 315 227.7 315.3 228.5 315.5 228.2 315.8 240.6 316.1 225.2 316.3 224.8 316.6 231 316.9 226.7 317.1 210.9 317.4 219.7 317.7 226.2 317.9 214.3 318.2 227.6 318.4 226.2 318.7 228.3 319 226.7 319.2 220.3 319.5 219.9 319.8 228 320 225.8 320.3 224 320.6 226.7 320.8 224.9 321.1 228.8 321.4 229.6 321.6 224.9 321.9 230.6 322.2 222.7 322.4 224.9 322.7 229.9 323 229 323.2 227.9 323.5 225.7 323.8 223.6 324 225.2 324.3 229.7 324.6 216.2 324.8 216.9 325.1 222 325.4 217.8 325.6 220.9 325.9 225.3 326.2 224 326.4 207.7 326.7 215 326.9 216.2 327.2 225.5 327.5 221.2 327.7 210.1 328 219.4 328.3 217.3 328.5 215.8 328.8 219.4 329.1 214.5 329.3 221.9 329.6 221.9 329.9 229 330.1 210.1 330.4 221 330.7 224.5 330.9 217.3 331.2 227.7 331.5 226.9 331.7 231.6 332 227.7 332.3 229.6 332.5 224.3 332.8 227.5 333.1 231.2 333.3 230.1 333.6 228.9 333.9 231.2 334.1 222.8 334.4 222.8 334.7 226.2 334.9 235.3 335.2 226.6 335.4 236.1 335.7 229 336 228.5 336.2 232.4 336.5 234.8 336.8 234.5 337 217.5 337.3 228.5 337.6 230.4 337.8 223.6 338.1 225.7 338.4 222.2 338.6 235.7 338.9 237.6 339.2 210.6 339.4 226.2 339.7 230.8 340 229 340.2 223.5 340.5 235.9 340.8 229.3 341 229.9 341.3 225.7 341.6 227.9 341.8 232.7 342.1 235.7 342.4 245.9 342.6 226.8 342.9 238.1 343.2 233.6 343.4 219.9 343.7 229.9 344 225.5 344.2 229.5 344.5 224.6 344.7 227.7 345 231.5 345.3 220.6 345.5 228.3 345.8 236.3 346.1 231.6 346.3 225.1 346.6 233.9 346.9 223.7 347.1 221.7 347.4 212.7 347.7 227.8 347.9 222.6 348.2 235.8 348.5 230.6 348.7 226.1 349 223.2 349.3 225.3 349.5 225.7 349.8 228.9 350.1 228.3 350.3 223.4 350.6 220.6 350.9 219.4 351.1 216.8 351.4 214.9 351.7 232.8 351.9 228.3 352.2 225.1 352.5 227.2 352.7 217.1 353 216.7 353.2 221.8 353.5 221.2 353.8 213.9 354 222.3 354.3 223.6 354.6 216.2 354.8 217.3 355.1 211.6 355.4 216.8 355.6 215.4 355.9 223 356.2 226.8 356.4 221.8 356.7 237 357 221.1 357.2 214.4 357.5 218.6 357.8 221.2 358 213.6 358.3 219.1 358.6 213.8 358.8 205.3 359.1 212.7 359.4 212.9 359.6 215.6 359.9 217.7 360.2 218 360.4 219.4 360.7 213.5 361 228.9 361.2 223.8 361.5 217.1 361.7 225.1 362 222.2 362.3 225.3 362.5 219 362.8 215.2 363.1 210.9 363.3 216 363.6 224.6 363.9 220.4 364.1 217.8 364.4 212.1 364.7 232.9 364.9 221.8 365.2 233.1 365.5 219.9 365.7 219 366 218.6 366.3 216.2 366.5 218.9 366.8 225.9 367.1 221.3 367.3 215.3 367.6 222.2 367.9 222.9 368.1 230.7 368.4 217.8 368.7 225.5 368.9 228.7 369.2 227.6 369.5 230 369.7 226.8 370 216.9 370.3 218 370.5 214.4 370.8 213.4 371 227.9 371.3 222.5 371.6 215.2 371.8 209 372.1 230.6 372.4 235 372.6 224.4 372.9 227.2 373.2 231.9 373.4 224.5 373.7 230.2 374 240.5 374.2 228.8 374.5 225.6 374.8 221.9 375 219.3 375.3 223.5 375.6 226.9 375.8 230.2 376.1 236.9 376.4 230.8 376.6 220.8 376.9 220.9 377.2 212.4 377.4 224.1 377.7 236.5 378 222.9 378.2 218.8 378.5 231.5 378.8 236.7 379 226.9 379.3 221.4 379.5 231.5 379.8 228.7 380.1 230.7 380.3 233.6 380.6 234.9 380.9 226.1 381.1 227.4 381.4 229.5 381.7 241.6 381.9 217.3 382.2 228.8 382.5 226.1 382.7 231.6 383 223.3 383.3 233.1 383.5 225.2 383.8 225.2 384.1 218.3 384.3 229.2 384.6 228.5 384.9 225.7 385.1 210.8 385.4 229.6 385.7 222.4 385.9 226.7 386.2 221.5 386.5 218.3 386.7 220.7 387 220.3 387.3 220 387.5 225.2 387.8 223.9 388 232.3 388.3 225.9 388.6 227.1 388.8 224.1 389.1 217.4 389.4 218.1 389.6 217.6 389.9 213.6 390.2 234.1 390.4 220.8 390.7 220.9 391 221.3 391.2 228.8 391.5 218.8 391.8 213.1 392 212.7 392.3 219.4 392.6 216.2 392.8 213.8 393.1 207.8 393.4 210.3 393.6 217.4 393.9 219.1 394.2 219 394.4 218.6 394.7 223 395 216.1 395.2 223.8 395.5 226.1 395.8 219.5 396 224 396.3 222.9 396.5 234 396.8 218.8 397.1 220.8 397.3 222 397.6 218.8 397.9 219.8 398.1 225.8 398.4 210.5 398.7 222.7 398.9 216.6 399.2 210.3 399.5 224.2 399.7 222.8 400 228.3 400.3 218.1 400.5 224.8 400.8 231 401.1 217.6 401.3 217.6 401.6 228.9 401.9 218.6 402.1 222.9 402.4 208.5 402.7 211.9 402.9 226.7 403.2 228.2 403.5 232.4 403.7 227.3 404 227 404.3 222.9 404.5 226.3 404.8 236.7 405.1 234.9 405.3 221.1 405.6 220.2 405.8 228.2 406.1 229.9 406.4 230.6 406.6 229.7 406.9 240.1 407.2 226.6 407.4 233.6 407.7 230.2 408 246.1 408.2 232.4 408.5 223.1 408.8 243.2 409 224.4 409.3 227.1 409.6 235.1 409.8 242.1 410.1 226.7 410.4 229.2 410.6 227.7 410.9 232.8 411.2 237 411.4 227.7 411.7 237 412 227.5 412.2 241.3 412.5 239.5 412.8 242.4 413 226 413.3 241.4 413.6 240.7 413.8 229.5 414.1 229.8 414.3 217.7 414.6 217.4 414.9 224.8 415.1 225.7 415.4 241.3 415.7 238.5 415.9 234.4 416.2 232.6 416.5 239.5 416.7 238 417 237.1 417.3 225 417.5 226.4 417.8 231.2 418.1 231.7 418.3 228.2 418.6 233.4 418.9 231.7 419.1 240.2 419.4 227 419.7 222.5 419.9 225.1 420.2 224.8 420.5 225.3 420.7 214.9 421 224 421.3 235.1 421.5 235.4 421.8 224.6 422.1 220.1 422.3 220.9 422.6 220.5 422.8 224.3 423.1 235.2 423.4 232.4 423.6 238.5 423.9 230.9 424.2 235.3 424.4 227 424.7 226.9 425 237.7 425.2 223.3 425.5 220.1 425.8 232.7 426 225.6 426.3 220.6 426.6 225.7 426.8 219.6 427.1 222.4 427.4 217.5 427.6 221.9 427.9 224.9 428.2 221.3 428.4 218.9 428.7 221.7 429 226.5 429.2 229.6 429.5 227.6 429.8 228.5 430 223.9 430.3 223.1 430.6 224.6 430.8 224.4 431.1 223.2 431.3 214.4 431.6 214.9 431.9 226 432.1 222 432.4 225.9 432.7 225.2 432.9 226 433.2 228.5 433.5 233.6 433.7 241.4 434 226.5 434.3 217.4 434.5 228.6 434.8 222 435.1 226.3 435.3 223 435.6 229.1 435.9 226.7 436.1 225.5 436.4 239.3 436.7 226 436.9 225.5 437.2 239.9 437.5 223.4 437.7 224.4 438 223.1 438.3 221.9 438.5 226.4 438.8 231.4 439.1 228.5 439.3 227.9 439.6 211.3 439.9 210.3 440.1 224.6 440.4 227 440.6 222.9 440.9 220.6 441.2 227.9 441.4 231.3 441.7 213.8 442 215.7 442.2 232.3 442.5 237 442.8 232.1 443 224.6 443.3 221 443.6 225.9 443.8 234.8 444.1 225.1 444.4 220.8 444.6 223.7 444.9 227.4 445.2 221.4 445.4 224.2 445.7 231.4 446 225.2 446.2 232.7 446.5 220.1 446.8 220.6 447 229.9 447.3 224.2" stroke="#e8aa6e" stroke-width="0.9" fill="none" stroke-linejoin="round" opacity="0.15"/>
<path d="M270.1 224.2 270.4 236.6 270.6 227.4 270.9 215.1 271.2 231 271.4 226.1 271.7 232.2 272 225.5 272.2 237.6 272.5 235.3 272.8 228.5 273 223.1 273.3 220.5 273.6 219.6 273.8 215.1 274.1 216.7 274.4 216.7 274.6 226.6 274.9 223.7 275.1 203.5 275.4 204.7 275.7 213.3 275.9 215.4 276.2 214.3 276.5 222.1 276.7 209.8 277 220.8 277.3 221.2 277.5 208.1 277.8 230.2 278.1 220.3 278.3 230.4 278.6 226.1 278.9 221.9 279.1 222.5 279.4 219.5 279.7 224.3 279.9 221.3 280.2 227 280.5 223.4 280.7 228.5 281 217.5 281.3 226.6 281.5 216.7 281.8 221.2 282.1 221.4 282.3 212.7 282.6 217.2 282.9 229.8 283.1 218.2 283.4 235.9 283.6 220.7 283.9 221.6 284.2 227.6 284.4 220.1 284.7 220.8 285 207.3 285.2 219 285.5 207.3 285.8 208.2 286 220.1 286.3 223.7 286.6 211.8 286.8 218 287.1 217.5 287.4 219.9 287.6 226 287.9 222.2 288.2 225 288.4 228.9 288.7 222.4 289 208.8 289.2 207.1 289.5 216.7 289.8 217.5 290 215.5 290.3 210.1 290.6 215.2 290.8 221 291.1 221.6 291.4 212.8 291.6 202.4 291.9 219.5 292.1 231.4 292.4 216.9 292.7 219.3 292.9 218.5 293.2 211.9 293.5 217.6 293.7 227.1 294 232.8 294.3 222.6 294.5 227.3 294.8 219.7 295.1 227.5 295.3 223.7 295.6 229.6 295.9 224.3 296.1 223.8 296.4 217.6 296.7 212 296.9 220 297.2 225.7 297.5 210.2 297.7 216.6 298 216.5 298.3 216.5 298.5 211.6 298.8 213.3 299.1 215.7 299.3 215.7 299.6 225.4 299.9 225.9 300.1 223.1 300.4 221.4 300.6 221.6 300.9 219.9 301.2 221.3 301.4 224.4 301.7 232.1 302 219.1 302.2 218 302.5 226.5 302.8 220.1 303 219.5 303.3 221.3 303.6 233 303.8 231.7 304.1 227.8 304.4 213.9 304.6 225.8 304.9 225.2 305.2 229.6 305.4 226.8 305.7 221.3 306 234.5 306.2 241.7 306.5 222.3 306.8 222.2 307 226 307.3 217.3 307.6 215.6 307.8 233.5 308.1 225.5 308.4 216.4 308.6 225.1 308.9 224.7 309.2 217 309.4 222.8 309.7 229.4 309.9 227.7 310.2 231.1 310.5 220.6 310.7 232 311 218 311.3 231 311.5 223.4 311.8 230.9 312.1 225.5 312.3 216.4 312.6 214 312.9 212.4 313.1 220.3 313.4 220.7 313.7 220 313.9 217.6 314.2 223.1 314.5 215.2 314.7 218.2 315 213.9 315.3 217 315.5 216.4 315.8 224.6 316.1 224.3 316.3 229.5 316.6 224.5 316.9 222.8 317.1 216.4 317.4 227.6 317.7 203 317.9 218 318.2 212.8 318.4 213 318.7 234.3 319 225 319.2 212.8 319.5 233.6 319.8 218.7 320 225.7 320.3 224.4 320.6 220 320.8 231.6 321.1 221.6 321.4 224.6 321.6 225.8 321.9 217.4 322.2 199 322.4 214.2 322.7 215.9 323 219.9 323.2 224.7 323.5 219.8 323.8 211.3 324 217.6 324.3 214.6 324.6 220.7 324.8 205.6 325.1 227.5 325.4 218.5 325.6 217.1 325.9 218.4 326.2 227 326.4 228.9 326.7 223.9 326.9 221 327.2 228.3 327.5 228.9 327.7 219.4 328 214.7 328.3 223.4 328.5 226 328.8 226.7 329.1 207.8 329.3 216 329.6 221 329.9 215.6 330.1 207 330.4 212 330.7 228.6 330.9 223.9 331.2 225 331.5 224.9 331.7 230.2 332 226.4 332.3 229.8 332.5 222.1 332.8 222.4 333.1 231.2 333.3 234.8 333.6 228.3 333.9 220.3 334.1 219.7 334.4 223 334.7 243 334.9 230.3 335.2 229.3 335.4 226.8 335.7 231.6 336 227.9 336.2 228.6 336.5 208.6 336.8 216.7 337 223.7 337.3 224.3 337.6 224.9 337.8 223.2 338.1 226.5 338.4 224.8 338.6 218.3 338.9 218.2 339.2 221.3 339.4 215.8 339.7 221.4 340 229.7 340.2 236 340.5 230.9 340.8 226.2 341 222.5 341.3 217.6 341.6 226.5 341.8 229.7 342.1 220.9 342.4 216.6 342.6 225.7 342.9 222.5 343.2 215.7 343.4 220.6 343.7 223.7 344 236.4 344.2 218.5 344.5 218.9 344.7 222.1 345 226.1 345.3 231.6 345.5 225.7 345.8 224.5 346.1 217 346.3 229.2 346.6 215.7 346.9 221.3 347.1 215.4 347.4 227 347.7 221.4 347.9 214.9 348.2 220.2 348.5 230.6 348.7 225.7 349 219.5 349.3 229.7 349.5 231.9 349.8 222.2 350.1 227.2 350.3 218.4 350.6 227.6 350.9 233.3 351.1 228 351.4 213.3 351.7 224.3 351.9 221.3 352.2 219.1 352.5 225.7 352.7 214.7 353 217.9 353.2 216.8 353.5 229.3 353.8 232.1 354 238.5 354.3 224.4 354.6 221.8 354.8 215.5 355.1 209.6 355.4 218.7 355.6 220.6 355.9 216.6 356.2 209.3 356.4 221.9 356.7 215.7 357 219.6 357.2 220.9 357.5 214.3 357.8 222.5 358 225.8 358.3 216.1 358.6 218.3 358.8 220.1 359.1 219.7 359.4 215.9 359.6 220.3 359.9 214.4 360.2 215.3 360.4 209.1 360.7 209.2 361 211.7 361.2 218.5 361.5 217.9 361.7 222.1 362 202.4 362.3 216.8 362.5 215 362.8 209.9 363.1 225.1 363.3 225 363.6 222.4 363.9 225.5 364.1 227.8 364.4 223.8 364.7 212.2 364.9 213.3 365.2 217.6 365.5 218.6 365.7 228.8 366 216.9 366.3 216.1 366.5 225 366.8 219.1 367.1 220.3 367.3 222.5 367.6 225.8 367.9 224.6 368.1 226 368.4 217.9 368.7 216.9 368.9 217 369.2 220.1 369.5 222 369.7 207.9 370 228.3 370.3 214.2 370.5 216.5 370.8 218.6 371 222.5 371.3 221.6 371.6 227.2 371.8 229.6 372.1 222.5 372.4 230.3 372.6 217 372.9 212.8 373.2 239.1 373.4 233.1 373.7 221.1 374 219.1 374.2 219.3 374.5 217.5 374.8 215.3 375 214.1 375.3 208.4 375.6 217.8 375.8 214.8 376.1 229 376.4 223 376.6 228.3 376.9 213.8 377.2 205.4 377.4 214.4 377.7 227.2 378 222.7 378.2 221 378.5 219.7 378.8 214.2 379 214 379.3 235.4 379.5 215.9 379.8 223.1 380.1 225 380.3 213.6 380.6 221.5 380.9 229.7 381.1 231.1 381.4 223.2 381.7 216.6 381.9 211.8 382.2 220.9 382.5 224.5 382.7 212.9 383 223 383.3 213.7 383.5 219.1 383.8 220.3 384.1 223.4 384.3 220.9 384.6 225 384.9 227.2 385.1 224.4 385.4 227 385.7 221.9 385.9 222.2 386.2 224.4 386.5 224.6 386.7 224.8 387 213.2 387.3 221.4 387.5 226.5 387.8 225.8 388 220.1 388.3 224.1 388.6 224.6 388.8 225.4 389.1 223.1 389.4 221.4 389.6 220.8 389.9 233.1 390.2 232.2 390.4 241.3 390.7 222.8 391 217.3 391.2 215 391.5 221.5 391.8 216.9 392 223 392.3 224.8 392.6 233.6 392.8 230.9 393.1 229.2 393.4 219.9 393.6 213.6 393.9 225 394.2 222.3 394.4 222.3 394.7 228.6 395 235.4 395.2 231 395.5 234.2 395.8 228.1 396 225.8 396.3 225.5 396.5 225.4 396.8 221.4 397.1 229 397.3 219.6 397.6 232.9 397.9 225.1 398.1 221.6 398.4 227.8 398.7 233.8 398.9 221.6 399.2 226.9 399.5 219.2 399.7 217.6 400 221.8 400.3 222.6 400.5 216.7 400.8 219.1 401.1 227.2 401.3 222.2 401.6 218.8 401.9 220.1 402.1 220.4 402.4 222.3 402.7 222.4 402.9 227.2 403.2 231 403.5 216.5 403.7 223.9 404 220.2 404.3 229.6 404.5 221.5 404.8 225.6 405.1 203.8 405.3 223 405.6 226.5 405.8 215.7 406.1 212.3 406.4 230.8 406.6 220.4 406.9 214.6 407.2 225.8 407.4 216.6 407.7 221.9 408 225.7 408.2 222.5 408.5 222.5 408.8 227.9 409 207.5 409.3 219.3 409.6 223.3 409.8 214.6 410.1 218.3 410.4 210.7 410.6 218.6 410.9 216.5 411.2 217.6 411.4 217.4 411.7 219.6 412 219.4 412.2 208.8 412.5 220.6 412.8 222.2 413 221.3 413.3 215.8 413.6 215.7 413.8 212.5 414.1 225.4 414.3 218.5 414.6 219.7 414.9 220.6 415.1 218.2 415.4 230.3 415.7 219.5 415.9 218.1 416.2 227.2 416.5 221.1 416.7 210.2 417 219.5 417.3 215.6 417.5 219.7 417.8 224 418.1 225.5 418.3 222.8 418.6 212.2 418.9 213 419.1 222.2 419.4 214 419.7 219.1 419.9 223.4 420.2 217.7 420.5 224.5 420.7 229.8 421 214 421.3 229.3 421.5 218.4 421.8 228.5 422.1 221.7 422.3 221.4 422.6 222.7 422.8 233.4 423.1 223.3 423.4 220.8 423.6 225.5 423.9 221.5 424.2 214.5 424.4 223.2 424.7 219.3 425 226.8 425.2 219.3 425.5 216.3 425.8 204.9 426 211.9 426.3 216.1 426.6 211.2 426.8 224.4 427.1 214.9 427.4 222.5 427.6 224.5 427.9 214.8 428.2 217.9 428.4 212.2 428.7 227.3 429 220.2 429.2 223.5 429.5 222.7 429.8 232.1 430 217.3 430.3 218.6 430.6 225.9 430.8 229.4 431.1 227.3 431.3 213.6 431.6 219.6 431.9 222.2 432.1 217.9 432.4 219.8 432.7 218.9 432.9 215.7 433.2 217.5 433.5 214.6 433.7 226.2 434 221.1 434.3 222.5 434.5 220.1 434.8 220.4 435.1 224 435.3 223 435.6 215.2 435.9 222.4 436.1 227.8 436.4 218.1 436.7 214 436.9 220.4 437.2 219.3 437.5 224.7 437.7 222.1 438 213.9 438.3 214 438.5 217.8 438.8 221 439.1 229.5 439.3 219.8 439.6 217 439.9 213 440.1 206.5 440.4 214.8 440.6 213 440.9 224.7 441.2 213.5 441.4 213.2 441.7 210.2 442 213.5 442.2 215.5 442.5 209.9 442.8 221.2 443 215.8 443.3 212.1 443.6 222.2 443.8 226.3 444.1 217.9 444.4 218 444.6 215.1 444.9 214.3 445.2 222.3 445.4 217.4 445.7 211.8 446 219.3 446.2 220.3 446.5 225.3 446.8 215 447 206.3 447.3 223.8" stroke="#e8aa6e" stroke-width="0.9" fill="none" stroke-linejoin="round" opacity="0.15"/>
<path d="M270.1 226.2 270.4 220.7 270.6 228.1 270.9 228.4 271.2 232.2 271.4 231.4 271.7 225.7 272 221.6 272.2 223.8 272.5 219.9 272.8 222.8 273 231.3 273.3 217.7 273.6 216.4 273.8 227.1 274.1 214.7 274.4 219.8 274.6 222.6 274.9 212.8 275.1 236.3 275.4 235.8 275.7 222.2 275.9 224.9 276.2 229.4 276.5 216 276.7 219.2 277 230 277.3 228.5 277.5 219.4 277.8 212 278.1 232.5 278.3 223.4 278.6 225.2 278.9 233.4 279.1 225.8 279.4 232.5 279.7 227.6 279.9 214.1 280.2 217.7 280.5 216.8 280.7 217.6 281 219.1 281.3 215.8 281.5 227.4 281.8 225 282.1 217.4 282.3 225 282.6 224.8 282.9 215.1 283.1 211.2 283.4 222.8 283.6 226.2 283.9 218.8 284.2 219 284.4 224.5 284.7 218.1 285 217 285.2 219.5 285.5 203.3 285.8 209.2 286 213.5 286.3 213.1 286.6 201.7 286.8 210.2 287.1 222.3 287.4 218.7 287.6 219.3 287.9 223.1 288.2 219 288.4 218.2 288.7 219.7 289 222.5 289.2 215.4 289.5 227.9 289.8 216.3 290 218.7 290.3 217.6 290.6 232.7 290.8 212.1 291.1 227.7 291.4 225.7 291.6 216.5 291.9 221.9 292.1 221.7 292.4 232.2 292.7 223.8 292.9 218.3 293.2 214.4 293.5 219.2 293.7 217.2 294 215.4 294.3 221.5 294.5 223.1 294.8 207.5 295.1 220.7 295.3 211.2 295.6 216 295.9 208.7 296.1 219.5 296.4 214.9 296.7 215 296.9 218.2 297.2 215.6 297.5 221.4 297.7 218.4 298 219.7 298.3 213.1 298.5 216.7 298.8 225 299.1 220.6 299.3 218.1 299.6 222.3 299.9 210 300.1 212.9 300.4 210.9 300.6 219.8 300.9 219.5 301.2 211.1 301.4 223.7 301.7 215.7 302 215.6 302.2 219.1 302.5 216.3 302.8 222.5 303 216.1 303.3 223.2 303.6 225 303.8 209.7 304.1 218.9 304.4 229 304.6 213 304.9 219.9 305.2 237.4 305.4 220.7 305.7 211.6 306 213.1 306.2 205.4 306.5 214.7 306.8 212.4 307 221.3 307.3 216.3 307.6 207.4 307.8 211.7 308.1 214.6 308.4 227.8 308.6 221.1 308.9 225.2 309.2 214 309.4 220.8 309.7 215.8 309.9 222.8 310.2 207.5 310.5 222.4 310.7 217.8 311 202.5 311.3 213.7 311.5 222.4 311.8 215.5 312.1 212.1 312.3 212.3 312.6 229 312.9 219.7 313.1 231.7 313.4 210.7 313.7 217.3 313.9 221.9 314.2 216.3 314.5 216.4 314.7 226.4 315 212.1 315.3 220.3 315.5 231 315.8 214.7 316.1 210.8 316.3 211.8 316.6 216.3 316.9 225.7 317.1 217 317.4 210 317.7 214.8 317.9 211.3 318.2 224.7 318.4 216.9 318.7 216 319 230.1 319.2 233.9 319.5 229.4 319.8 223.9 320 220.7 320.3 224.1 320.6 223.9 320.8 224.2 321.1 223.1 321.4 220.1 321.6 220 321.9 223.3 322.2 222.1 322.4 226.1 322.7 219.6 323 225.9 323.2 214.6 323.5 222.1 323.8 221.8 324 227.9 324.3 226.6 324.6 223.4 324.8 223.6 325.1 227.4 325.4 231.3 325.6 225 325.9 223 326.2 220.3 326.4 215.6 326.7 223.8 326.9 235.4 327.2 226.8 327.5 235.1 327.7 233.4 328 219.3 328.3 219.2 328.5 226.4 328.8 227.7 329.1 224.7 329.3 233.9 329.6 222.5 329.9 225.1 330.1 212.6 330.4 227.3 330.7 217.9 330.9 226 331.2 217.5 331.5 227.6 331.7 219.5 332 224.8 332.3 228 332.5 224.7 332.8 220.3 333.1 219.8 333.3 212.7 333.6 215.7 333.9 236.8 334.1 227.7 334.4 235.3 334.7 227.2 334.9 219.6 335.2 229.7 335.4 230.7 335.7 223.1 336 224.1 336.2 213.2 336.5 218.4 336.8 218.2 337 210.9 337.3 222.8 337.6 222.2 337.8 227.9 338.1 221.6 338.4 215.7 338.6 212.6 338.9 220.2 339.2 225.8 339.4 227.2 339.7 231.2 340 223 340.2 214 340.5 234.3 340.8 237.2 341 216.6 341.3 230.3 341.6 221.6 341.8 229.2 342.1 218.7 342.4 216.6 342.6 219.8 342.9 216.6 343.2 220.6 343.4 218.4 343.7 210.5 344 213.3 344.2 224.3 344.5 227.4 344.7 224.7 345 224.1 345.3 222.3 345.5 226 345.8 219.3 346.1 221.7 346.3 220.3 346.6 222.2 346.9 219 347.1 229.2 347.4 214.8 347.7 219.3 347.9 219.7 348.2 218.9 348.5 216 348.7 217.5 349 220.8 349.3 224.1 349.5 233.5 349.8 224.4 350.1 225.8 350.3 226.1 350.6 210.1 350.9 232.3 351.1 225.4 351.4 217.2 351.7 217.2 351.9 215.5 352.2 230.2 352.5 231.4 352.7 222.3 353 225.9 353.2 214.8 353.5 221.4 353.8 223 354 221.9 354.3 226 354.6 224.5 354.8 229 355.1 226.2 355.4 228.3 355.6 224.3 355.9 233.5 356.2 235.9 356.4 224.7 356.7 223.9 357 230.9 357.2 227.9 357.5 232.2 357.8 214.7 358 232.6 358.3 216.8 358.6 228.7 358.8 223.6 359.1 226.7 359.4 228 359.6 220.4 359.9 219.6 360.2 225.9 360.4 230.8 360.7 214 361 214.6 361.2 222.2 361.5 226.2 361.7 223.4 362 224.1 362.3 217.5 362.5 228.9 362.8 225.3 363.1 229.2 363.3 217.5 363.6 212.1 363.9 222.2 364.1 220.3 364.4 214.7 364.7 223.6 364.9 229 365.2 218.3 365.5 219.2 365.7 223.5 366 214.3 366.3 219.6 366.5 232.5 366.8 222.3 367.1 222.6 367.3 211 367.6 219.8 367.9 222.5 368.1 219.1 368.4 219.5 368.7 229.2 368.9 222 369.2 223 369.5 212.8 369.7 204.7 370 223.9 370.3 226.7 370.5 226.4 370.8 225.1 371 224.9 371.3 220.4 371.6 213.2 371.8 225.8 372.1 229.7 372.4 232.1 372.6 215 372.9 210.1 373.2 226.1 373.4 229.8 373.7 219.9 374 212.1 374.2 211 374.5 215.5 374.8 213.5 375 215.1 375.3 220.6 375.6 207 375.8 215.6 376.1 223.9 376.4 221.7 376.6 227.6 376.9 219.4 377.2 211.4 377.4 223.8 377.7 212 378 203.8 378.2 212.4 378.5 223.2 378.8 223.5 379 220.4 379.3 225.4 379.5 226.2 379.8 220.4 380.1 218.8 380.3 213.7 380.6 223.4 380.9 207 381.1 208.6 381.4 209.8 381.7 219.2 381.9 206.9 382.2 216.7 382.5 205.8 382.7 208.1 383 220.2 383.3 219.9 383.5 206 383.8 208.4 384.1 215.7 384.3 215 384.6 214.9 384.9 220.6 385.1 218.3 385.4 220.6 385.7 219.6 385.9 214.1 386.2 221.4 386.5 212.9 386.7 214.8 387 211.3 387.3 209.8 387.5 207.3 387.8 210.5 388 210.7 388.3 216 388.6 212.5 388.8 220.6 389.1 218.3 389.4 211.9 389.6 215.4 389.9 213.1 390.2 221.5 390.4 208.8 390.7 217.8 391 213.8 391.2 215.5 391.5 210.1 391.8 216.9 392 221.9 392.3 228.3 392.6 220 392.8 223.7 393.1 214.1 393.4 206.8 393.6 227.2 393.9 225.7 394.2 215.8 394.4 208.4 394.7 212.4 395 213.1 395.2 212.2 395.5 211.7 395.8 205.2 396 210.1 396.3 222.2 396.5 220.1 396.8 215.6 397.1 220.9 397.3 218.7 397.6 219.9 397.9 221.3 398.1 213.3 398.4 218.3 398.7 223.5 398.9 222.4 399.2 217.8 399.5 204.6 399.7 213.1 400 207.5 400.3 212.4 400.5 229.3 400.8 217.7 401.1 222.8 401.3 227 401.6 226.2 401.9 209.1 402.1 225.9 402.4 223.6 402.7 212.6 402.9 213.5 403.2 228 403.5 221.4 403.7 222.6 404 221 404.3 215.2 404.5 222 404.8 222 405.1 211.4 405.3 229.2 405.6 224 405.8 218 406.1 227.2 406.4 225.4 406.6 229.3 406.9 221.3 407.2 224.5 407.4 216.7 407.7 213.9 408 219.2 408.2 222.9 408.5 219.9 408.8 220.5 409 228.4 409.3 216.3 409.6 219 409.8 216.2 410.1 228.5 410.4 217.6 410.6 208.1 410.9 215.2 411.2 229 411.4 222.8 411.7 222.2 412 220.4 412.2 222.7 412.5 218.8 412.8 223.8 413 220.5 413.3 225.4 413.6 221.6 413.8 215.4 414.1 223 414.3 217.5 414.6 225.6 414.9 224.1 415.1 222.9 415.4 213.7 415.7 223.8 415.9 213.8 416.2 227.8 416.5 222.7 416.7 215.1 417 214.8 417.3 224.8 417.5 228 417.8 215.9 418.1 226.2 418.3 217.1 418.6 221.7 418.9 219.5 419.1 204.9 419.4 206.4 419.7 210.9 419.9 225 420.2 217.4 420.5 217.4 420.7 218.2 421 209.5 421.3 226 421.5 217 421.8 216.2 422.1 221.1 422.3 207.1 422.6 222.2 422.8 217.3 423.1 215.8 423.4 229.1 423.6 227 423.9 223.7 424.2 212.4 424.4 209.1 424.7 210.4 425 212.7 425.2 227.7 425.5 216.1 425.8 218.1 426 208.2 426.3 205.1 426.6 199.1 426.8 207 427.1 207.8 427.4 219.1 427.6 214.6 427.9 221.6 428.2 210.1 428.4 220.3 428.7 216.5 429 219.3 429.2 217.8 429.5 211.9 429.8 216.9 430 213.1 430.3 219.8 430.6 206.6 430.8 216.3 431.1 208.3 431.3 199.9 431.6 225.8 431.9 222.3 432.1 216.9 432.4 207.5 432.7 215.7 432.9 212.1 433.2 218.1 433.5 211.5 433.7 221 434 210.5 434.3 231.6 434.5 229.2 434.8 206.3 435.1 211.8 435.3 219.3 435.6 202.2 435.9 205.7 436.1 206 436.4 215.5 436.7 211.2 436.9 211 437.2 224.2 437.5 213.2 437.7 215.8 438 207.5 438.3 205.8 438.5 217.3 438.8 219.4 439.1 215.1 439.3 211.5 439.6 217.4 439.9 216.8 440.1 212.4 440.4 212.7 440.6 208.4 440.9 213.2 441.2 221.1 441.4 228.1 441.7 214 442 218.2 442.2 219.2 442.5 219.2 442.8 227.1 443 221.6 443.3 234 443.6 223.3 443.8 224.2 444.1 207.9 444.4 213.3 444.6 218.5 444.9 217.4 445.2 213.8 445.4 222.3 445.7 220.9 446 221.5 446.2 204.5 446.5 215.9 446.8 230.8 447 217.1 447.3 203.6" stroke="#e8aa6e" stroke-width="0.9" fill="none" stroke-linejoin="round" opacity="0.15"/>
<path d="M269 225.6 272.7 221.7 276.7 219.1 280.5 216.4 284.8 213.8 288.7 212.5 292.6 211.8 296.5 211.6 300.7 212.5 304.6 213.8 308.7 214.6 312.6 216 316.5 217.2 320.2 217.8 324.1 218.1 328 218.3 332.1 218.3 335.8 218.1 340.1 217.2 344 216.8 347.8 216 351.9 215.8 355.6 216.4 359.2 216.8 363.1 217.4 367 216 370.9 215.2 374.8 214.8 378.7 215.4 382.6 215.4 386.5 215.6 390.4 215.4 394.2 215.4 398.1 216 402 217 405.9 217 409.8 217 413.7 218.9 417.6 218.9 421.5 218.9 425.4 217.8 429.3 216.8 433.2 216.8 437.1 214.6 441 214.6 444.9 215.2" stroke="#d99420" stroke-width="2.0" fill="none" stroke-linejoin="round" opacity="1.0"/>
<g stroke="#e0a030" fill="#f4d48a" stroke-width="1.4" opacity="1.0"><circle cx="269.04" cy="225.57" r="2.1"/><circle cx="272.69" cy="221.66" r="2.1"/><circle cx="276.65" cy="219.12" r="2.1"/><circle cx="280.55" cy="216.39" r="2.1"/><circle cx="284.8" cy="213.85" r="2.1"/><circle cx="288.7" cy="212.48" r="2.1"/><circle cx="292.59" cy="211.8" r="2.1"/><circle cx="296.49" cy="211.6" r="2.1"/><circle cx="300.74" cy="212.48" r="2.1"/><circle cx="304.63" cy="213.85" r="2.1"/><circle cx="308.71" cy="214.63" r="2.1"/><circle cx="312.6" cy="216" r="2.1"/><circle cx="316.5" cy="217.17" r="2.1"/><circle cx="320.22" cy="217.75" r="2.1"/><circle cx="324.12" cy="218.14" r="2.1"/><circle cx="328.01" cy="218.34" r="2.1"/><circle cx="332.09" cy="218.34" r="2.1"/><circle cx="335.8" cy="218.14" r="2.1"/><circle cx="340.05" cy="217.17" r="2.1"/><circle cx="343.95" cy="216.78" r="2.1"/><circle cx="347.85" cy="216" r="2.1"/><circle cx="351.92" cy="215.8" r="2.1"/><circle cx="355.64" cy="216.39" r="2.1"/><circle cx="359.18" cy="216.78" r="2.1"/><circle cx="363.08" cy="217.36" r="2.1"/><circle cx="366.97" cy="216" r="2.1"/><circle cx="370.87" cy="215.21" r="2.1"/><circle cx="374.77" cy="214.82" r="2.1"/><circle cx="378.66" cy="215.41" r="2.1"/><circle cx="382.56" cy="215.41" r="2.1"/><circle cx="386.45" cy="215.61" r="2.1"/><circle cx="390.35" cy="215.41" r="2.1"/><circle cx="394.25" cy="215.41" r="2.1"/><circle cx="398.14" cy="216" r="2.1"/><circle cx="402.04" cy="216.97" r="2.1"/><circle cx="405.94" cy="216.97" r="2.1"/><circle cx="409.83" cy="216.97" r="2.1"/><circle cx="413.73" cy="218.93" r="2.1"/><circle cx="417.62" cy="218.93" r="2.1"/><circle cx="421.52" cy="218.93" r="2.1"/><circle cx="425.42" cy="217.75" r="2.1"/><circle cx="429.31" cy="216.78" r="2.1"/><circle cx="433.21" cy="216.78" r="2.1"/><circle cx="437.11" cy="214.63" r="2.1"/><circle cx="441" cy="214.63" r="2.1"/><circle cx="444.9" cy="215.21" r="2.1"/></g>
</g>
<g clip-path="url(#F)">
<path d="M502 199.1 502.4 179.4 502.7 186.8 503.1 183.7 503.4 188.8 503.8 188.6 504.1 192.1 504.5 191.7 504.8 195.9 505.2 180.4 505.5 183.6 505.9 176.2 506.3 171.8 506.6 173.4 507 169.5 507.3 167.3 507.7 167.3 508 163.8 508.4 161.6 508.7 165.5 509.1 168.4 509.4 167.6 509.8 163 510.2 155.4 510.5 152.5 510.9 158.2 511.2 159.1 511.6 165.1 511.9 164.6 512.3 171 512.6 174.3 513 181 513.3 184.5 513.7 178.3 514 192.9 514.4 196.4 514.8 204.2 515.1 203.6 515.5 202.7 515.8 216.6 516.2 238.7 516.5 235.2 516.9 236.6 517.2 251.2 517.6 252.6 517.9 253.6 518.3 265.6 518.7 255.7 519 251.8 519.4 250.3 519.7 255.2 520.1 254.6 520.4 252.6 520.8 244.9 521.1 247.2 521.5 234.5 521.8 232.7 522.2 243 522.6 226.9 522.9 225.8 523.3 227.4 523.6 223.6 524 230.4 524.3 222.4 524.7 230.7 525 225.9 525.4 210.4 525.7 202.5 526.1 205.7 526.5 209 526.8 199.8 527.2 199.7 527.5 197.6 527.9 194 528.2 200.7 528.6 194.4 528.9 206.5 529.3 194.6 529.6 205.1 530 206 530.4 207.5 530.7 202.4 531.1 201.2 531.4 203.9 531.8 205.5 532.1 208 532.5 213.2 532.8 226.1 533.2 235.2 533.5 240.6 533.9 232.9 534.3 231.5 534.6 231.3 535 230.3 535.3 232.8 535.7 238.3 536 243.6 536.4 248 536.7 234.1 537.1 228.9 537.4 237.2 537.8 234.6 538.1 228.7 538.5 219.1 538.9 224.4 539.2 221.5 539.6 213.8 539.9 223.5 540.3 221.4 540.6 215.5 541 215.1 541.3 199.4 541.7 197.6 542 199.3 542.4 205.3 542.8 198.4 543.1 196.3 543.5 201.3 543.8 203.3 544.2 209.5 544.5 205.5 544.9 199.1 545.2 195.8 545.6 196.7 545.9 196.1 546.3 203.3 546.7 206.2 547 199.4 547.4 200.5 547.7 207.6 548.1 204.6 548.4 201.9 548.8 201.6 549.1 204.8 549.5 209.6 549.8 207.4 550.2 200.1 550.6 204.8 550.9 211.2 551.3 209.1 551.6 216.2 552 212 552.3 212.8 552.7 206.7 553 208.1 553.4 203.8 553.7 195.3 554.1 203.9 554.5 210.5 554.8 206.7 555.2 207.3 555.5 206 555.9 208.7 556.2 203.7 556.6 203.4 556.9 213.9 557.3 208.5 557.6 202.7 558 195.3 558.3 200.3 558.7 203.2 559.1 194.1 559.4 198.4 559.8 196.2 560.1 192.9 560.5 189.7 560.8 191.4 561.2 197.4 561.5 189 561.9 191.9 562.2 193.1 562.6 180.4 563 179.7 563.3 188.6 563.7 189 564 187.4 564.4 188.5 564.7 194.3 565.1 182.6 565.4 176.8 565.8 176.2 566.1 178.6 566.5 176 566.9 172.1 567.2 178.3 567.6 176.9 567.9 177 568.3 170.3 568.6 169 569 175.9 569.3 175.2 569.7 162.7 570 170.6 570.4 168.3 570.8 171.1 571.1 162.9 571.5 165.9 571.8 169.4 572.2 175.2 572.5 173.9 572.9 168.9 573.2 168.4 573.6 179.4 573.9 171.2 574.3 177.8 574.7 186.2 575 185.5 575.4 190.3 575.7 193.7 576.1 196.8 576.4 196.8 576.8 200 577.1 208.6 577.5 202.3 577.8 205.5 578.2 198.9 578.6 199.7 578.9 199.9 579.3 202.5 579.6 198.4 580 205 580.3 211.6 580.7 208.1 581 222.2 581.4 217.1 581.7 212.2 582.1 213.4 582.4 205.8 582.8 205.4 583.2 208.5 583.5 212.6 583.9 207.2 584.2 213.9 584.6 215.8 584.9 211 585.3 209.8 585.6 202.3 586 210.3 586.3 222.3 586.7 215.2 587.1 209.2 587.4 213.7 587.8 207.2 588.1 203.3 588.5 213.8 588.8 217.6 589.2 223.3 589.5 216.9 589.9 213.2 590.2 212.1 590.6 220.8 591 222.2 591.3 226.1 591.7 228.5 592 227.9 592.4 228.5 592.7 221.4 593.1 214.7 593.4 210.2 593.8 210.9 594.1 213.8 594.5 211.3 594.9 206.6 595.2 208.2 595.6 206.5 595.9 206.8 596.3 207.3 596.6 204.1 597 207.6 597.3 197.8 597.7 205.6 598 198.4 598.4 203.5 598.8 190.9 599.1 187.8 599.5 194.1 599.8 194.6 600.2 197.7 600.5 193.2 600.9 188.5 601.2 175.2 601.6 188.4 601.9 181.1 602.3 186.6 602.6 184.7 603 180.7 603.4 180.6 603.7 181.2 604.1 184.7 604.4 185.8 604.8 186.1 605.1 181.6 605.5 193.6 605.8 195 606.2 200.4 606.5 202.4 606.9 203.6 607.3 195.8 607.6 188.3 608 190.1 608.3 204.7 608.7 206.3 609 214.3 609.4 211.2 609.7 207 610.1 209.6 610.4 210.5 610.8 217.1 611.2 230 611.5 236.9 611.9 231.4 612.2 226.4 612.6 221.3 612.9 227.5 613.3 228.6 613.6 228.4 614 224.3 614.3 228.1 614.7 234.7 615.1 226.7 615.4 226.1 615.8 225.7 616.1 233.4 616.5 230.2 616.8 236.8 617.2 240.7 617.5 233.1 617.9 230.2 618.2 223.3 618.6 215.3 619 218.4 619.3 210.1 619.7 217.5 620 213.5 620.4 221.2 620.7 217.1 621.1 216.8 621.4 215.6 621.8 210.5 622.1 219.9 622.5 213.7 622.9 215 623.2 210.6 623.6 206.8 623.9 208.5 624.3 209 624.6 212.8 625 205.9 625.3 208.8 625.7 204.4 626 211.8 626.4 201.3 626.7 208.4 627.1 200.9 627.5 205.5 627.8 202.8 628.2 205 628.5 202.1 628.9 204.2 629.2 199 629.6 199.7 629.9 200.2 630.3 195.6 630.6 205.4 631 200.1 631.4 204 631.7 213.6 632.1 208.4 632.4 209.6 632.8 200.9 633.1 208 633.5 208.7 633.8 208.3 634.2 218.9 634.5 211.9 634.9 216.4 635.3 206.8 635.6 201.3 636 207.3 636.3 218 636.7 214.3 637 212.8 637.4 209.7 637.7 213.4 638.1 219.7 638.4 217.5 638.8 220.6 639.2 208.7 639.5 215.8 639.9 218.9 640.2 217.4 640.6 222.7 640.9 221.3 641.3 219.2 641.6 220.1 642 219.4 642.3 211.7 642.7 212.3 643.1 221.4 643.4 220.9 643.8 214.9 644.1 219.1 644.5 217.2 644.8 216.8 645.2 213.6 645.5 215.4 645.9 215.7 646.2 219.1 646.6 214.2 646.9 218 647.3 206 647.7 208.9 648 210.6 648.4 205.9 648.7 207.5 649.1 206.7 649.4 206.5 649.8 209 650.1 210.5 650.5 209.4 650.8 199.1 651.2 202.4 651.6 202.1 651.9 201.4 652.3 194.7 652.6 184.5 653 193.5 653.3 189.5 653.7 189 654 190.1 654.4 185.8 654.7 191.9 655.1 183.4 655.5 181.8 655.8 186.3 656.2 174.8 656.5 172.5 656.9 169.2 657.2 179.9 657.6 178.1 657.9 177.8 658.3 171.3 658.6 164.2 659 176.4 659.4 171.7 659.7 169.7 660.1 162.7 660.4 164.1 660.8 170.3 661.1 167.3 661.5 169.7 661.8 169 662.2 164.3 662.5 164.4 662.9 160.4 663.3 167.2 663.6 151.1 664 148.9 664.3 150.5 664.7 161 665 170 665.4 167.7 665.7 163.7 666.1 149.9 666.4 148.6 666.8 157.4 667.2 153.2 667.5 151.8 667.9 157.7 668.2 155 668.6 158.9 668.9 166.2 669.3 172.9 669.6 171.5 670 166.2 670.3 176.3 670.7 183 671 176.3 671.4 190.3 671.8 175.2 672.1 180.5 672.5 178.1 672.8 172.5 673.2 187.2 673.5 192.9 673.9 180.5 674.2 188.6 674.6 192.9 674.9 194.6 675.3 192.8 675.7 192.3 676 199.8 676.4 207.2 676.7 210.9 677.1 212.8 677.4 210.6 677.8 217.5 678.1 214.3 678.5 228.1 678.8 229.6 679.2 226.3" stroke="#6fcbe6" stroke-width="1.0" fill="none" stroke-linejoin="round" opacity="0.38"/>
<path d="M502 216.7 502.4 210.8 502.7 211.9 503.1 209.5 503.4 203.8 503.8 197.2 504.1 195.4 504.5 199 504.8 195.8 505.2 187 505.5 180.5 505.9 187.6 506.3 185 506.6 189.7 507 186 507.3 164 507.7 171.1 508 176.4 508.4 180.3 508.7 185.7 509.1 192.1 509.4 187 509.8 186.9 510.2 179.5 510.5 192.6 510.9 189.7 511.2 185.4 511.6 200.9 511.9 196.5 512.3 207 512.6 202.6 513 197.2 513.3 203.2 513.7 205.5 514 212.4 514.4 211.9 514.8 208.8 515.1 215.3 515.5 219.4 515.8 220 516.2 219.5 516.5 232.7 516.9 231.5 517.2 235.9 517.6 233.1 517.9 230.1 518.3 233.1 518.7 230.3 519 240.6 519.4 242.5 519.7 246.2 520.1 242.1 520.4 239.1 520.8 237.8 521.1 240.4 521.5 234.2 521.8 231.1 522.2 222.5 522.6 220.7 522.9 210.7 523.3 208.8 523.6 216.2 524 209.6 524.3 211.4 524.7 199.4 525 191 525.4 194.2 525.7 193.6 526.1 202.8 526.5 211.1 526.8 206.9 527.2 203.9 527.5 209.2 527.9 204.2 528.2 201.5 528.6 199.2 528.9 194.4 529.3 196.4 529.6 203.8 530 205.4 530.4 204.4 530.7 212.6 531.1 205.3 531.4 204.7 531.8 210.5 532.1 215.6 532.5 196.6 532.8 202.9 533.2 205.6 533.5 202.8 533.9 205.7 534.3 210.8 534.6 210.6 535 218.3 535.3 213.6 535.7 222.2 536 216.2 536.4 212.4 536.7 220.7 537.1 206.9 537.4 215.1 537.8 207.6 538.1 211.2 538.5 208.2 538.9 210.9 539.2 196 539.6 195.8 539.9 191.2 540.3 193.5 540.6 194.3 541 196.6 541.3 198.9 541.7 195.2 542 195 542.4 195.9 542.8 201.7 543.1 198.6 543.5 192.2 543.8 194.2 544.2 190.7 544.5 191.2 544.9 195.5 545.2 196.6 545.6 196.1 545.9 193.7 546.3 192.4 546.7 185.2 547 192.9 547.4 201.3 547.7 192 548.1 193.7 548.4 193.1 548.8 180.2 549.1 180.2 549.5 184.9 549.8 185.8 550.2 190.7 550.6 189.4 550.9 197 551.3 201.6 551.6 203 552 194.1 552.3 190.9 552.7 200.6 553 196.8 553.4 202.2 553.7 199.1 554.1 205 554.5 201.9 554.8 206.3 555.2 209.5 555.5 210 555.9 209.7 556.2 213.5 556.6 219.3 556.9 207.1 557.3 212 557.6 221.2 558 227.6 558.3 233.1 558.7 224.6 559.1 210.9 559.4 219.2 559.8 216.2 560.1 222 560.5 209.7 560.8 207.4 561.2 206.1 561.5 200 561.9 195.3 562.2 195.6 562.6 203.1 563 209.6 563.3 210.6 563.7 213.9 564 197.3 564.4 199.1 564.7 197.7 565.1 196.2 565.4 186.1 565.8 193.6 566.1 188 566.5 189.3 566.9 191.7 567.2 201 567.6 190.9 567.9 194.2 568.3 194.1 568.6 190.4 569 189.2 569.3 183.6 569.7 189.8 570 188.5 570.4 187.5 570.8 188.5 571.1 186 571.5 189.7 571.8 184.6 572.2 192.1 572.5 199.6 572.9 196.5 573.2 189.6 573.6 195.4 573.9 199.2 574.3 200.1 574.7 198.6 575 200.2 575.4 199.2 575.7 209.3 576.1 198.7 576.4 199 576.8 206.9 577.1 200 577.5 202.1 577.8 198.5 578.2 210.5 578.6 202.4 578.9 207.1 579.3 220 579.6 212.4 580 214.4 580.3 219.1 580.7 217.4 581 225.3 581.4 216.5 581.7 216.4 582.1 216.6 582.4 208.4 582.8 211.4 583.2 216.1 583.5 219.5 583.9 216.5 584.2 209.5 584.6 214.3 584.9 218.5 585.3 210.5 585.6 211 586 211.4 586.3 201 586.7 212.3 587.1 210.2 587.4 218.7 587.8 215 588.1 208.7 588.5 203 588.8 211.9 589.2 205.2 589.5 202.2 589.9 205 590.2 193.3 590.6 199.8 591 206.8 591.3 203.2 591.7 212.6 592 199.7 592.4 196.4 592.7 201.5 593.1 198.5 593.4 197.3 593.8 189.7 594.1 198.5 594.5 205.6 594.9 212.2 595.2 206.4 595.6 209.9 595.9 204.4 596.3 198.9 596.6 200.5 597 203.5 597.3 194.2 597.7 196.8 598 195.8 598.4 191.7 598.8 200.9 599.1 203.2 599.5 187.4 599.8 193.4 600.2 200.5 600.5 200 600.9 201.5 601.2 205.7 601.6 203.7 601.9 201.2 602.3 200.3 602.6 197.5 603 207.8 603.4 211.6 603.7 202.5 604.1 204.9 604.4 198.2 604.8 200.1 605.1 209.8 605.5 205.1 605.8 211 606.2 207.9 606.5 202.2 606.9 195.8 607.3 204.1 607.6 204.5 608 207.1 608.3 206.3 608.7 222.8 609 220 609.4 215.8 609.7 213.4 610.1 218.8 610.4 213.7 610.8 210.4 611.2 214.3 611.5 217.8 611.9 220.3 612.2 219.1 612.6 213.7 612.9 209.8 613.3 217.8 613.6 223.8 614 225.8 614.3 217.9 614.7 218 615.1 217.5 615.4 216.2 615.8 215.9 616.1 217.9 616.5 222.9 616.8 222.7 617.2 218.6 617.5 214.9 617.9 216.5 618.2 216.9 618.6 207.8 619 212.1 619.3 210 619.7 211.1 620 213.6 620.4 217.3 620.7 213.4 621.1 212.4 621.4 203.1 621.8 208 622.1 205.8 622.5 199 622.9 198.9 623.2 195.2 623.6 191.2 623.9 200.9 624.3 198.5 624.6 199.5 625 188 625.3 189.4 625.7 186.5 626 178.7 626.4 184.7 626.7 184.9 627.1 182.8 627.5 184.8 627.8 177.9 628.2 176.6 628.5 174.8 628.9 178.4 629.2 181.8 629.6 183.2 629.9 183.9 630.3 190.4 630.6 183.5 631 178.4 631.4 180.2 631.7 183.6 632.1 182.7 632.4 181.7 632.8 181 633.1 173.9 633.5 184 633.8 183 634.2 181.4 634.5 184.1 634.9 187.4 635.3 193.2 635.6 194.2 636 188.9 636.3 183.5 636.7 191.8 637 190.7 637.4 190.6 637.7 188.8 638.1 192.2 638.4 193.5 638.8 192.5 639.2 202.6 639.5 201.9 639.9 211 640.2 216.6 640.6 214.2 640.9 217.2 641.3 209.2 641.6 203.7 642 208.1 642.3 209.8 642.7 211.5 643.1 212.8 643.4 211.9 643.8 210.9 644.1 214.8 644.5 218.5 644.8 219.4 645.2 213.8 645.5 217.7 645.9 210.9 646.2 216.5 646.6 211.7 646.9 222.4 647.3 225.3 647.7 221.4 648 220.1 648.4 223.1 648.7 214.4 649.1 220.4 649.4 222.5 649.8 228.1 650.1 220.3 650.5 221.1 650.8 224.1 651.2 235.7 651.6 231.7 651.9 234.3 652.3 231.7 652.6 228.4 653 235.2 653.3 234 653.7 230.5 654 232.7 654.4 236.2 654.7 241.6 655.1 242.3 655.5 245.7 655.8 236.5 656.2 236.7 656.5 243.2 656.9 240.4 657.2 245.3 657.6 257 657.9 240.3 658.3 232.5 658.6 241 659 240.4 659.4 234.9 659.7 234.2 660.1 235.1 660.4 232.7 660.8 229.2 661.1 227.8 661.5 222.2 661.8 220.5 662.2 221 662.5 216.1 662.9 220.7 663.3 206.6 663.6 214.3 664 208.7 664.3 203 664.7 199.1 665 197.2 665.4 190.7 665.7 198.5 666.1 196.4 666.4 194 666.8 195.8 667.2 197 667.5 188.6 667.9 194.5 668.2 196 668.6 195.9 668.9 195.6 669.3 193.7 669.6 194.8 670 192.7 670.3 193.1 670.7 191.8 671 187.3 671.4 196.1 671.8 188.4 672.1 195.4 672.5 193.6 672.8 195.6 673.2 199.1 673.5 209.2 673.9 197.2 674.2 203.6 674.6 207.3 674.9 200.8 675.3 203.3 675.7 196.5 676 195.2 676.4 200.2 676.7 205.5 677.1 206.4 677.4 217.7 677.8 216.8 678.1 217.6 678.5 222 678.8 221.8 679.2 231.2" stroke="#6fcbe6" stroke-width="1.0" fill="none" stroke-linejoin="round" opacity="0.38"/>
<path d="M502 197.2 502.4 189.6 502.7 198.3 503.1 194.7 503.4 185.9 503.8 187 504.1 194.3 504.5 197.2 504.8 189.2 505.2 180.7 505.5 190.9 505.9 190 506.3 193.4 506.6 192.5 507 189.2 507.3 189.4 507.7 192.6 508 180.5 508.4 186.3 508.7 189.5 509.1 185.2 509.4 189.4 509.8 193.1 510.2 190.1 510.5 199.4 510.9 196 511.2 194.2 511.6 196.3 511.9 202.5 512.3 205.6 512.6 216.6 513 214.9 513.3 213.2 513.7 210.6 514 214 514.4 219 514.8 224.2 515.1 223.4 515.5 222.7 515.8 217.5 516.2 221.3 516.5 225.6 516.9 225.5 517.2 227.1 517.6 226.3 517.9 235.2 518.3 235.8 518.7 233.7 519 224 519.4 221.8 519.7 218.9 520.1 212 520.4 218.9 520.8 210.5 521.1 209.6 521.5 213.7 521.8 204 522.2 212.9 522.6 214.6 522.9 210 523.3 204.1 523.6 203.5 524 211.9 524.3 205.9 524.7 201.4 525 185.9 525.4 183.9 525.7 188.5 526.1 195.9 526.5 191.8 526.8 196.8 527.2 192.1 527.5 188.9 527.9 191 528.2 188.7 528.6 190.6 528.9 192.7 529.3 183.7 529.6 184.7 530 190 530.4 195.1 530.7 193.5 531.1 191.6 531.4 190.1 531.8 187.2 532.1 191.6 532.5 202.1 532.8 192.4 533.2 193.1 533.5 195.9 533.9 195.5 534.3 209.7 534.6 211.5 535 213.6 535.3 206.9 535.7 215.9 536 216.2 536.4 207.8 536.7 208.4 537.1 213.8 537.4 205.2 537.8 216.8 538.1 213.2 538.5 214.7 538.9 211.6 539.2 213.7 539.6 217 539.9 213.1 540.3 218.3 540.6 211.3 541 211.8 541.3 205.5 541.7 208.8 542 210.9 542.4 206.1 542.8 199.4 543.1 211.8 543.5 206.3 543.8 200.8 544.2 207.7 544.5 207.7 544.9 199.8 545.2 203 545.6 203 545.9 191.2 546.3 198.3 546.7 200.8 547 208.7 547.4 206 547.7 205.2 548.1 190.5 548.4 186.1 548.8 196.1 549.1 184.9 549.5 185.7 549.8 190.8 550.2 188.4 550.6 189.5 550.9 195.7 551.3 203.5 551.6 203.1 552 198.8 552.3 198.8 552.7 200.9 553 193.8 553.4 200.8 553.7 194.8 554.1 199.1 554.5 198.5 554.8 204.5 555.2 202.2 555.5 205.2 555.9 211.6 556.2 206.5 556.6 204.7 556.9 200 557.3 200.8 557.6 207.8 558 209.4 558.3 219.4 558.7 217.6 559.1 205.4 559.4 199.1 559.8 200.2 560.1 203.1 560.5 203.3 560.8 204 561.2 215.3 561.5 216.4 561.9 207 562.2 203.1 562.6 206 563 210.2 563.3 212.6 563.7 214.6 564 217.6 564.4 223.9 564.7 216.9 565.1 216.8 565.4 215.8 565.8 206.2 566.1 207.5 566.5 214.5 566.9 211.6 567.2 220.6 567.6 212.4 567.9 212.7 568.3 215.2 568.6 212.7 569 207.5 569.3 214.6 569.7 220.4 570 208.1 570.4 212.9 570.8 208 571.1 216.4 571.5 215.2 571.8 219.7 572.2 215.6 572.5 218.3 572.9 221.5 573.2 212.2 573.6 213.9 573.9 226.3 574.3 223.2 574.7 225.1 575 227.5 575.4 225.5 575.7 224 576.1 220.9 576.4 223.4 576.8 229.6 577.1 225.8 577.5 216.9 577.8 223.6 578.2 216.7 578.6 214.1 578.9 217 579.3 214.2 579.6 217.7 580 217.2 580.3 219.5 580.7 212.9 581 205.1 581.4 211 581.7 204.1 582.1 216.7 582.4 215.8 582.8 215.5 583.2 201.5 583.5 206 583.9 200.9 584.2 211.8 584.6 205.7 584.9 200.3 585.3 200.4 585.6 213.1 586 204.2 586.3 196.7 586.7 190.4 587.1 191.8 587.4 202.2 587.8 199.4 588.1 192.4 588.5 197.5 588.8 192.8 589.2 195.6 589.5 193.9 589.9 189.9 590.2 195.2 590.6 180.1 591 186.6 591.3 188.7 591.7 195.1 592 194.2 592.4 195.5 592.7 202.2 593.1 205.8 593.4 198.7 593.8 197.6 594.1 209.9 594.5 213.4 594.9 206.2 595.2 202.2 595.6 197.4 595.9 204.7 596.3 199.3 596.6 201.7 597 204.2 597.3 203.8 597.7 198.6 598 198.7 598.4 197.5 598.8 205.1 599.1 206.9 599.5 212.4 599.8 212.2 600.2 211.7 600.5 212.2 600.9 206.9 601.2 206.3 601.6 204.6 601.9 207.3 602.3 204.1 602.6 207.6 603 205.2 603.4 206.5 603.7 206.1 604.1 210 604.4 217.6 604.8 222.1 605.1 207.4 605.5 208.5 605.8 208.6 606.2 211.6 606.5 214.3 606.9 199 607.3 211.5 607.6 211.8 608 211.7 608.3 216.7 608.7 219.4 609 217.5 609.4 214.6 609.7 213.8 610.1 206.7 610.4 212.9 610.8 207.7 611.2 199.7 611.5 198.6 611.9 207.8 612.2 220.5 612.6 207.2 612.9 202.5 613.3 205.4 613.6 197.2 614 201.5 614.3 200.5 614.7 205.4 615.1 200.6 615.4 201.9 615.8 202.5 616.1 194.7 616.5 195.2 616.8 203.6 617.2 196.4 617.5 192.3 617.9 198.4 618.2 198.9 618.6 196.8 619 197.2 619.3 195.5 619.7 192.2 620 196.2 620.4 185.5 620.7 194.4 621.1 197.7 621.4 187 621.8 180.4 622.1 189.1 622.5 194.4 622.9 201.4 623.2 193.9 623.6 195.6 623.9 201.8 624.3 198.7 624.6 193 625 194.1 625.3 187.6 625.7 190.2 626 195.3 626.4 200.3 626.7 200.2 627.1 197.2 627.5 198.1 627.8 198 628.2 202.4 628.5 202.1 628.9 200.2 629.2 206.6 629.6 215.4 629.9 204.8 630.3 206.1 630.6 212 631 211.7 631.4 214.2 631.7 222.8 632.1 219.5 632.4 224.3 632.8 218.6 633.1 217.8 633.5 211.5 633.8 214.9 634.2 214.1 634.5 217 634.9 218.7 635.3 224.5 635.6 215.2 636 214.9 636.3 218.2 636.7 215.6 637 217.2 637.4 219.1 637.7 214.9 638.1 207.8 638.4 211.6 638.8 218.5 639.2 217.2 639.5 204.2 639.9 210.7 640.2 203.4 640.6 206.5 640.9 202.6 641.3 204.5 641.6 212 642 209.1 642.3 194.9 642.7 198.9 643.1 196.8 643.4 199.8 643.8 199.6 644.1 196.7 644.5 194.2 644.8 184 645.2 190 645.5 193 645.9 196.4 646.2 200.7 646.6 203.7 646.9 193.6 647.3 201.2 647.7 188.3 648 185 648.4 189 648.7 194.9 649.1 191.7 649.4 190.3 649.8 184.2 650.1 190.7 650.5 192 650.8 191.1 651.2 192 651.6 194.3 651.9 201 652.3 203.9 652.6 200.8 653 197.5 653.3 190.4 653.7 181.1 654 180.2 654.4 186.7 654.7 182.8 655.1 191.3 655.5 197.5 655.8 186.9 656.2 199.1 656.5 201.9 656.9 202.9 657.2 195.3 657.6 202.5 657.9 199.4 658.3 204.3 658.6 210.9 659 207.2 659.4 206.3 659.7 212.7 660.1 214.6 660.4 215.5 660.8 207.6 661.1 206.8 661.5 207.8 661.8 207.3 662.2 212.1 662.5 209.7 662.9 214.1 663.3 219.8 663.6 219.4 664 214.7 664.3 213.2 664.7 207.7 665 218.4 665.4 215.5 665.7 210.5 666.1 214.2 666.4 209 666.8 209 667.2 211.5 667.5 200.5 667.9 206.7 668.2 196.7 668.6 197.9 668.9 199.9 669.3 199.3 669.6 197.2 670 195.8 670.3 188.6 670.7 194.9 671 181.6 671.4 176.9 671.8 171.4 672.1 180.1 672.5 190.2 672.8 186.2 673.2 182.2 673.5 178.2 673.9 180.6 674.2 179.8 674.6 178.6 674.9 186.8 675.3 174.6 675.7 184 676 182 676.4 177.9 676.7 185.9 677.1 186.5 677.4 179.7 677.8 187.1 678.1 184.9 678.5 188.7 678.8 191.9 679.2 192.2" stroke="#6fcbe6" stroke-width="1.0" fill="none" stroke-linejoin="round" opacity="0.38"/>
<path d="M502 208.9 502.4 208.3 502.7 201.7 503.1 201.3 503.4 199.4 503.8 205.8 504.1 202.4 504.5 194.8 504.8 192.3 505.2 193.4 505.5 197.5 505.9 199.4 506.3 195 506.6 188.2 507 191.3 507.3 186.6 507.7 191.9 508 187.1 508.4 195.1 508.7 193.2 509.1 198.1 509.4 192.3 509.8 190.3 510.2 196.8 510.5 199.3 510.9 199.6 511.2 205.3 511.6 206 511.9 206.9 512.3 200.5 512.6 195.8 513 203.2 513.3 206.9 513.7 207.3 514 212 514.4 214.1 514.8 211 515.1 213.5 515.5 217.2 515.8 222.1 516.2 215.8 516.5 223.6 516.9 224.6 517.2 231.2 517.6 232.8 517.9 230.9 518.3 232.9 518.7 229.8 519 230.8 519.4 238.2 519.7 245.8 520.1 233.5 520.4 235 520.8 225.5 521.1 227.4 521.5 231.2 521.8 225.8 522.2 226.3 522.6 224.2 522.9 226.5 523.3 219 523.6 212.3 524 215.6 524.3 205 524.7 210 525 207.1 525.4 213.4 525.7 216.3 526.1 197.6 526.5 191.2 526.8 188.6 527.2 199.7 527.5 194.7 527.9 190.8 528.2 189.9 528.6 187.9 528.9 192.2 529.3 190.3 529.6 193.9 530 191.8 530.4 187.7 530.7 191.5 531.1 191.2 531.4 192.2 531.8 191.2 532.1 187.1 532.5 189.2 532.8 190.1 533.2 200 533.5 200.2 533.9 195.7 534.3 202.4 534.6 204.4 535 208.7 535.3 200.8 535.7 206.6 536 211.4 536.4 208.1 536.7 205.3 537.1 207.6 537.4 207.2 537.8 211.3 538.1 215.3 538.5 219.1 538.9 221.6 539.2 223.5 539.6 220.1 539.9 221 540.3 220.4 540.6 217.6 541 219.4 541.3 226.1 541.7 226.2 542 227.5 542.4 231.5 542.8 223.5 543.1 225.6 543.5 226.5 543.8 225.5 544.2 215.5 544.5 216 544.9 209.6 545.2 211.3 545.6 213.2 545.9 208.8 546.3 206.1 546.7 206.7 547 211.8 547.4 210.8 547.7 213.3 548.1 209.6 548.4 205.9 548.8 197.2 549.1 193.3 549.5 194.6 549.8 193.5 550.2 196.2 550.6 185.2 550.9 185.9 551.3 180.8 551.6 189.1 552 192.6 552.3 191.2 552.7 194.7 553 195.9 553.4 202.6 553.7 196.7 554.1 198.1 554.5 195.7 554.8 199.7 555.2 209.1 555.5 202.9 555.9 197.3 556.2 206.6 556.6 209.6 556.9 208.2 557.3 207.6 557.6 214.5 558 201.7 558.3 199.8 558.7 206.9 559.1 216.1 559.4 210.3 559.8 200.4 560.1 201.7 560.5 201 560.8 210.8 561.2 209.9 561.5 217.9 561.9 205.4 562.2 206.5 562.6 219.7 563 224.5 563.3 215.8 563.7 213.6 564 214.6 564.4 210.7 564.7 202.3 565.1 206.1 565.4 217.7 565.8 215 566.1 218.9 566.5 218 566.9 212 567.2 211.2 567.6 214.7 567.9 211 568.3 212.7 568.6 206.7 569 207.2 569.3 204 569.7 205.2 570 200.6 570.4 202.2 570.8 201.9 571.1 204 571.5 201.2 571.8 208.5 572.2 190.7 572.5 198 572.9 197.3 573.2 199.4 573.6 200.1 573.9 196 574.3 198.3 574.7 198.8 575 203.4 575.4 203.2 575.7 204.3 576.1 190.9 576.4 199.7 576.8 202.5 577.1 197.9 577.5 190.2 577.8 201.5 578.2 206.1 578.6 200.5 578.9 197.2 579.3 204.2 579.6 209.3 580 208 580.3 199.7 580.7 199.9 581 196.6 581.4 199.4 581.7 200.6 582.1 198.4 582.4 201.2 582.8 201.1 583.2 206.7 583.5 208.1 583.9 204 584.2 205.8 584.6 209.3 584.9 204.6 585.3 203.3 585.6 205.5 586 210.3 586.3 205 586.7 195.3 587.1 206.8 587.4 215.5 587.8 216 588.1 217.2 588.5 219.4 588.8 220.1 589.2 211 589.5 207 589.9 202.3 590.2 203.6 590.6 210 591 205.5 591.3 211.3 591.7 212.6 592 217 592.4 207.6 592.7 204.2 593.1 209.5 593.4 210.9 593.8 209.8 594.1 208.3 594.5 204.4 594.9 206 595.2 204.9 595.6 213.1 595.9 210.9 596.3 216.6 596.6 202.1 597 197.1 597.3 197.7 597.7 195.8 598 190.5 598.4 192.8 598.8 205.3 599.1 204.2 599.5 213.4 599.8 210 600.2 210.2 600.5 204.1 600.9 199.2 601.2 202.9 601.6 201.2 601.9 197.5 602.3 197.6 602.6 197.5 603 207.6 603.4 202.7 603.7 194.5 604.1 193 604.4 200.3 604.8 197.8 605.1 193.9 605.5 197.8 605.8 191.7 606.2 195.7 606.5 195.2 606.9 193.9 607.3 182.2 607.6 188.9 608 193.1 608.3 188.9 608.7 192.6 609 191.3 609.4 202.3 609.7 195.4 610.1 194 610.4 199.5 610.8 189.9 611.2 193.3 611.5 194.9 611.9 201.2 612.2 205.8 612.6 203.3 612.9 207 613.3 199.7 613.6 195 614 200.4 614.3 207.8 614.7 205.9 615.1 208.6 615.4 204.5 615.8 203.1 616.1 205.8 616.5 205.2 616.8 200.8 617.2 196.3 617.5 205.1 617.9 203.7 618.2 208.1 618.6 214.4 619 206.7 619.3 207.9 619.7 210 620 210.4 620.4 213.4 620.7 219.4 621.1 209.2 621.4 209.1 621.8 212.3 622.1 210.9 622.5 209 622.9 215.4 623.2 214.8 623.6 219.1 623.9 216.7 624.3 219.9 624.6 208.9 625 217.2 625.3 216.9 625.7 217 626 220.8 626.4 216.5 626.7 219.2 627.1 221.8 627.5 220.9 627.8 223.8 628.2 215.8 628.5 214.5 628.9 212 629.2 221.5 629.6 217.8 629.9 220.6 630.3 217.4 630.6 210 631 211 631.4 213 631.7 207.3 632.1 204.8 632.4 199.2 632.8 213.6 633.1 209.3 633.5 210.3 633.8 212.3 634.2 208.1 634.5 211.6 634.9 217.6 635.3 213.6 635.6 208.2 636 195.3 636.3 201 636.7 205.2 637 210.4 637.4 204.6 637.7 200.9 638.1 197 638.4 202.3 638.8 201 639.2 207 639.5 198 639.9 201.7 640.2 208.5 640.6 192.9 640.9 188.7 641.3 187.3 641.6 186.4 642 192.3 642.3 185 642.7 191.5 643.1 180.5 643.4 183.4 643.8 194.4 644.1 186.7 644.5 178.3 644.8 185.1 645.2 182.3 645.5 187.3 645.9 191.9 646.2 203.6 646.6 191.4 646.9 194.3 647.3 192.3 647.7 199.1 648 201.7 648.4 194 648.7 198.3 649.1 200.9 649.4 206.9 649.8 203.4 650.1 199.9 650.5 204.8 650.8 206.5 651.2 212.8 651.6 204.1 651.9 210.4 652.3 211.8 652.6 204.5 653 210.8 653.3 220.6 653.7 222.7 654 221.6 654.4 211.6 654.7 215 655.1 219.1 655.5 216.5 655.8 213.5 656.2 222.3 656.5 216.2 656.9 216.5 657.2 218.7 657.6 233.1 657.9 227.7 658.3 219.6 658.6 223.8 659 213.3 659.4 218.9 659.7 226.2 660.1 221.4 660.4 220.2 660.8 216.6 661.1 219.3 661.5 212.6 661.8 217.7 662.2 216 662.5 220.9 662.9 220.2 663.3 214.3 663.6 214.8 664 213.2 664.3 210.4 664.7 206.2 665 200.9 665.4 197.7 665.7 194.3 666.1 195.8 666.4 199.2 666.8 205 667.2 201 667.5 200.8 667.9 204.9 668.2 189.9 668.6 199.2 668.9 192.6 669.3 188.5 669.6 190.2 670 177.5 670.3 184 670.7 190.7 671 181.9 671.4 190.3 671.8 197.3 672.1 198.7 672.5 197.9 672.8 194.7 673.2 192.3 673.5 200.5 673.9 195.9 674.2 185.4 674.6 195.3 674.9 197.7 675.3 195.5 675.7 192.8 676 201.3 676.4 207.4 676.7 211.2 677.1 203.8 677.4 202.4 677.8 217.3 678.1 224.9 678.5 225.1 678.8 227.5 679.2 220.6" stroke="#6fcbe6" stroke-width="1.0" fill="none" stroke-linejoin="round" opacity="0.38"/>
<path d="M502 203 502.4 191.7 502.7 191 503.1 192.8 503.4 187.5 503.8 194 504.1 198.5 504.5 192.9 504.8 185.5 505.2 193.8 505.5 185.2 505.9 181.3 506.3 185.9 506.6 185 507 186.9 507.3 186.3 507.7 183.1 508 189.7 508.4 184.6 508.7 183.7 509.1 183.8 509.4 198.3 509.8 205.1 510.2 196.8 510.5 200.1 510.9 202.9 511.2 205.4 511.6 210.2 511.9 208.2 512.3 210.2 512.6 211.7 513 207.7 513.3 214.7 513.7 207.5 514 220.9 514.4 205 514.8 216.8 515.1 213.3 515.5 210.6 515.8 214 516.2 212.1 516.5 215.3 516.9 224.6 517.2 218.6 517.6 212 517.9 216.8 518.3 224.2 518.7 221.9 519 216.1 519.4 213.2 519.7 207.6 520.1 207.3 520.4 206.8 520.8 218 521.1 202.4 521.5 205.2 521.8 202 522.2 205.7 522.6 205.9 522.9 204.3 523.3 195.9 523.6 191.8 524 193.6 524.3 187.4 524.7 195.5 525 194.3 525.4 197.9 525.7 190.8 526.1 193.2 526.5 189.5 526.8 183.9 527.2 199.3 527.5 185.8 527.9 188.5 528.2 192.7 528.6 202.2 528.9 198.9 529.3 207 529.6 199.5 530 197.5 530.4 187.4 530.7 193.4 531.1 189.7 531.4 188 531.8 183.3 532.1 192.7 532.5 192.5 532.8 203.8 533.2 207.4 533.5 205.5 533.9 203.9 534.3 209.4 534.6 208.5 535 203.2 535.3 206.9 535.7 207.5 536 211.8 536.4 203.3 536.7 197.9 537.1 203.4 537.4 207.8 537.8 201.6 538.1 204.7 538.5 211.9 538.9 218.6 539.2 218.1 539.6 204.7 539.9 212.1 540.3 198.7 540.6 206.5 541 210.9 541.3 205.5 541.7 210.4 542 209.4 542.4 215.6 542.8 219.1 543.1 218 543.5 212.6 543.8 214.2 544.2 220.8 544.5 211.8 544.9 210.5 545.2 210.1 545.6 211.2 545.9 219.2 546.3 204 546.7 206.8 547 202.9 547.4 196.6 547.7 194.8 548.1 198.1 548.4 200.2 548.8 199.5 549.1 196 549.5 195.8 549.8 200.4 550.2 198 550.6 197.1 550.9 195 551.3 196.3 551.6 191.3 552 194.6 552.3 192.8 552.7 196.1 553 200.6 553.4 204.5 553.7 202.5 554.1 198.4 554.5 193.1 554.8 197.4 555.2 201.5 555.5 203.4 555.9 195.8 556.2 198.2 556.6 202.4 556.9 198.5 557.3 206.8 557.6 203.8 558 203.4 558.3 203.9 558.7 209.2 559.1 201.5 559.4 194.9 559.8 206.5 560.1 205 560.5 202 560.8 193.1 561.2 202.1 561.5 208.9 561.9 207.6 562.2 197.5 562.6 202.4 563 203.9 563.3 197.4 563.7 213.4 564 220.9 564.4 209.6 564.7 205.3 565.1 213.8 565.4 208.5 565.8 208.5 566.1 207.7 566.5 212.2 566.9 212.6 567.2 214.8 567.6 211.3 567.9 211 568.3 201.7 568.6 202.5 569 213.3 569.3 208.6 569.7 201.5 570 203.7 570.4 200.8 570.8 204.7 571.1 202.8 571.5 209.7 571.8 204.4 572.2 212.3 572.5 202.9 572.9 211.9 573.2 218.8 573.6 209 573.9 207.8 574.3 205.7 574.7 203.2 575 204 575.4 208.3 575.7 204.9 576.1 202.5 576.4 200.6 576.8 192.4 577.1 201.6 577.5 201.7 577.8 199.3 578.2 202.9 578.6 207.9 578.9 207 579.3 198.7 579.6 201.2 580 198 580.3 202.8 580.7 199.3 581 202.9 581.4 205.3 581.7 201.7 582.1 200.3 582.4 192.8 582.8 204.2 583.2 199 583.5 191.4 583.9 189.1 584.2 196.5 584.6 201.2 584.9 202.4 585.3 199.2 585.6 198.3 586 197.2 586.3 195.5 586.7 202.8 587.1 206.4 587.4 208.6 587.8 210.2 588.1 205.1 588.5 200.8 588.8 188.4 589.2 192.5 589.5 196.9 589.9 192.2 590.2 200.6 590.6 199.3 591 195.8 591.3 195.3 591.7 197 592 201.5 592.4 207.9 592.7 205.7 593.1 207 593.4 201.6 593.8 203.2 594.1 200.7 594.5 210.2 594.9 202.2 595.2 207.5 595.6 213.4 595.9 215.3 596.3 212.7 596.6 203.3 597 201.1 597.3 209.3 597.7 207.1 598 207.2 598.4 214.3 598.8 214.9 599.1 220.3 599.5 217.2 599.8 224.5 600.2 219 600.5 217.3 600.9 215.9 601.2 215.5 601.6 205.9 601.9 208.9 602.3 207.5 602.6 204.5 603 202.4 603.4 202.6 603.7 208.7 604.1 214 604.4 214.9 604.8 213.9 605.1 211.1 605.5 210.3 605.8 204.3 606.2 207.3 606.5 199.5 606.9 199.6 607.3 206.8 607.6 203.6 608 220 608.3 206.9 608.7 205.5 609 204.9 609.4 214.4 609.7 198.5 610.1 204.5 610.4 206.5 610.8 201.2 611.2 205 611.5 209.8 611.9 204.5 612.2 210 612.6 203.9 612.9 203.9 613.3 199 613.6 207.9 614 199.9 614.3 200.7 614.7 192.9 615.1 201.8 615.4 193.6 615.8 195.3 616.1 195.4 616.5 202.6 616.8 199.5 617.2 197.4 617.5 203.5 617.9 207.7 618.2 207.5 618.6 196.6 619 197.8 619.3 194.5 619.7 195.9 620 197.3 620.4 197.2 620.7 200.1 621.1 193.5 621.4 195.4 621.8 195.9 622.1 203.8 622.5 199.1 622.9 201.6 623.2 201.8 623.6 194.5 623.9 201.3 624.3 200.1 624.6 195.5 625 191 625.3 196.9 625.7 195.5 626 195.1 626.4 201.6 626.7 209.4 627.1 212 627.5 201.1 627.8 198.6 628.2 204.4 628.5 203.7 628.9 202.3 629.2 201.6 629.6 199.8 629.9 188.3 630.3 197.6 630.6 197.4 631 201.8 631.4 203.2 631.7 205.1 632.1 203 632.4 203.7 632.8 199.8 633.1 198.8 633.5 203.8 633.8 192.8 634.2 202.7 634.5 200 634.9 190.2 635.3 199.8 635.6 194.4 636 191.7 636.3 195.8 636.7 208.3 637 198.4 637.4 200.4 637.7 204.6 638.1 197.8 638.4 204.5 638.8 199.1 639.2 204.6 639.5 202 639.9 208.6 640.2 208.5 640.6 211.1 640.9 211.4 641.3 207.4 641.6 207.4 642 205.9 642.3 200 642.7 204.2 643.1 214.6 643.4 211.8 643.8 208.9 644.1 203.2 644.5 200.7 644.8 200.1 645.2 205.5 645.5 203.8 645.9 213.1 646.2 204.3 646.6 204.5 646.9 204.3 647.3 208.5 647.7 208.4 648 211.8 648.4 207.5 648.7 214.6 649.1 206.8 649.4 205.4 649.8 197.7 650.1 204 650.5 207.2 650.8 207.2 651.2 208 651.6 209 651.9 214.2 652.3 216.6 652.6 215 653 213 653.3 216.4 653.7 217.8 654 214.2 654.4 207.7 654.7 209.2 655.1 205.7 655.5 202.7 655.8 202.4 656.2 207.9 656.5 210.2 656.9 218.3 657.2 216.2 657.6 209.8 657.9 214.3 658.3 204.6 658.6 199.9 659 206.3 659.4 203.1 659.7 212.7 660.1 215.3 660.4 213.2 660.8 210.4 661.1 210 661.5 213.1 661.8 200.9 662.2 203.4 662.5 204.5 662.9 203.1 663.3 204.8 663.6 207.5 664 210.2 664.3 216.5 664.7 204.4 665 210.4 665.4 216.6 665.7 215.3 666.1 218.4 666.4 202.6 666.8 203.2 667.2 198.4 667.5 196 667.9 199.1 668.2 200.4 668.6 207.1 668.9 207 669.3 209.4 669.6 207.3 670 209.8 670.3 201.5 670.7 200 671 203.5 671.4 212.4 671.8 205.1 672.1 200.8 672.5 203.3 672.8 210 673.2 204.9 673.5 199.5 673.9 211.2 674.2 204.5 674.6 212.7 674.9 207.3 675.3 196.8 675.7 199.8 676 199.2 676.4 202.7 676.7 202.6 677.1 191.2 677.4 190.8 677.8 198.4 678.1 202 678.5 201.6 678.8 190.9 679.2 195.4" stroke="#6fcbe6" stroke-width="1.0" fill="none" stroke-linejoin="round" opacity="0.38"/>
<path d="M502 210.9 502.4 211.4 502.7 215.4 503.1 203.8 503.4 204.8 503.8 208.1 504.1 208.6 504.5 208.1 504.8 207.1 505.2 210.8 505.5 198.5 505.9 196.7 506.3 192.7 506.6 197.1 507 195.5 507.3 195.6 507.7 190.6 508 190.2 508.4 192.4 508.7 198.4 509.1 204.1 509.4 204.9 509.8 204.7 510.2 204.4 510.5 208.1 510.9 195.9 511.2 197.7 511.6 210.1 511.9 211.6 512.3 213.9 512.6 207.7 513 201.3 513.3 209 513.7 205.1 514 208.2 514.4 203.1 514.8 200.2 515.1 204.5 515.5 204.9 515.8 209 516.2 213.1 516.5 219.2 516.9 215 517.2 215.3 517.6 217.3 517.9 216.9 518.3 217.5 518.7 222.1 519 221.7 519.4 213.4 519.7 216.4 520.1 209.7 520.4 219.1 520.8 224.1 521.1 218.9 521.5 213.2 521.8 217.3 522.2 212.6 522.6 208.7 522.9 205.8 523.3 210 523.6 211.2 524 219.1 524.3 214.1 524.7 210.1 525 202.4 525.4 211.6 525.7 213.2 526.1 214.3 526.5 205 526.8 217.2 527.2 215.2 527.5 198.6 527.9 197.6 528.2 206.5 528.6 204 528.9 198.1 529.3 196.7 529.6 199.6 530 203.5 530.4 197.1 530.7 198.3 531.1 194.8 531.4 195.2 531.8 199.7 532.1 192.4 532.5 198.7 532.8 197.1 533.2 201.7 533.5 201.9 533.9 202.3 534.3 204.6 534.6 201.5 535 195.1 535.3 189.7 535.7 189.6 536 197.6 536.4 193.5 536.7 197 537.1 192 537.4 205 537.8 197.7 538.1 204.8 538.5 199.6 538.9 205.5 539.2 201.6 539.6 205.9 539.9 215.8 540.3 216 540.6 212.7 541 210.1 541.3 220 541.7 219.6 542 217.2 542.4 213.6 542.8 210 543.1 213.4 543.5 218.3 543.8 211.7 544.2 211.7 544.5 205.8 544.9 209.9 545.2 206.1 545.6 211.7 545.9 208.6 546.3 207.9 546.7 205.8 547 211.5 547.4 210 547.7 212.8 548.1 210.6 548.4 205.7 548.8 191.9 549.1 199.9 549.5 200.1 549.8 203 550.2 199.2 550.6 200.6 550.9 198.3 551.3 200.5 551.6 191.4 552 192.2 552.3 207.3 552.7 204.3 553 203.9 553.4 214.7 553.7 212.9 554.1 210 554.5 209.9 554.8 205.5 555.2 212.8 555.5 203.6 555.9 199.3 556.2 199.2 556.6 202.4 556.9 202.2 557.3 204.2 557.6 197.3 558 197.2 558.3 189.9 558.7 198 559.1 192.7 559.4 200.2 559.8 201.5 560.1 206.3 560.5 200.9 560.8 201.3 561.2 198.1 561.5 192.5 561.9 197.5 562.2 197.7 562.6 195.3 563 199 563.3 203.1 563.7 200.6 564 198.9 564.4 196.9 564.7 195.8 565.1 202.7 565.4 200.5 565.8 195.9 566.1 202.1 566.5 201.1 566.9 205.5 567.2 203.8 567.6 195.7 567.9 199.7 568.3 207.2 568.6 204.3 569 203.9 569.3 199.5 569.7 209.7 570 212.2 570.4 209.5 570.8 215.5 571.1 205.4 571.5 216.3 571.8 215.6 572.2 218.5 572.5 216 572.9 208 573.2 205.5 573.6 202.9 573.9 203.5 574.3 216.6 574.7 211.3 575 219.4 575.4 216.7 575.7 215 576.1 215 576.4 210.1 576.8 214.3 577.1 203.9 577.5 204.8 577.8 202.4 578.2 203.3 578.6 203.1 578.9 207.6 579.3 199.8 579.6 210.9 580 208.5 580.3 209.6 580.7 211.1 581 209 581.4 213.2 581.7 207.1 582.1 204.7 582.4 206.7 582.8 204.5 583.2 211.9 583.5 218.8 583.9 215.8 584.2 212.6 584.6 197.8 584.9 204.1 585.3 200.7 585.6 199.9 586 193.2 586.3 199.6 586.7 199.7 587.1 203.7 587.4 208.5 587.8 211.2 588.1 211.1 588.5 200.2 588.8 200.6 589.2 202.7 589.5 202.7 589.9 205.3 590.2 203.7 590.6 202.9 591 199 591.3 195.8 591.7 206.6 592 202.2 592.4 194.6 592.7 202.6 593.1 202.4 593.4 200.2 593.8 194.6 594.1 194.4 594.5 198.2 594.9 196.3 595.2 192.9 595.6 194.4 595.9 188 596.3 192 596.6 200.9 597 203.7 597.3 201.8 597.7 201.4 598 197.2 598.4 196.7 598.8 189.9 599.1 191.3 599.5 188.8 599.8 198.6 600.2 201.4 600.5 197.4 600.9 198.6 601.2 196.6 601.6 197.7 601.9 202.5 602.3 193.5 602.6 192.3 603 204.9 603.4 206.2 603.7 203.8 604.1 199.7 604.4 201.6 604.8 208.8 605.1 201.6 605.5 203.4 605.8 197.6 606.2 199.5 606.5 197.1 606.9 196.9 607.3 196.7 607.6 203.5 608 199.2 608.3 201.4 608.7 209.5 609 209.1 609.4 208.7 609.7 204.8 610.1 202.1 610.4 209.6 610.8 204.2 611.2 205.7 611.5 211.1 611.9 204.6 612.2 209.3 612.6 213.6 612.9 206.2 613.3 202.1 613.6 207.9 614 202.2 614.3 199.9 614.7 206.1 615.1 196.8 615.4 202.5 615.8 203.7 616.1 216.8 616.5 208.1 616.8 210.1 617.2 205.9 617.5 214.4 617.9 204.3 618.2 198.3 618.6 193.4 619 214.5 619.3 206.8 619.7 204.5 620 219.6 620.4 215.3 620.7 210.2 621.1 200.5 621.4 207 621.8 204.8 622.1 205 622.5 202.9 622.9 205.6 623.2 200.5 623.6 197.8 623.9 207.7 624.3 200.1 624.6 205.6 625 205.7 625.3 198.9 625.7 200.7 626 199.2 626.4 197.4 626.7 197.4 627.1 202.8 627.5 207.1 627.8 201.1 628.2 198 628.5 198.4 628.9 201.2 629.2 197.3 629.6 199.8 629.9 207.3 630.3 202.7 630.6 199.4 631 196.7 631.4 203.4 631.7 205.7 632.1 201.4 632.4 203.3 632.8 202.2 633.1 196.9 633.5 197.1 633.8 190.2 634.2 194.5 634.5 189.6 634.9 190.5 635.3 183.8 635.6 193 636 197.6 636.3 193 636.7 199.8 637 202.6 637.4 200.5 637.7 199 638.1 206.9 638.4 202.6 638.8 203.5 639.2 202.6 639.5 201.3 639.9 202.6 640.2 197.2 640.6 197.7 640.9 201.3 641.3 201.7 641.6 197.4 642 196.8 642.3 194.4 642.7 200.1 643.1 201.5 643.4 193.3 643.8 199.5 644.1 194.2 644.5 196 644.8 203 645.2 211 645.5 204.9 645.9 208.8 646.2 210.7 646.6 216.5 646.9 205.3 647.3 205.6 647.7 206.2 648 204.9 648.4 205.1 648.7 206.1 649.1 204.6 649.4 207.8 649.8 220.4 650.1 210.3 650.5 207.3 650.8 208 651.2 200.9 651.6 212.1 651.9 224.4 652.3 209 652.6 207.3 653 216.4 653.3 214.7 653.7 209 654 215.3 654.4 209.7 654.7 199.7 655.1 198.7 655.5 205 655.8 206.2 656.2 212.8 656.5 210.6 656.9 211.8 657.2 215.5 657.6 218.9 657.9 204.7 658.3 207.1 658.6 213.6 659 213.5 659.4 204.4 659.7 199.6 660.1 208.2 660.4 208.1 660.8 204.8 661.1 209.2 661.5 215.1 661.8 216.8 662.2 212.8 662.5 214.8 662.9 218.1 663.3 214.5 663.6 207.3 664 205.2 664.3 208.6 664.7 199.9 665 208.8 665.4 209.4 665.7 215.8 666.1 208.4 666.4 209.4 666.8 217.2 667.2 216.6 667.5 203.7 667.9 203 668.2 205.6 668.6 203.1 668.9 213.7 669.3 214.7 669.6 217.5 670 216.4 670.3 213.6 670.7 208 671 203.1 671.4 201 671.8 191.8 672.1 202.8 672.5 205.4 672.8 204 673.2 209.7 673.5 209.6 673.9 206.1 674.2 210.6 674.6 206.1 674.9 200.4 675.3 208.9 675.7 218.3 676 211 676.4 213.1 676.7 208.1 677.1 208.7 677.4 205.2 677.8 199.6 678.1 198.5 678.5 203.5 678.8 209.5 679.2 218.4" stroke="#6fcbe6" stroke-width="1.0" fill="none" stroke-linejoin="round" opacity="0.38"/>
<path d="M502 201.1 502.4 203.2 502.7 198.7 503.1 200.1 503.4 199.7 503.8 204.2 504.1 205.9 504.5 206.6 504.8 194.1 505.2 201.8 505.5 190.9 505.9 194 506.3 187.5 506.6 185.9 507 182.3 507.3 178.2 507.7 186.6 508 191.3 508.4 190.5 508.7 191.8 509.1 184.8 509.4 185.6 509.8 185.4 510.2 183.1 510.5 186.8 510.9 180.1 511.2 192.9 511.6 188 511.9 185 512.3 191 512.6 194.2 513 188 513.3 192.7 513.7 204.3 514 207.6 514.4 197.8 514.8 204.5 515.1 197.1 515.5 194.6 515.8 203 516.2 203.9 516.5 212.7 516.9 215.4 517.2 219.1 517.6 214.7 517.9 223.4 518.3 221.8 518.7 220.6 519 217.9 519.4 230.8 519.7 234.8 520.1 231.6 520.4 226.5 520.8 221.9 521.1 219.2 521.5 207.8 521.8 209.4 522.2 209.9 522.6 215.1 522.9 210 523.3 207.5 523.6 205.7 524 208.2 524.3 204.6 524.7 197.3 525 205.5 525.4 215.5 525.7 203.4 526.1 197.5 526.5 199.1 526.8 200.1 527.2 182.8 527.5 191.3 527.9 198.4 528.2 197 528.6 190.5 528.9 192.9 529.3 192.3 529.6 187.9 530 189.5 530.4 186.9 530.7 186.5 531.1 191.6 531.4 187.8 531.8 192.8 532.1 184.3 532.5 190.8 532.8 190.6 533.2 199.5 533.5 197 533.9 201 534.3 189.2 534.6 193.4 535 192.9 535.3 205.7 535.7 209.8 536 207 536.4 213.1 536.7 203.6 537.1 208.5 537.4 208.6 537.8 208.8 538.1 212 538.5 209.2 538.9 216.2 539.2 214.3 539.6 209.3 539.9 212.5 540.3 214.4 540.6 217.5 541 216.8 541.3 213.1 541.7 216 542 224.7 542.4 218.6 542.8 217.3 543.1 213 543.5 213 543.8 204.6 544.2 214.9 544.5 217.9 544.9 210.3 545.2 215.2 545.6 209.8 545.9 208.6 546.3 217.8 546.7 207.6 547 198.8 547.4 200.4 547.7 209 548.1 200.8 548.4 206.2 548.8 203.3 549.1 198.6 549.5 202.3 549.8 208.2 550.2 202.3 550.6 198.7 550.9 200.8 551.3 201 551.6 192.7 552 193 552.3 194.8 552.7 195.9 553 192.2 553.4 190.7 553.7 191.3 554.1 197.7 554.5 195.2 554.8 195.4 555.2 191.9 555.5 184.7 555.9 182.6 556.2 183.5 556.6 186.8 556.9 190.8 557.3 189.4 557.6 193.3 558 194.7 558.3 198.2 558.7 196.1 559.1 195.7 559.4 186 559.8 188.7 560.1 195.2 560.5 192.7 560.8 198.5 561.2 193.9 561.5 193.5 561.9 182.9 562.2 199.2 562.6 201.8 563 203.7 563.3 203 563.7 201 564 209.3 564.4 212.2 564.7 208.6 565.1 204 565.4 213.2 565.8 219.9 566.1 209.4 566.5 206.6 566.9 204.4 567.2 214.3 567.6 215.1 567.9 213.4 568.3 211.8 568.6 214.1 569 214.8 569.3 209.8 569.7 215 570 217.9 570.4 218.5 570.8 219.1 571.1 215.9 571.5 216 571.8 216.9 572.2 207.6 572.5 208.8 572.9 212.3 573.2 205.3 573.6 211.1 573.9 210.4 574.3 210.2 574.7 212.1 575 211.5 575.4 208.4 575.7 214.3 576.1 211.1 576.4 205.9 576.8 202.9 577.1 200.9 577.5 189.1 577.8 191.9 578.2 196.7 578.6 198.3 578.9 198 579.3 195.1 579.6 197.1 580 188.3 580.3 197.3 580.7 192.1 581 190.1 581.4 197.2 581.7 191 582.1 188.4 582.4 193 582.8 179.8 583.2 181.9 583.5 188 583.9 191.4 584.2 194.2 584.6 190.4 584.9 189.7 585.3 197 585.6 198.5 586 197.8 586.3 196.1 586.7 195.4 587.1 196.9 587.4 191.3 587.8 187.6 588.1 190.7 588.5 204.1 588.8 200.2 589.2 195.3 589.5 196.8 589.9 196.2 590.2 197.3 590.6 206.4 591 216.3 591.3 205.3 591.7 206.7 592 203.2 592.4 205.7 592.7 206.8 593.1 199.9 593.4 210.4 593.8 209.6 594.1 215.2 594.5 212.3 594.9 209.5 595.2 207.7 595.6 209.9 595.9 219 596.3 215.2 596.6 210.6 597 208.3 597.3 201.7 597.7 206.9 598 217.5 598.4 219.8 598.8 217.9 599.1 212.2 599.5 220.7 599.8 214.1 600.2 212.4 600.5 219.2 600.9 214.8 601.2 219.6 601.6 217.8 601.9 218.3 602.3 215.7 602.6 221.5 603 215.2 603.4 225.9 603.7 221.5 604.1 220.1 604.4 208.4 604.8 208.2 605.1 213 605.5 216.9 605.8 213.7 606.2 215.3 606.5 201.2 606.9 219.9 607.3 213.7 607.6 223.3 608 209.6 608.3 212.5 608.7 201.2 609 206.7 609.4 200.6 609.7 202 610.1 197.3 610.4 200.8 610.8 217.1 611.2 212.8 611.5 214.7 611.9 202.6 612.2 198.9 612.6 199.6 612.9 197.4 613.3 197.4 613.6 201 614 189.6 614.3 192.8 614.7 196.2 615.1 204 615.4 202.9 615.8 199.1 616.1 198.1 616.5 199 616.8 197 617.2 201.4 617.5 197.5 617.9 203.5 618.2 202.6 618.6 201.5 619 192.9 619.3 190.8 619.7 192 620 198.7 620.4 197.9 620.7 191.6 621.1 186.5 621.4 198.1 621.8 198.1 622.1 195.5 622.5 193.2 622.9 194.1 623.2 191.3 623.6 200.9 623.9 190.2 624.3 199.3 624.6 197.4 625 194.5 625.3 190.2 625.7 189.8 626 190 626.4 188.3 626.7 195 627.1 193.8 627.5 189.5 627.8 199.5 628.2 207.5 628.5 209.4 628.9 198.3 629.2 194.5 629.6 201.2 629.9 201.4 630.3 200.7 630.6 197.7 631 211.6 631.4 211.4 631.7 210.1 632.1 206.9 632.4 207 632.8 209.3 633.1 207.5 633.5 221.5 633.8 199.4 634.2 201.2 634.5 201.9 634.9 210.3 635.3 208.9 635.6 200.1 636 197.6 636.3 205.5 636.7 216 637 213.7 637.4 215.2 637.7 210.2 638.1 218.9 638.4 217.4 638.8 214.4 639.2 217 639.5 210.4 639.9 218.7 640.2 222.9 640.6 220.3 640.9 213.1 641.3 215.6 641.6 218.2 642 212.1 642.3 212.2 642.7 215.9 643.1 214.1 643.4 215 643.8 210.8 644.1 211.1 644.5 215.8 644.8 216 645.2 215.5 645.5 211 645.9 208.7 646.2 213.5 646.6 212 646.9 208.5 647.3 202.6 647.7 203.9 648 195.5 648.4 201.1 648.7 199.7 649.1 204.2 649.4 209.2 649.8 205.5 650.1 201.6 650.5 200.2 650.8 200.2 651.2 202.3 651.6 205.4 651.9 203.8 652.3 198.8 652.6 193.8 653 212.9 653.3 201.3 653.7 193.4 654 188.6 654.4 190.8 654.7 190 655.1 195.1 655.5 195.4 655.8 192.2 656.2 198.9 656.5 200.2 656.9 195.7 657.2 201.4 657.6 196.8 657.9 202.5 658.3 196.5 658.6 194.7 659 196.9 659.4 199.8 659.7 198.9 660.1 207.4 660.4 201.9 660.8 196.8 661.1 189 661.5 194.2 661.8 195 662.2 187.3 662.5 182.2 662.9 191.3 663.3 187.7 663.6 185.4 664 187.9 664.3 196.8 664.7 200.6 665 194.7 665.4 183.2 665.7 190.9 666.1 185.6 666.4 181.7 666.8 196.1 667.2 199.5 667.5 190.3 667.9 189.1 668.2 190.9 668.6 194.7 668.9 193.4 669.3 199.4 669.6 186.2 670 199.2 670.3 208.6 670.7 203 671 194.1 671.4 200.3 671.8 201 672.1 206.6 672.5 204.5 672.8 208.6 673.2 210.6 673.5 214.2 673.9 211.4 674.2 198.1 674.6 202.3 674.9 203.1 675.3 193.4 675.7 204 676 211 676.4 206.7 676.7 214.1 677.1 209.8 677.4 204 677.8 213.2 678.1 214.9 678.5 204.7 678.8 214.6 679.2 217.5" stroke="#6fcbe6" stroke-width="1.0" fill="none" stroke-linejoin="round" opacity="0.38"/>
<g stroke="#4fa8d0" fill="#a8daee" stroke-width="1.2" opacity="1.0"><circle cx="500.52" cy="202.14" r="2.1"/><circle cx="501.41" cy="200.45" r="2.1"/><circle cx="502.3" cy="198.75" r="2.1"/><circle cx="503.18" cy="197.15" r="2.1"/><circle cx="504.07" cy="195.76" r="2.1"/><circle cx="504.95" cy="194.67" r="2.1"/><circle cx="505.84" cy="193.96" r="2.1"/><circle cx="506.73" cy="193.67" r="2.1"/><circle cx="507.61" cy="193.9" r="2.1"/><circle cx="508.5" cy="194.79" r="2.1"/><circle cx="509.38" cy="196.29" r="2.1"/><circle cx="510.27" cy="198.29" r="2.1"/><circle cx="511.16" cy="200.67" r="2.1"/><circle cx="512.04" cy="203.26" r="2.1"/><circle cx="512.93" cy="205.9" r="2.1"/><circle cx="513.81" cy="208.41" r="2.1"/><circle cx="514.7" cy="210.62" r="2.1"/><circle cx="515.59" cy="212.38" r="2.1"/><circle cx="516.47" cy="213.59" r="2.1"/><circle cx="517.36" cy="214.15" r="2.1"/><circle cx="518.24" cy="214.07" r="2.1"/><circle cx="519.13" cy="213.47" r="2.1"/><circle cx="520.02" cy="212.39" r="2.1"/><circle cx="520.9" cy="210.9" r="2.1"/><circle cx="521.79" cy="209.1" r="2.1"/><circle cx="522.67" cy="207.11" r="2.1"/><circle cx="523.56" cy="205.04" r="2.1"/><circle cx="524.45" cy="203.05" r="2.1"/><circle cx="525.33" cy="201.25" r="2.1"/><circle cx="526.22" cy="199.76" r="2.1"/><circle cx="527.1" cy="198.68" r="2.1"/><circle cx="527.99" cy="198.08" r="2.1"/><circle cx="528.88" cy="197.98" r="2.1"/><circle cx="529.76" cy="198.31" r="2.1"/><circle cx="530.65" cy="199.02" r="2.1"/><circle cx="531.53" cy="200.05" r="2.1"/><circle cx="532.42" cy="201.35" r="2.1"/><circle cx="533.31" cy="202.82" r="2.1"/><circle cx="534.19" cy="204.38" r="2.1"/><circle cx="535.08" cy="205.92" r="2.1"/><circle cx="535.96" cy="207.35" r="2.1"/><circle cx="536.85" cy="208.57" r="2.1"/><circle cx="537.74" cy="209.5" r="2.1"/><circle cx="538.62" cy="210.08" r="2.1"/><circle cx="539.51" cy="210.28" r="2.1"/><circle cx="540.39" cy="210.13" r="2.1"/><circle cx="541.28" cy="209.71" r="2.1"/><circle cx="542.17" cy="209.03" r="2.1"/><circle cx="543.05" cy="208.14" r="2.1"/><circle cx="543.94" cy="207.1" r="2.1"/><circle cx="544.82" cy="205.97" r="2.1"/><circle cx="545.71" cy="204.83" r="2.1"/><circle cx="546.6" cy="203.76" r="2.1"/><circle cx="547.48" cy="202.81" r="2.1"/><circle cx="548.37" cy="202.06" r="2.1"/><circle cx="549.25" cy="201.54" r="2.1"/><circle cx="550.14" cy="201.3" r="2.1"/><circle cx="551.03" cy="201.33" r="2.1"/><circle cx="551.91" cy="201.54" r="2.1"/><circle cx="552.8" cy="201.91" r="2.1"/><circle cx="553.68" cy="202.43" r="2.1"/><circle cx="554.57" cy="203.06" r="2.1"/><circle cx="555.46" cy="203.76" r="2.1"/><circle cx="556.34" cy="204.48" r="2.1"/><circle cx="557.23" cy="205.18" r="2.1"/><circle cx="558.11" cy="205.81" r="2.1"/><circle cx="559" cy="206.33" r="2.1"/><circle cx="559.89" cy="206.7" r="2.1"/><circle cx="560.77" cy="206.91" r="2.1"/><circle cx="561.66" cy="206.95" r="2.1"/><circle cx="562.54" cy="206.84" r="2.1"/><circle cx="563.43" cy="206.62" r="2.1"/><circle cx="564.32" cy="206.29" r="2.1"/><circle cx="565.2" cy="205.88" r="2.1"/><circle cx="566.09" cy="205.41" r="2.1"/><circle cx="566.97" cy="204.9" r="2.1"/><circle cx="567.86" cy="204.4" r="2.1"/><circle cx="568.75" cy="203.93" r="2.1"/><circle cx="569.63" cy="203.51" r="2.1"/><circle cx="570.52" cy="203.18" r="2.1"/><circle cx="571.4" cy="202.96" r="2.1"/><circle cx="572.29" cy="202.86" r="2.1"/><circle cx="573.18" cy="202.87" r="2.1"/><circle cx="574.06" cy="202.98" r="2.1"/><circle cx="574.95" cy="203.16" r="2.1"/><circle cx="575.83" cy="203.42" r="2.1"/><circle cx="576.72" cy="203.73" r="2.1"/><circle cx="577.61" cy="204.06" r="2.1"/><circle cx="578.49" cy="204.4" r="2.1"/><circle cx="579.38" cy="204.72" r="2.1"/><circle cx="580.26" cy="205" r="2.1"/><circle cx="581.15" cy="205.21" r="2.1"/><circle cx="582.04" cy="205.35" r="2.1"/></g>
<g stroke="#5ab4d6" fill="#d8f0f8" stroke-width="1.2" opacity="1.0"><circle cx="585.58" cy="204.29" r="2.2"/><circle cx="592.31" cy="204.6" r="2.2"/><circle cx="599.05" cy="204.91" r="2.2"/><circle cx="605.78" cy="203.52" r="2.2"/><circle cx="612.51" cy="204.75" r="2.2"/><circle cx="619.25" cy="204.24" r="2.2"/><circle cx="625.98" cy="204.66" r="2.2"/><circle cx="632.71" cy="204.55" r="2.2"/><circle cx="639.45" cy="205.2" r="2.2"/><circle cx="646.18" cy="203.9" r="2.2"/><circle cx="652.92" cy="204.67" r="2.2"/><circle cx="659.65" cy="203.71" r="2.2"/><circle cx="666.38" cy="205.08" r="2.2"/><circle cx="673.12" cy="204.7" r="2.2"/></g>
</g>
<path d="M68.9 305.17L74.5 305.17L71.7 309.76ZM72.4 306.27L78 306.27L75.2 310.86ZM74.7 308.07L80.3 308.07L77.5 312.66ZM76.5 309.87L82.1 309.87L79.3 314.46ZM77.1 301.07L82.7 301.07L79.9 305.66ZM78.8 303.97L84.4 303.97L81.6 308.56ZM80.6 302.77L86.2 302.77L83.4 307.36ZM81.7 305.17L87.3 305.17L84.5 309.76ZM82.3 306.87L87.9 306.87L85.1 311.46ZM86.4 299.27L92 299.27L89.2 303.86ZM86.4 308.67L92 308.67L89.2 313.26ZM87 310.97L92.6 310.97L89.8 315.56ZM91.1 306.27L96.7 306.27L93.9 310.86ZM94.6 308.67L100.2 308.67L97.4 313.26ZM95.7 309.87L101.3 309.87L98.5 314.46ZM101 306.27L106.6 306.27L103.8 310.86ZM102.2 310.37L107.8 310.37L105 314.96ZM104.5 312.17L110.1 312.17L107.3 316.76ZM106.8 311.57L112.4 311.57L109.6 316.16ZM109.2 309.87L114.8 309.87L112 314.46ZM110.9 310.97L116.5 310.97L113.7 315.56ZM115 312.77L120.6 312.77L117.8 317.36ZM116.8 315.67L122.4 315.67L119.6 320.26ZM119.1 315.07L124.7 315.07L121.9 319.66ZM123.8 316.27L129.4 316.27L126.6 320.86ZM127.3 319.17L132.9 319.17L130.1 323.76ZM134.9 317.97L140.5 317.97L137.7 322.56ZM127.9 319.67L133.5 319.67L130.7 324.26ZM140.3 315.67L145.9 315.67L143.1 320.26ZM141.7 318.97L147.3 318.97L144.5 323.56ZM146.9 321.57L152.5 321.57L149.7 326.16ZM152.8 321.57L158.4 321.57L155.6 326.16ZM158.1 322.97L163.7 322.97L160.9 327.56ZM160.7 320.97L166.3 320.97L163.5 325.56ZM162.7 324.27L168.3 324.27L165.5 328.86ZM164.7 326.87L170.3 326.87L167.5 331.46ZM168.6 329.47L174.2 329.47L171.4 334.06ZM169.2 333.47L174.8 333.47L172 338.06ZM172.5 331.47L178.1 331.47L175.3 336.06ZM173.2 334.77L178.8 334.77L176 339.36ZM175.8 332.77L181.4 332.77L178.6 337.36ZM181.1 336.07L186.7 336.07L183.9 340.66ZM187.6 339.97L193.2 339.97L190.4 344.56ZM190.9 342.67L196.5 342.67L193.7 347.26ZM197.5 343.27L203.1 343.27L200.3 347.86ZM192.2 345.97L197.8 345.97L195 350.56ZM193.6 349.87L199.2 349.87L196.4 354.46ZM198.2 351.87L203.8 351.87L201 356.46ZM187.3 340.57L192.9 340.57L190.1 345.16ZM190.8 342.67L196.4 342.67L193.6 347.26ZM197.1 344.07L202.7 344.07L199.9 348.66ZM191.5 346.07L197.1 346.07L194.3 350.66ZM192.9 349.57L198.5 349.57L195.7 354.16ZM197.1 353.07L202.7 353.07L199.9 357.66ZM195 356.57L200.6 356.57L197.8 361.16ZM195 359.27L200.6 359.27L197.8 363.86ZM194.3 364.87L199.9 364.87L197.1 369.46ZM201.2 364.17L206.8 364.17L204 368.76ZM204.7 365.57L210.3 365.57L207.5 370.16ZM202.6 368.37L208.2 368.37L205.4 372.96ZM204 371.77L209.6 371.77L206.8 376.36ZM207.5 375.27L213.1 375.27L210.3 379.86ZM200.5 378.07L206.1 378.07L203.3 382.66ZM204 379.47L209.6 379.47L206.8 384.06ZM201.9 382.22L207.5 382.22L204.7 386.81ZM204 386.37L209.6 386.37L206.8 390.96ZM208.9 386.37L214.5 386.37L211.7 390.96ZM206.8 391.27L212.4 391.27L209.6 395.86ZM209.6 390.57L215.2 390.57L212.4 395.16ZM207.5 393.37L213.1 393.37L210.3 397.96ZM73.2 303.47L78.8 303.47L76 308.06ZM70.7 306.47L76.3 306.47L73.5 311.06ZM84.2 307.47L89.8 307.47L87 312.06ZM79.2 308.97L84.8 308.97L82 313.56Z" stroke="#ea6870" fill="#fce6e8" stroke-width="1.4" stroke-linejoin="miter"/>
<path d="M296.5 308.23L302.1 308.23L299.3 303.64ZM295.7 311.23L301.3 311.23L298.5 306.64ZM294.2 314.23L299.8 314.23L297 309.64ZM293.5 316.53L299.1 316.53L296.3 311.94ZM295.7 317.23L301.3 317.23L298.5 312.64ZM291.2 319.53L296.8 319.53L294 314.94ZM290.5 322.53L296.1 322.53L293.3 317.94ZM292 322.53L297.6 322.53L294.8 317.94ZM290.5 326.23L296.1 326.23L293.3 321.64ZM292 330.83L297.6 330.83L294.8 326.24ZM289.7 335.33L295.3 335.33L292.5 330.74ZM289.7 341.33L295.3 341.33L292.5 336.74ZM297.2 344.33L302.8 344.33L300 339.74ZM299.5 346.63L305.1 346.63L302.3 342.04ZM301.8 348.83L307.4 348.83L304.6 344.24ZM299.5 353.33L305.1 353.33L302.3 348.74ZM307 353.33L312.6 353.33L309.8 348.74ZM313.8 354.83L319.4 354.83L316.6 350.24ZM318.3 350.33L323.9 350.33L321.1 345.74ZM319.1 346.63L324.7 346.63L321.9 342.04ZM320.6 343.63L326.2 343.63L323.4 339.04ZM316.8 342.13L322.4 342.13L319.6 337.54ZM313.8 338.33L319.4 338.33L316.6 333.74ZM314.6 340.53L320.2 340.53L317.4 335.94ZM318.3 338.33L323.9 338.33L321.1 333.74ZM319.8 341.33L325.4 341.33L322.6 336.74ZM322.1 343.63L327.7 343.63L324.9 339.04ZM315.3 330.83L320.9 330.83L318.1 326.24ZM319.1 332.33L324.7 332.33L321.9 327.74ZM315.3 343.63L320.9 343.63L318.1 339.04ZM302.5 308.23L308.1 308.23L305.3 303.64ZM306.3 307.43L311.9 307.43L309.1 302.84ZM308.5 305.23L314.1 305.23L311.3 300.64ZM311.5 308.93L317.1 308.93L314.3 304.34ZM316.1 307.43L321.7 307.43L318.9 302.84ZM321.3 305.23L326.9 305.23L324.1 300.64ZM325.8 303.73L331.4 303.73L328.6 299.14ZM329.6 305.93L335.2 305.93L332.4 301.34ZM337.9 304.43L343.5 304.43L340.7 299.84ZM341.7 305.23L347.3 305.23L344.5 300.64ZM346.2 308.93L351.8 308.93L349 304.34ZM350.7 306.73L356.3 306.73L353.5 302.14ZM352.9 312.73L358.5 312.73L355.7 308.14ZM359.7 308.23L365.3 308.23L362.5 303.64ZM360.5 311.93L366.1 311.93L363.3 307.34ZM361.2 318.73L366.8 318.73L364 314.14ZM369.5 316.53L375.1 316.53L372.3 311.94ZM371 322.53L376.6 322.53L373.8 317.94ZM371 325.53L376.6 325.53L373.8 320.94ZM360 308.83L365.6 308.83L362.8 304.24ZM360.7 312.33L366.3 312.33L363.5 307.74ZM361.4 319.33L367 319.33L364.2 314.74ZM369.9 316.93L375.5 316.93L372.7 312.34ZM373.4 325.03L379 325.03L376.2 320.44ZM377.6 326.23L383.2 326.23L380.4 321.64ZM385.4 330.13L391 330.13L388.2 325.54ZM389.6 331.53L395.2 331.53L392.4 326.94ZM394.7 332.03L400.3 332.03L397.5 327.44ZM397.7 337.13L403.3 337.13L400.5 332.54ZM401.2 338.53L406.8 338.53L404 333.94ZM404.7 339.43L410.3 339.43L407.5 334.84ZM404.7 345.43L410.3 345.43L407.5 340.84ZM407.7 349.43L413.3 349.43L410.5 344.84ZM411.6 351.73L417.2 351.73L414.4 347.14ZM412.8 354.73L418.4 354.73L415.6 350.14ZM415.1 357.03L420.7 357.03L417.9 352.44ZM417.4 360.23L423 360.23L420.2 355.64ZM420.9 367.93L426.5 367.93L423.7 363.34ZM423.2 368.63L428.8 368.63L426 364.04ZM426.2 374.13L431.8 374.13L429 369.54ZM430.1 378.83L435.7 378.83L432.9 374.24ZM432.4 380.13L438 380.13L435.2 375.54ZM430.8 387.53L436.4 387.53L433.6 382.94ZM432.4 393.33L438 393.33L435.2 388.74ZM297.7 305.93L303.3 305.93L300.5 301.34ZM316.7 335.93L322.3 335.93L319.5 331.34Z" stroke="#e0a032" fill="#f7e5bd" stroke-width="1.5" stroke-linejoin="miter"/>
<path d="M584.6 305.43L590.2 305.43L587.4 300.84ZM575 304.13L580.6 304.13L577.8 299.54ZM567.5 302.43L573.1 302.43L570.3 297.84ZM557.6 302.83L563.2 302.83L560.4 298.24ZM550.4 300.83L556 300.83L553.2 296.24ZM542.5 303.73L548.1 303.73L545.3 299.14ZM535.6 303.53L541.2 303.53L538.4 298.94ZM529.4 305.43L535 305.43L532.2 300.84ZM524.1 306.43L529.7 306.43L526.9 301.84ZM518.2 309.83L523.8 309.83L521 305.24ZM514 313.33L519.6 313.33L516.8 308.74ZM510.1 317.33L515.7 317.33L512.9 312.74ZM508.4 320.63L514 320.63L511.2 316.04ZM507.7 323.23L513.3 323.23L510.5 318.64ZM507.1 326.53L512.7 326.53L509.9 321.94ZM505.7 330.43L511.3 330.43L508.5 325.84ZM505.3 334.43L510.9 334.43L508.1 329.84ZM505.7 338.93L511.3 338.93L508.5 334.34ZM508.4 342.93L514 342.93L511.2 338.34ZM510.3 348.13L515.9 348.13L513.1 343.54ZM534.7 335.73L540.3 335.73L537.5 331.14ZM534 333.03L539.6 333.03L536.8 328.44ZM535.3 329.83L540.9 329.83L538.1 325.24ZM536.6 327.13L542.2 327.13L539.4 322.54ZM538.6 324.53L544.2 324.53L541.4 319.94ZM541.9 322.53L547.5 322.53L544.7 317.94ZM546.5 321.23L552.1 321.23L549.3 316.64ZM553.7 321.23L559.3 321.23L556.5 316.64ZM556.3 321.93L561.9 321.93L559.1 317.34ZM562.2 321.23L567.8 321.23L565 316.64ZM564.2 321.93L569.8 321.93L567 317.34ZM568.2 323.83L573.8 323.83L571 319.24ZM571.4 326.53L577 326.53L574.2 321.94ZM575.4 329.83L581 329.83L578.2 325.24ZM580.6 331.73L586.2 331.73L583.4 327.14ZM584.6 335.03L590.2 335.03L587.4 330.44ZM586.6 338.93L592.2 338.93L589.4 334.34ZM534 345.53L539.6 345.53L536.8 340.94ZM539.9 350.13L545.5 350.13L542.7 345.54ZM551.7 340.33L557.3 340.33L554.5 335.74ZM552.4 343.53L558 343.53L555.2 338.94ZM553.7 346.93L559.3 346.93L556.5 342.34ZM556.3 336.33L561.9 336.33L559.1 331.74ZM560.3 335.03L565.9 335.03L563.1 330.44ZM563.6 336.33L569.2 336.33L566.4 331.74ZM567.5 340.93L573.1 340.93L570.3 336.34ZM570.8 344.93L576.4 344.93L573.6 340.34ZM575.4 348.13L581 348.13L578.2 343.54ZM555 349.53L560.6 349.53L557.8 344.94ZM559 343.53L564.6 343.53L561.8 338.94ZM560.3 347.53L565.9 347.53L563.1 342.94ZM562.9 348.13L568.5 348.13L565.7 343.54ZM585.1 305.83L590.7 305.83L587.9 301.24ZM593.2 309.13L598.8 309.13L596 304.54ZM602 312.33L607.6 312.33L604.8 307.74ZM610.1 318.03L615.7 318.03L612.9 313.44ZM617.5 322.03L623.1 322.03L620.3 317.44ZM624.7 326.43L630.3 326.43L627.5 321.84ZM631.7 331.83L637.3 331.83L634.5 327.24ZM638.6 336.13L644.2 336.13L641.4 331.54ZM642.5 339.93L648.1 339.93L645.3 335.34ZM645.8 344.73L651.4 344.73L648.6 340.14ZM650 348.03L655.6 348.03L652.8 343.44ZM653.5 352.93L659.1 352.93L656.3 348.34ZM656 356.13L661.6 356.13L658.8 351.54ZM658.7 359.33L664.3 359.33L661.5 354.74ZM661.7 361.83L667.3 361.83L664.5 357.24ZM664.1 365.03L669.7 365.03L666.9 360.44ZM583.8 334.23L589.4 334.23L586.6 329.64ZM588.7 338.23L594.3 338.23L591.5 333.64ZM591.9 341.53L597.5 341.53L594.7 336.94ZM593.6 344.73L599.2 344.73L596.4 340.14ZM598.1 348.83L603.7 348.83L600.9 344.24ZM600.8 352.93L606.4 352.93L603.6 348.34ZM602.5 356.93L608.1 356.93L605.3 352.34ZM603 361.83L608.6 361.83L605.8 357.24ZM604.6 365.03L610.2 365.03L607.4 360.44ZM507.6 344.03L513.2 344.03L510.4 339.44ZM513.9 355.13L519.5 355.13L516.7 350.54ZM517.3 361.33L522.9 361.33L520.1 356.74ZM521.5 364.83L527.1 364.83L524.3 360.24ZM525.7 371.13L531.3 371.13L528.5 366.54ZM531.2 374.53L536.8 374.53L534 369.94ZM536.8 376.63L542.4 376.63L539.6 372.04ZM541.6 380.13L547.2 380.13L544.4 375.54ZM547.2 381.53L552.8 381.53L550 376.94ZM554.1 385.68L559.7 385.68L556.9 381.09ZM560.4 387.03L566 387.03L563.2 382.44ZM565.95 389.13L571.55 389.13L568.75 384.54ZM570.1 389.13L575.7 389.13L572.9 384.54ZM576.4 390.53L582 390.53L579.2 385.94ZM581.9 389.13L587.5 389.13L584.7 384.54ZM586.1 387.73L591.7 387.73L588.9 383.14ZM539.6 351.63L545.2 351.63L542.4 347.04ZM545.1 360.68L550.7 360.68L547.9 356.09ZM551.4 366.23L557 366.23L554.2 361.64ZM558.3 370.43L563.9 370.43L561.1 365.84ZM565.3 375.23L570.9 375.23L568.1 370.64ZM571.5 375.93L577.1 375.93L574.3 371.34ZM576.4 375.93L582 375.93L579.2 371.34ZM578.45 374.53L584.05 374.53L581.25 369.94ZM579.8 369.03L585.4 369.03L582.6 364.44ZM580.5 363.43L586.1 363.43L583.3 358.84ZM577.8 355.83L583.4 355.83L580.6 351.24ZM575 348.18L580.6 348.18L577.8 343.59ZM570.8 345.43L576.4 345.43L573.6 340.84ZM550.7 343.33L556.3 343.33L553.5 338.74ZM552.8 346.83L558.4 346.83L555.6 342.24ZM554.1 350.93L559.7 350.93L556.9 346.34ZM555.5 353.73L561.1 353.73L558.3 349.14ZM559 359.33L564.6 359.33L561.8 354.74ZM561.1 358.63L566.7 358.63L563.9 354.04ZM563.2 355.13L568.8 355.13L566 350.54ZM565.95 351.63L571.55 351.63L568.75 347.04ZM568 357.23L573.6 357.23L570.8 352.64ZM569.4 360.68L575 360.68L572.2 356.09ZM572.2 360.68L577.8 360.68L575 356.09ZM560.4 349.53L566 349.53L563.2 344.94ZM556.9 347.53L562.5 347.53L559.7 342.94ZM562.5 347.53L568.1 347.53L565.3 342.94ZM565.3 360.03L570.9 360.03L568.1 355.44ZM567.3 354.43L572.9 354.43L570.1 349.84ZM592.5 344.13L598.1 344.13L595.3 339.54ZM598.4 348.53L604 348.53L601.2 343.94ZM600.6 353.63L606.2 353.63L603.4 349.04ZM602 357.23L607.6 357.23L604.8 352.64ZM602.7 363.13L608.3 363.13L605.5 358.54ZM603.5 368.23L609.1 368.23L606.3 363.64ZM604.9 373.33L610.5 373.33L607.7 368.74ZM605.7 376.93L611.3 376.93L608.5 372.34ZM602 383.53L607.6 383.53L604.8 378.94ZM599.1 385.03L604.7 385.03L601.9 380.44ZM596.2 386.43L601.8 386.43L599 381.84ZM591.8 387.93L597.4 387.93L594.6 383.34ZM586.7 387.93L592.3 387.93L589.5 383.34ZM582.3 389.33L587.9 389.33L585.1 384.74ZM577.9 390.83L583.5 390.83L580.7 386.24ZM644.4 344.13L650 344.13L647.2 339.54ZM649.5 348.53L655.1 348.53L652.3 343.94ZM653.1 352.83L658.7 352.83L655.9 348.24ZM656 357.23L661.6 357.23L658.8 352.64ZM658.95 360.93L664.55 360.93L661.75 356.34ZM661.2 363.83L666.8 363.83L664 359.24ZM664.1 366.73L669.7 366.73L666.9 362.14ZM577.9 355.03L583.5 355.03L580.7 350.44ZM580.8 363.13L586.4 363.13L583.6 358.54ZM580.8 368.93L586.4 368.93L583.6 364.34ZM578.7 374.73L584.3 374.73L581.5 370.14Z" stroke="#55b2d6" fill="#cdeaf5" stroke-width="1.5" stroke-linejoin="miter"/>
<rect x="40.7" y="6.6" width="181.3" height="108.9" fill="none" stroke="#000" stroke-width="1.15"/>
<path d="M44.2 115.5v-4M44.2 6.6v4M79.76 115.5v-4M79.76 6.6v4M115.32 115.5v-4M115.32 6.6v4M150.88 115.5v-4M150.88 6.6v4M186.44 115.5v-4M186.44 6.6v4M222 115.5v-4M222 6.6v4M40.7 111.6h4M222 111.6h-4M40.7 77.8h4M222 77.8h-4M40.7 44h4M222 44h-4M40.7 10.2h4M222 10.2h-4" stroke="#000" stroke-width="1.15" fill="none"/>
<text transform="translate(44.2 125.8) scale(1 1.05)" font-size="10.5" text-anchor="middle" >0</text>
<text transform="translate(79.76 125.8) scale(1 1.05)" font-size="10.5" text-anchor="middle" >20</text>
<text transform="translate(115.32 125.8) scale(1 1.05)" font-size="10.5" text-anchor="middle" >40</text>
<text transform="translate(150.88 125.8) scale(1 1.05)" font-size="10.5" text-anchor="middle" >60</text>
<text transform="translate(186.44 125.8) scale(1 1.05)" font-size="10.5" text-anchor="middle" >80</text>
<text transform="translate(222 125.8) scale(1 1.05)" font-size="10.5" text-anchor="middle" >100</text>
<text transform="translate(39.2 115.6) scale(1 1.05)" font-size="10.5" text-anchor="end" >0</text>
<text transform="translate(39.2 81.8) scale(1 1.05)" font-size="10.5" text-anchor="end" >2</text>
<text transform="translate(39.2 48) scale(1 1.05)" font-size="10.5" text-anchor="end" >4</text>
<text transform="translate(39.2 14.2) scale(1 1.05)" font-size="10.5" text-anchor="end" >6</text>
<rect x="266.3" y="6.5" width="180.9" height="110.1" fill="none" stroke="#000" stroke-width="1.15"/>
<path d="M270.3 116.6v-4M270.3 6.5v4M305.7 116.6v-4M305.7 6.5v4M341.1 116.6v-4M341.1 6.5v4M376.5 116.6v-4M376.5 6.5v4M411.9 116.6v-4M411.9 6.5v4M447.3 116.6v-4M447.3 6.5v4M266.3 113h4M447.2 113h-4M266.3 77.5h4M447.2 77.5h-4M266.3 42h4M447.2 42h-4M266.3 6.5h4M447.2 6.5h-4" stroke="#000" stroke-width="1.15" fill="none"/>
<text transform="translate(270.3 126.9) scale(1 1.05)" font-size="10.5" text-anchor="middle" >0</text>
<text transform="translate(305.7 126.9) scale(1 1.05)" font-size="10.5" text-anchor="middle" >20</text>
<text transform="translate(341.1 126.9) scale(1 1.05)" font-size="10.5" text-anchor="middle" >40</text>
<text transform="translate(376.5 126.9) scale(1 1.05)" font-size="10.5" text-anchor="middle" >60</text>
<text transform="translate(411.9 126.9) scale(1 1.05)" font-size="10.5" text-anchor="middle" >80</text>
<text transform="translate(447.3 126.9) scale(1 1.05)" font-size="10.5" text-anchor="middle" >100</text>
<text transform="translate(264.8 117) scale(1 1.05)" font-size="10.5" text-anchor="end" >0</text>
<text transform="translate(264.8 81.5) scale(1 1.05)" font-size="10.5" text-anchor="end" >2</text>
<text transform="translate(264.8 46) scale(1 1.05)" font-size="10.5" text-anchor="end" >4</text>
<text transform="translate(264.8 10.5) scale(1 1.05)" font-size="10.5" text-anchor="end" >6</text>
<rect x="496.7" y="6.2" width="181.5" height="110.4" fill="none" stroke="#000" stroke-width="1.15"/>
<path d="M501.4 116.6v-4M501.4 6.2v4M560.33 116.6v-4M560.33 6.2v4M619.27 116.6v-4M619.27 6.2v4M678.2 116.6v-4M678.2 6.2v4M496.7 112.7h4M678.2 112.7h-4M496.7 77.13h4M678.2 77.13h-4M496.7 41.57h4M678.2 41.57h-4M496.7 6h4M678.2 6h-4" stroke="#000" stroke-width="1.15" fill="none"/>
<text transform="translate(501.4 126.9) scale(1 1.05)" font-size="10.5" text-anchor="middle" >0</text>
<text transform="translate(560.33 126.9) scale(1 1.05)" font-size="10.5" text-anchor="middle" >20</text>
<text transform="translate(619.27 126.9) scale(1 1.05)" font-size="10.5" text-anchor="middle" >40</text>
<text transform="translate(678.2 126.9) scale(1 1.05)" font-size="10.5" text-anchor="middle" >60</text>
<text transform="translate(495.2 116.7) scale(1 1.05)" font-size="10.5" text-anchor="end" >0</text>
<text transform="translate(495.2 81.13) scale(1 1.05)" font-size="10.5" text-anchor="end" >2</text>
<text transform="translate(495.2 45.57) scale(1 1.05)" font-size="10.5" text-anchor="end" >4</text>
<text transform="translate(495.2 10) scale(1 1.05)" font-size="10.5" text-anchor="end" >6</text>
<rect x="41.1" y="150.4" width="180.1" height="108.5" fill="none" stroke="#000" stroke-width="1.15"/>
<path d="M41.3 258.9v-4M41.3 150.4v4M77.28 258.9v-4M77.28 150.4v4M113.26 258.9v-4M113.26 150.4v4M149.24 258.9v-4M149.24 150.4v4M185.22 258.9v-4M185.22 150.4v4M221.2 258.9v-4M221.2 150.4v4M41.1 252.8h4M221.2 252.8h-4M41.1 235.14h4M221.2 235.14h-4M41.1 217.48h4M221.2 217.48h-4M41.1 199.82h4M221.2 199.82h-4M41.1 182.16h4M221.2 182.16h-4M41.1 164.5h4M221.2 164.5h-4" stroke="#000" stroke-width="1.15" fill="none"/>
<text transform="translate(41.3 269.2) scale(1 1.05)" font-size="10.5" text-anchor="middle" >0</text>
<text transform="translate(77.28 269.2) scale(1 1.05)" font-size="10.5" text-anchor="middle" >20</text>
<text transform="translate(113.26 269.2) scale(1 1.05)" font-size="10.5" text-anchor="middle" >40</text>
<text transform="translate(149.24 269.2) scale(1 1.05)" font-size="10.5" text-anchor="middle" >60</text>
<text transform="translate(185.22 269.2) scale(1 1.05)" font-size="10.5" text-anchor="middle" >80</text>
<text transform="translate(221.2 269.2) scale(1 1.05)" font-size="10.5" text-anchor="middle" >100</text>
<text transform="translate(39.6 256.8) scale(1 1.05)" font-size="10.5" text-anchor="end" >−0.4</text>
<text transform="translate(39.6 239.14) scale(1 1.05)" font-size="10.5" text-anchor="end" >−0.2</text>
<text transform="translate(39.6 221.48) scale(1 1.05)" font-size="10.5" text-anchor="end" >0</text>
<text transform="translate(39.6 203.82) scale(1 1.05)" font-size="10.5" text-anchor="end" >0.2</text>
<text transform="translate(39.6 186.16) scale(1 1.05)" font-size="10.5" text-anchor="end" >0.4</text>
<text transform="translate(39.6 168.5) scale(1 1.05)" font-size="10.5" text-anchor="end" >0.6</text>
<rect x="266.35" y="150.8" width="180.85" height="108.55" fill="none" stroke="#000" stroke-width="1.15"/>
<path d="M270.1 259.35v-4M270.1 150.8v4M305.52 259.35v-4M305.52 150.8v4M340.94 259.35v-4M340.94 150.8v4M376.36 259.35v-4M376.36 150.8v4M411.78 259.35v-4M411.78 150.8v4M447.2 259.35v-4M447.2 150.8v4M266.35 243.73h4M447.2 243.73h-4M266.35 224.2h4M447.2 224.2h-4M266.35 204.67h4M447.2 204.67h-4M266.35 185.13h4M447.2 185.13h-4M266.35 165.6h4M447.2 165.6h-4" stroke="#000" stroke-width="1.15" fill="none"/>
<text transform="translate(270.1 269.65) scale(1 1.05)" font-size="10.5" text-anchor="middle" >0</text>
<text transform="translate(305.52 269.65) scale(1 1.05)" font-size="10.5" text-anchor="middle" >20</text>
<text transform="translate(340.94 269.65) scale(1 1.05)" font-size="10.5" text-anchor="middle" >40</text>
<text transform="translate(376.36 269.65) scale(1 1.05)" font-size="10.5" text-anchor="middle" >60</text>
<text transform="translate(411.78 269.65) scale(1 1.05)" font-size="10.5" text-anchor="middle" >80</text>
<text transform="translate(447.2 269.65) scale(1 1.05)" font-size="10.5" text-anchor="middle" >100</text>
<text transform="translate(264.85 247.73) scale(1 1.05)" font-size="10.5" text-anchor="end" >−1</text>
<text transform="translate(264.85 228.2) scale(1 1.05)" font-size="10.5" text-anchor="end" >0</text>
<text transform="translate(264.85 208.67) scale(1 1.05)" font-size="10.5" text-anchor="end" >1</text>
<text transform="translate(264.85 189.13) scale(1 1.05)" font-size="10.5" text-anchor="end" >2</text>
<text transform="translate(264.85 169.6) scale(1 1.05)" font-size="10.5" text-anchor="end" >3</text>
<rect x="496.2" y="151.3" width="182.7" height="108.15" fill="none" stroke="#000" stroke-width="1.15"/>
<path d="M502 259.45v-4M502 151.3v4M561.07 259.45v-4M561.07 151.3v4M620.13 259.45v-4M620.13 151.3v4M679.2 259.45v-4M679.2 151.3v4M496.2 244.1h4M678.9 244.1h-4M496.2 224.55h4M678.9 224.55h-4M496.2 205h4M678.9 205h-4M496.2 185.45h4M678.9 185.45h-4M496.2 165.9h4M678.9 165.9h-4" stroke="#000" stroke-width="1.15" fill="none"/>
<text transform="translate(502 269.75) scale(1 1.05)" font-size="10.5" text-anchor="middle" >0</text>
<text transform="translate(561.07 269.75) scale(1 1.05)" font-size="10.5" text-anchor="middle" >20</text>
<text transform="translate(620.13 269.75) scale(1 1.05)" font-size="10.5" text-anchor="middle" >40</text>
<text transform="translate(679.2 269.75) scale(1 1.05)" font-size="10.5" text-anchor="middle" >60</text>
<text transform="translate(494.7 248.1) scale(1 1.05)" font-size="10.5" text-anchor="end" >−20</text>
<text transform="translate(494.7 228.55) scale(1 1.05)" font-size="10.5" text-anchor="end" >−10</text>
<text transform="translate(494.7 209) scale(1 1.05)" font-size="10.5" text-anchor="end" >0</text>
<text transform="translate(494.7 189.45) scale(1 1.05)" font-size="10.5" text-anchor="end" >10</text>
<text transform="translate(494.7 169.9) scale(1 1.05)" font-size="10.5" text-anchor="end" >20</text>
<rect x="41.3" y="293.6" width="180" height="108.85" fill="none" stroke="#000" stroke-width="1.15"/>
<path d="M41.3 402.45v-4M41.3 293.6v4M101.3 402.45v-4M101.3 293.6v4M161.3 402.45v-4M161.3 293.6v4M221.3 402.45v-4M221.3 293.6v4M41.3 397.35h4M221.3 397.35h-4M41.3 372.56h4M221.3 372.56h-4M41.3 347.77h4M221.3 347.77h-4M41.3 322.99h4M221.3 322.99h-4M41.3 298.2h4M221.3 298.2h-4" stroke="#000" stroke-width="1.15" fill="none"/>
<text transform="translate(41.3 412.75) scale(1 1.05)" font-size="10.5" text-anchor="middle" >3</text>
<text transform="translate(101.3 412.75) scale(1 1.05)" font-size="10.5" text-anchor="middle" >4</text>
<text transform="translate(161.3 412.75) scale(1 1.05)" font-size="10.5" text-anchor="middle" >5</text>
<text transform="translate(221.3 412.75) scale(1 1.05)" font-size="10.5" text-anchor="middle" >6</text>
<text transform="translate(39.8 401.35) scale(1 1.05)" font-size="10.5" text-anchor="end" >0</text>
<text transform="translate(39.8 376.56) scale(1 1.05)" font-size="10.5" text-anchor="end" >0.05</text>
<text transform="translate(39.8 351.77) scale(1 1.05)" font-size="10.5" text-anchor="end" >0.1</text>
<text transform="translate(39.8 326.99) scale(1 1.05)" font-size="10.5" text-anchor="end" >0.15</text>
<text transform="translate(39.8 302.2) scale(1 1.05)" font-size="10.5" text-anchor="end" >0.2</text>
<rect x="266.2" y="292.75" width="181" height="108.6" fill="none" stroke="#000" stroke-width="1.15"/>
<path d="M266.4 401.35v-4M266.4 292.75v4M301.2 401.35v-4M301.2 292.75v4M336 401.35v-4M336 292.75v4M370.8 401.35v-4M370.8 292.75v4M405.6 401.35v-4M405.6 292.75v4M440.4 401.35v-4M440.4 292.75v4M266.2 394.1h4M447.2 394.1h-4M266.2 366.23h4M447.2 366.23h-4M266.2 338.37h4M447.2 338.37h-4M266.2 310.5h4M447.2 310.5h-4" stroke="#000" stroke-width="1.15" fill="none"/>
<text transform="translate(266.4 411.65) scale(1 1.05)" font-size="10.5" text-anchor="middle" >0</text>
<text transform="translate(301.2 411.65) scale(1 1.05)" font-size="10.5" text-anchor="middle" >1</text>
<text transform="translate(336 411.65) scale(1 1.05)" font-size="10.5" text-anchor="middle" >2</text>
<text transform="translate(370.8 411.65) scale(1 1.05)" font-size="10.5" text-anchor="middle" >3</text>
<text transform="translate(405.6 411.65) scale(1 1.05)" font-size="10.5" text-anchor="middle" >4</text>
<text transform="translate(440.4 411.65) scale(1 1.05)" font-size="10.5" text-anchor="middle" >5</text>
<text transform="translate(264.7 398.1) scale(1 1.05)" font-size="10.5" text-anchor="end" >0</text>
<text transform="translate(264.7 370.23) scale(1 1.05)" font-size="10.5" text-anchor="end" >0.2</text>
<text transform="translate(264.7 342.37) scale(1 1.05)" font-size="10.5" text-anchor="end" >0.4</text>
<text transform="translate(264.7 314.5) scale(1 1.05)" font-size="10.5" text-anchor="end" >0.6</text>
<rect x="495.5" y="292.55" width="183.2" height="108.95" fill="none" stroke="#000" stroke-width="1.15"/>
<path d="M495.8 401.5v-4M495.8 292.55v4M532.38 401.5v-4M532.38 292.55v4M568.96 401.5v-4M568.96 292.55v4M605.54 401.5v-4M605.54 292.55v4M642.12 401.5v-4M642.12 292.55v4M678.7 401.5v-4M678.7 292.55v4M495.5 397.18h4M678.7 397.18h-4M495.5 363.6h4M678.7 363.6h-4M495.5 330.02h4M678.7 330.02h-4M495.5 296.45h4M678.7 296.45h-4" stroke="#000" stroke-width="1.15" fill="none"/>
<text transform="translate(495.8 411.8) scale(1 1.05)" font-size="10.5" text-anchor="middle" >−4</text>
<text transform="translate(532.38 411.8) scale(1 1.05)" font-size="10.5" text-anchor="middle" >−2</text>
<text transform="translate(568.96 411.8) scale(1 1.05)" font-size="10.5" text-anchor="middle" >0</text>
<text transform="translate(605.54 411.8) scale(1 1.05)" font-size="10.5" text-anchor="middle" >2</text>
<text transform="translate(642.12 411.8) scale(1 1.05)" font-size="10.5" text-anchor="middle" >4</text>
<text transform="translate(678.7 411.8) scale(1 1.05)" font-size="10.5" text-anchor="middle" >6</text>
<text transform="translate(494 401.18) scale(1 1.05)" font-size="10.5" text-anchor="end" >−4</text>
<text transform="translate(494 367.6) scale(1 1.05)" font-size="10.5" text-anchor="end" >0</text>
<text transform="translate(494 334.02) scale(1 1.05)" font-size="10.5" text-anchor="end" >4</text>
<text transform="translate(494 300.45) scale(1 1.05)" font-size="10.5" text-anchor="end" >8</text>
<text transform="translate(13.75 10.6) scale(1 0.96)" font-size="14" text-anchor="middle" >(a)</text>
<text transform="translate(246.7 10.6) scale(1 0.96)" font-size="14" text-anchor="middle" >(b)</text>
<text transform="translate(470.75 10.6) scale(1 0.96)" font-size="14" text-anchor="middle" >(c)</text>
<text transform="translate(8.95 152.7) scale(1 0.96)" font-size="14" text-anchor="middle" >(d)</text>
<text transform="translate(245.5 152.7) scale(1 0.96)" font-size="14" text-anchor="middle" >(e)</text>
<text transform="translate(469.5 152.7) scale(1 0.96)" font-size="14" text-anchor="middle" >(f)</text>
<text transform="translate(8.75 295.2) scale(1 0.96)" font-size="14" text-anchor="middle" >(g)</text>
<text transform="translate(245.5 295.2) scale(1 0.96)" font-size="14" text-anchor="middle" >(h)</text>
<text transform="translate(468.3 295.2) scale(1 0.96)" font-size="14" text-anchor="middle" >(i)</text>
<text transform="translate(131.35 141.8) scale(1 1.0)" font-size="12.5" text-anchor="middle" >Time (ms)</text>
<text transform="translate(356.75 142.9) scale(1 1.0)" font-size="12.5" text-anchor="middle" >Time (ms)</text>
<text transform="translate(587.45 142.9) scale(1 1.0)" font-size="12.5" text-anchor="middle" >Time (ms)</text>
<text transform="translate(131.15 286.4) scale(1 1.0)" font-size="13.3" text-anchor="middle" >Time (ms)</text>
<text transform="translate(356.77 286.85) scale(1 1.0)" font-size="13.3" text-anchor="middle" >Time (ms)</text>
<text transform="translate(587.55 286.95) scale(1 1.0)" font-size="13.3" text-anchor="middle" >Time (ms)</text>
<text transform="translate(131.5 428.85) scale(1 0.95)" font-size="13.6" text-anchor="middle" >ΔN (10<tspan baseline-shift="5" font-size="10">8</tspan>)</text>
<text transform="translate(356.9 427.75) scale(1 0.95)" font-size="13.6" text-anchor="middle" >ΔN (10<tspan baseline-shift="5" font-size="10">8</tspan>)</text>
<text transform="translate(587.3 427.9) scale(1 0.95)" font-size="13.6" text-anchor="middle" >ΔN (10<tspan baseline-shift="5" font-size="10">8</tspan>)</text>
<text transform="translate(14.3,59.55) rotate(-90)" font-size="14" text-anchor="middle">N<tspan baseline-shift="-0.6" font-size="9">1,2</tspan> (10<tspan baseline-shift="6.5" font-size="9.5">8</tspan>)</text>
<text transform="translate(247.3,60.05) rotate(-90)" font-size="14" text-anchor="middle">N<tspan baseline-shift="-0.6" font-size="9">1,2</tspan> (10<tspan baseline-shift="6.5" font-size="9.5">8</tspan>)</text>
<text transform="translate(473.8,59.9) rotate(-90)" font-size="14" text-anchor="middle">N<tspan baseline-shift="-0.6" font-size="9">1,2</tspan> (10<tspan baseline-shift="6.5" font-size="9.5">8</tspan>)</text>
<text transform="translate(14,207.65) rotate(-90)" font-size="13.5" text-anchor="middle">J (10<tspan baseline-shift="5.5" font-size="9.5">−17</tspan> J s<tspan baseline-shift="5.5" font-size="9.5">−1</tspan>)</text>
<text transform="translate(246.2,208.08) rotate(-90)" font-size="13.5" text-anchor="middle">J (10<tspan baseline-shift="5.5" font-size="9.5">−17</tspan> J s<tspan baseline-shift="5.5" font-size="9.5">−1</tspan>)</text>
<text transform="translate(474.3,208.38) rotate(-90)" font-size="13.5" text-anchor="middle">J (10<tspan baseline-shift="5.5" font-size="9.5">−17</tspan> J s<tspan baseline-shift="5.5" font-size="9.5">−1</tspan>)</text>
<text transform="translate(14,348.02) rotate(-90)" font-size="13.5" text-anchor="middle">J (10<tspan baseline-shift="5.5" font-size="9.5">−17</tspan> J s<tspan baseline-shift="5.5" font-size="9.5">−1</tspan>)</text>
<text transform="translate(246.5,347.05) rotate(-90)" font-size="13.5" text-anchor="middle">J (10<tspan baseline-shift="5.5" font-size="9.5">−17</tspan> J s<tspan baseline-shift="5.5" font-size="9.5">−1</tspan>)</text>
<text transform="translate(474.3,347.02) rotate(-90)" font-size="13.5" text-anchor="middle">J (10<tspan baseline-shift="5.5" font-size="9.5">−17</tspan> J s<tspan baseline-shift="5.5" font-size="9.5">−1</tspan>)</text>
</svg></body></html>
